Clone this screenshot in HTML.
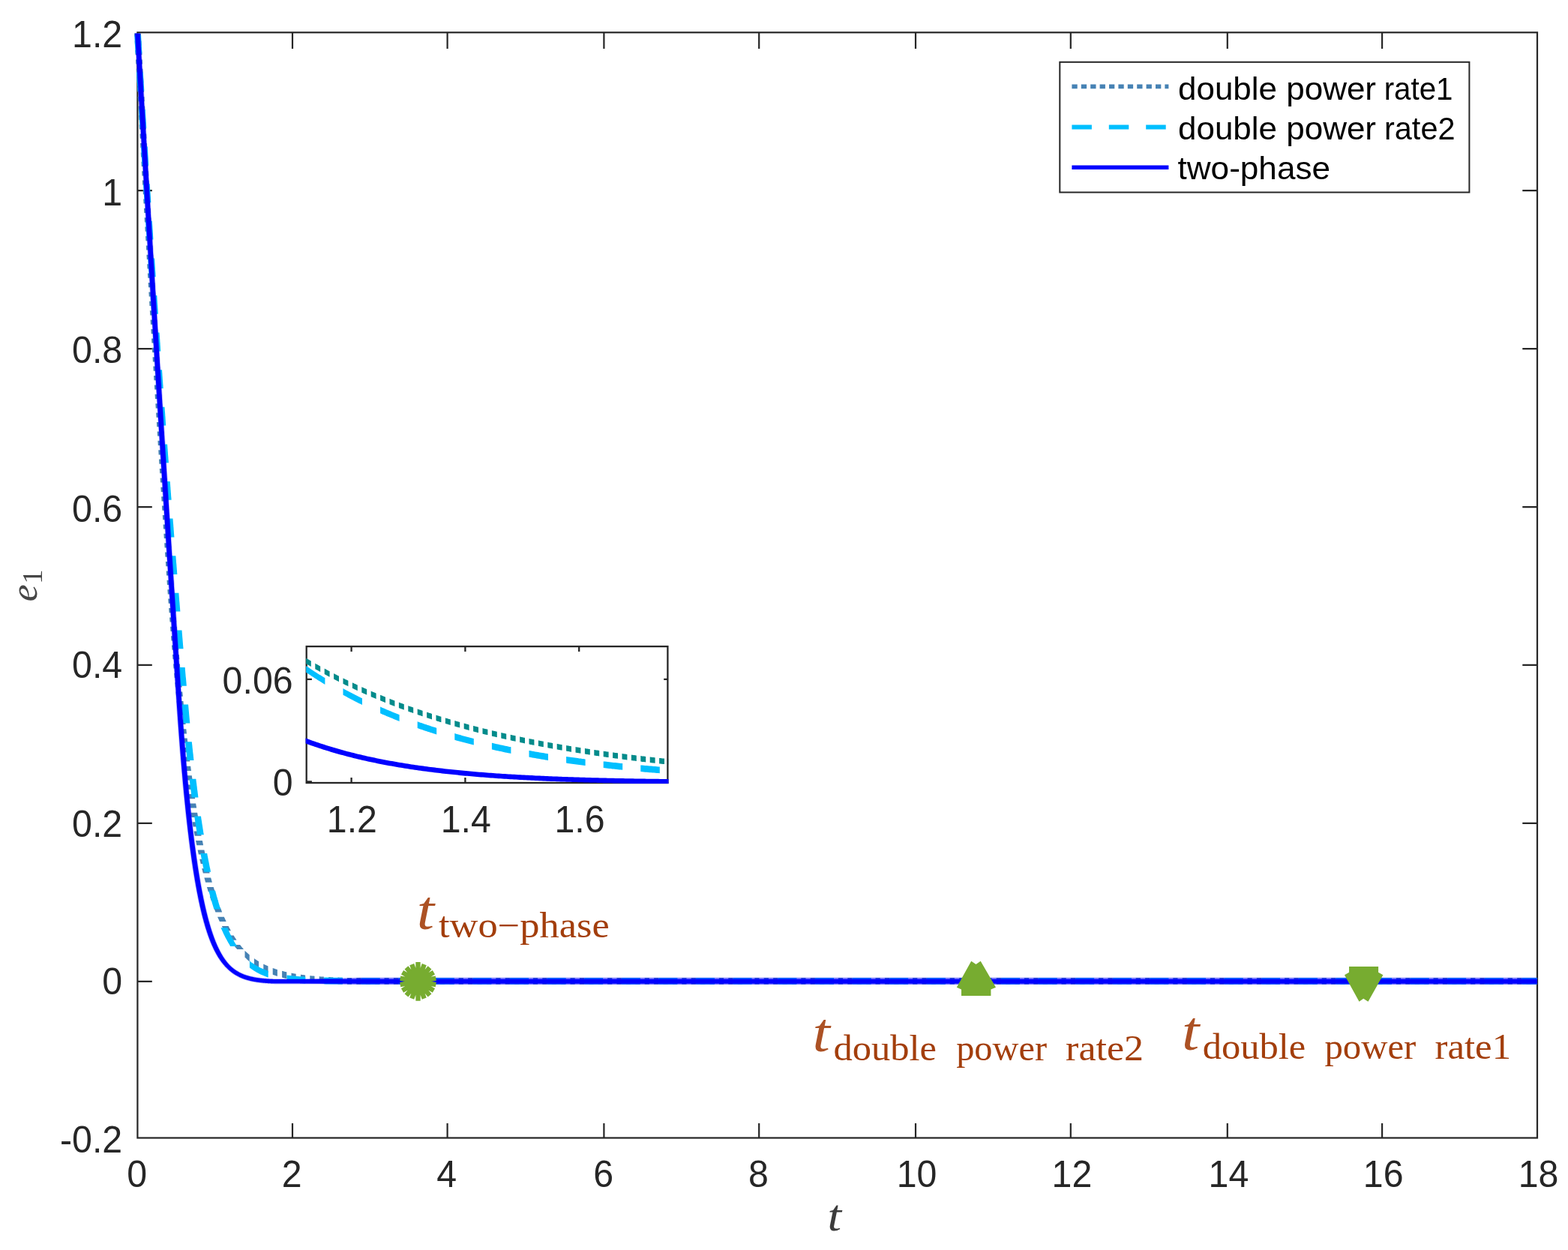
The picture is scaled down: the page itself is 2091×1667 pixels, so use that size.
<!DOCTYPE html>
<html lang="en"><head><meta charset="utf-8"><title>Convergence of e1: double power rate vs two-phase</title>
<style>html,body{margin:0;padding:0;background:#fff}body{width:2091px;height:1667px;overflow:hidden}svg{display:block}
.tk{font-family:"Liberation Sans",sans-serif;font-size:48.30px;fill:#262626}
.lg{font-family:"Liberation Sans",sans-serif;font-size:43.40px;fill:#000}
.mi{font-family:"Liberation Serif",serif;font-style:italic}
.mr{font-family:"Liberation Serif",serif}
.an{fill:#A33E0C}
</style></head><body>
<svg width="2091" height="1667" viewBox="0 0 2091 1667" role="img" aria-label="Convergence of e1 over t for double power rate1, double power rate2 and two-phase reaching laws">
<rect width="2091" height="1667" fill="#fff"/>
<defs><clipPath id="cm"><rect x="175.40" y="44.40" width="1874.60" height="1474.20"/></clipPath>
<clipPath id="ci"><rect x="407.60" y="862.10" width="483.90" height="183.00"/></clipPath></defs>
<g stroke="#262626" stroke-width="2.20" fill="none" stroke-linecap="butt">
<rect x="183.40" y="43.30" width="1866.60" height="1474.20"/>
<path d="M390.00,1517.50v-19.40M390.00,43.30v21.80M596.60,1517.50v-19.40M596.60,43.30v21.80M805.40,1517.50v-19.40M805.40,43.30v21.80M1012.20,1517.50v-19.40M1012.20,43.30v21.80M1221.00,1517.50v-19.40M1221.00,43.30v21.80M1427.80,1517.50v-19.40M1427.80,43.30v21.80M1636.80,1517.50v-19.40M1636.80,43.30v21.80M1843.10,1517.50v-19.40M1843.10,43.30v21.80M183.40,1308.80h19.40M2050.00,1308.80h-19.70M183.40,1097.88h19.40M2050.00,1097.88h-19.70M183.40,886.96h19.40M2050.00,886.96h-19.70M183.40,676.04h19.40M2050.00,676.04h-19.70M183.40,465.12h19.40M2050.00,465.12h-19.70M183.40,254.20h19.40M2050.00,254.20h-19.70"/>
</g>
<text class="tk" transform="translate(182.60,1582.90) scale(1,1.015)" text-anchor="middle">0</text>
<text class="tk" transform="translate(389.20,1582.90) scale(1,1.015)" text-anchor="middle">2</text>
<text class="tk" transform="translate(595.80,1582.90) scale(1,1.015)" text-anchor="middle">4</text>
<text class="tk" transform="translate(804.60,1582.90) scale(1,1.015)" text-anchor="middle">6</text>
<text class="tk" transform="translate(1011.40,1582.90) scale(1,1.015)" text-anchor="middle">8</text>
<text class="tk" transform="translate(1222.60,1582.90) scale(1,1.015)" text-anchor="middle">10</text>
<text class="tk" transform="translate(1429.40,1582.90) scale(1,1.015)" text-anchor="middle">12</text>
<text class="tk" transform="translate(1638.40,1582.90) scale(1,1.015)" text-anchor="middle">14</text>
<text class="tk" transform="translate(1844.70,1582.90) scale(1,1.015)" text-anchor="middle">16</text>
<text class="tk" transform="translate(2051.60,1582.90) scale(1,1.015)" text-anchor="middle">18</text>
<text class="tk" transform="translate(163.20,1536.60) scale(1,1.015)" text-anchor="end">-0.2</text>
<text class="tk" transform="translate(163.20,1325.70) scale(1,1.015)" text-anchor="end">0</text>
<text class="tk" transform="translate(163.20,1115.50) scale(1,1.015)" text-anchor="end">0.2</text>
<text class="tk" transform="translate(163.20,904.30) scale(1,1.015)" text-anchor="end">0.4</text>
<text class="tk" transform="translate(163.20,695.50) scale(1,1.015)" text-anchor="end">0.6</text>
<text class="tk" transform="translate(163.20,484.00) scale(1,1.015)" text-anchor="end">0.8</text>
<text class="tk" transform="translate(163.20,273.60) scale(1,1.015)" text-anchor="end">1</text>
<text class="tk" transform="translate(163.20,62.50) scale(1,1.015)" text-anchor="end">1.2</text>
<g clip-path="url(#cm)" fill="none" stroke-linejoin="round">
<path d="M187.8,42.8 187.9,43.8 187.9,44.7 188.0,45.7 188.0,46.7 188.1,47.7 188.1,48.4 179.3,48.4 179.3,47.7 179.2,46.7 179.2,45.7 179.1,44.7 179.1,43.8 179.0,42.8ZM188.4,54.6 188.5,55.5 188.5,56.4 188.6,57.4 188.6,58.4 188.7,59.3 188.7,60.3 188.8,60.8 180.0,60.8 179.9,60.3 179.9,59.3 179.8,58.4 179.8,57.4 179.7,56.4 179.7,55.5 179.6,54.6ZM189.1,67.0 189.1,67.1 189.1,68.1 189.2,69.1 189.3,70.0 189.3,71.0 189.4,72.0 189.4,72.9 189.4,73.2 180.6,73.2 180.6,72.9 180.6,72.0 180.5,71.0 180.5,70.0 180.4,69.1 180.3,68.1 180.3,67.1 180.3,67.0ZM189.8,79.4 189.8,79.7 189.8,80.7 189.9,81.6 189.9,82.6 190.0,83.6 190.0,84.5 190.1,85.5 190.1,85.6 181.3,85.6 181.3,85.5 181.2,84.5 181.2,83.6 181.1,82.6 181.1,81.6 181.0,80.7 181.0,79.7 181.0,79.4ZM190.4,91.8 190.4,92.2 190.5,93.2 190.5,94.2 190.6,95.1 190.7,96.1 190.7,97.0 190.8,98.0 182.0,98.0 181.9,97.0 181.9,96.1 181.8,95.1 181.7,94.2 181.7,93.2 181.6,92.2 181.6,91.8ZM191.1,104.2 191.1,104.7 191.2,105.7 191.2,106.7 191.3,107.6 191.3,108.6 191.4,109.5 191.4,110.4 182.6,110.4 182.6,109.5 182.5,108.6 182.5,107.6 182.4,106.7 182.4,105.7 182.3,104.7 182.3,104.2ZM191.8,116.6 191.8,117.2 191.8,118.1 191.9,119.1 191.9,120.1 192.0,121.0 192.1,122.0 192.1,122.8 183.3,122.8 183.3,122.0 183.2,121.0 183.1,120.1 183.1,119.1 183.0,118.1 183.0,117.2 183.0,116.6ZM192.4,129.0 192.5,129.6 192.5,130.5 192.6,131.5 192.6,132.4 192.7,133.4 192.7,134.4 192.8,135.2 184.0,135.2 183.9,134.4 183.9,133.4 183.8,132.4 183.8,131.5 183.7,130.5 183.7,129.6 183.6,129.0ZM193.1,141.4 193.1,142.0 193.2,142.9 193.2,143.8 193.3,144.8 193.3,145.7 193.4,146.7 193.4,147.6 184.6,147.6 184.6,146.7 184.5,145.7 184.5,144.8 184.4,143.8 184.4,142.9 184.3,142.0 184.3,141.4ZM193.8,153.8 193.8,154.3 193.9,155.2 193.9,156.2 194.0,157.1 194.0,158.0 194.1,159.0 194.1,159.9 194.1,160.0 185.3,160.0 185.3,159.9 185.3,159.0 185.2,158.0 185.2,157.1 185.1,156.2 185.1,155.2 185.0,154.3 185.0,153.8ZM194.5,166.2 194.5,166.5 194.5,167.5 194.6,168.4 194.6,169.4 194.7,170.3 194.7,171.3 194.8,172.2 194.8,172.4 186.0,172.4 186.0,172.2 185.9,171.3 185.9,170.3 185.8,169.4 185.8,168.4 185.7,167.5 185.7,166.5 185.7,166.2ZM195.2,178.6 195.2,178.8 195.2,179.7 195.3,180.6 195.3,181.6 195.4,182.5 195.4,183.5 195.5,184.4 195.5,184.8 186.7,184.8 186.7,184.4 186.6,183.5 186.6,182.5 186.5,181.6 186.5,180.6 186.4,179.7 186.4,178.8 186.4,178.6ZM195.8,191.0 195.9,191.9 195.9,192.8 196.0,193.8 196.0,194.7 196.1,195.6 196.1,196.6 196.2,197.2 187.4,197.2 187.3,196.6 187.3,195.6 187.2,194.7 187.2,193.8 187.1,192.8 187.1,191.9 187.0,191.0ZM196.5,203.4 196.6,204.0 196.6,205.0 196.7,205.9 196.7,206.8 196.8,207.8 196.8,208.7 196.9,209.6 188.1,209.6 188.0,208.7 188.0,207.8 187.9,206.8 187.9,205.9 187.8,205.0 187.8,204.0 187.7,203.4ZM197.2,215.8 197.2,216.1 197.3,217.1 197.3,218.0 197.4,218.9 197.4,219.8 197.5,220.8 197.5,221.7 197.6,222.0 188.8,222.0 188.7,221.7 188.7,220.8 188.6,219.8 188.6,218.9 188.5,218.0 188.5,217.1 188.4,216.1 188.4,215.8ZM197.9,228.2 198.0,229.1 198.0,230.0 198.1,230.9 198.1,231.9 198.2,232.8 198.2,233.7 198.3,234.4 189.5,234.4 189.4,233.7 189.4,232.8 189.3,231.9 189.3,230.9 189.2,230.0 189.2,229.1 189.1,228.2ZM198.6,240.6 198.6,241.1 198.7,242.0 198.7,242.9 198.8,243.9 198.8,244.8 198.9,245.7 198.9,246.6 199.0,246.8 190.2,246.8 190.1,246.6 190.1,245.7 190.0,244.8 190.0,243.9 189.9,242.9 189.9,242.0 189.8,241.1 189.8,240.6ZM199.3,253.0 199.3,253.1 199.4,254.0 199.4,254.9 199.5,255.8 199.5,256.7 199.6,257.7 199.6,258.6 199.7,259.2 190.9,259.2 190.8,258.6 190.8,257.7 190.7,256.7 190.7,255.8 190.6,254.9 190.6,254.0 190.5,253.1 190.5,253.0ZM200.0,265.4 200.0,265.9 200.1,266.8 200.1,267.7 200.2,268.6 200.2,269.6 200.3,270.5 200.3,271.4 200.4,271.6 191.6,271.6 191.5,271.4 191.5,270.5 191.4,269.6 191.4,268.6 191.3,267.7 191.3,266.8 191.2,265.9 191.2,265.4ZM200.7,277.8 200.8,278.7 200.8,279.6 200.9,280.5 200.9,281.4 201.0,282.3 201.0,283.2 201.1,284.0 192.3,284.0 192.2,283.2 192.2,282.3 192.1,281.4 192.1,280.5 192.0,279.6 192.0,278.7 191.9,277.8ZM201.4,290.2 201.4,290.5 201.5,291.4 201.5,292.3 201.6,293.2 201.6,294.1 201.7,295.0 201.7,295.9 201.8,296.4 193.0,296.4 192.9,295.9 192.9,295.0 192.8,294.1 192.8,293.2 192.7,292.3 192.7,291.4 192.6,290.5 192.6,290.2ZM202.1,302.6 202.2,303.2 202.2,304.1 202.3,305.0 202.3,305.9 202.4,306.8 202.4,307.7 202.5,308.6 202.5,308.8 193.7,308.8 193.7,308.6 193.6,307.7 193.6,306.8 193.5,305.9 193.5,305.0 193.4,304.1 193.4,303.2 193.3,302.6ZM202.8,315.0 202.9,315.8 202.9,316.7 203.0,317.6 203.0,318.5 203.1,319.4 203.2,320.3 203.2,321.2 194.4,321.2 194.4,320.3 194.3,319.4 194.2,318.5 194.2,317.6 194.1,316.7 194.1,315.8 194.0,315.0ZM203.6,327.4 203.6,327.5 203.6,328.4 203.7,329.3 203.7,330.2 203.8,331.1 203.8,332.0 203.9,332.9 203.9,333.6 195.1,333.6 195.1,332.9 195.0,332.0 195.0,331.1 194.9,330.2 194.9,329.3 194.8,328.4 194.8,327.5 194.8,327.4ZM204.3,339.8 204.3,340.1 204.3,341.0 204.4,341.9 204.4,342.8 204.5,343.6 204.6,344.5 204.6,345.4 204.6,346.0 195.8,346.0 195.8,345.4 195.8,344.5 195.7,343.6 195.6,342.8 195.6,341.9 195.5,341.0 195.5,340.1 195.5,339.8ZM205.0,352.2 205.0,352.6 205.1,353.5 205.1,354.3 205.2,355.2 205.2,356.1 205.3,357.0 205.3,357.9 205.4,358.4 196.6,358.4 196.5,357.9 196.5,357.0 196.4,356.1 196.4,355.2 196.3,354.3 196.3,353.5 196.2,352.6 196.2,352.2ZM205.7,364.6 205.7,365.0 205.8,365.9 205.8,366.8 205.9,367.7 206.0,368.6 206.0,369.4 206.1,370.3 206.1,370.8 197.3,370.8 197.3,370.3 197.2,369.4 197.2,368.6 197.1,367.7 197.0,366.8 197.0,365.9 196.9,365.0 196.9,364.6ZM206.4,377.0 206.5,377.4 206.5,378.3 206.6,379.2 206.6,380.1 206.7,380.9 206.7,381.8 206.8,382.7 206.8,383.2 198.0,383.2 198.0,382.7 197.9,381.8 197.9,380.9 197.8,380.1 197.8,379.2 197.7,378.3 197.7,377.4 197.6,377.0ZM207.2,389.4 207.2,389.8 207.2,390.6 207.3,391.5 207.4,392.4 207.4,393.3 207.5,394.2 207.5,395.0 207.5,395.6 198.7,395.6 198.7,395.0 198.7,394.2 198.6,393.3 198.6,392.4 198.5,391.5 198.4,390.6 198.4,389.8 198.4,389.4ZM207.9,401.8 207.9,402.1 208.0,402.9 208.0,403.8 208.1,404.7 208.1,405.6 208.2,406.5 208.2,407.3 208.3,408.0 199.5,408.0 199.4,407.3 199.4,406.5 199.3,405.6 199.3,404.7 199.2,403.8 199.2,402.9 199.1,402.1 199.1,401.8ZM208.6,414.2 208.6,414.3 208.7,415.2 208.8,416.1 208.8,416.9 208.9,417.8 208.9,418.7 209.0,419.6 209.0,420.4 200.2,420.4 200.2,419.6 200.1,418.7 200.1,417.8 200.0,416.9 200.0,416.1 199.9,415.2 199.8,414.3 199.8,414.2ZM209.4,426.6 209.4,427.4 209.5,428.3 209.5,429.1 209.6,430.0 209.6,430.9 209.7,431.8 209.7,432.6 209.7,432.8 200.9,432.8 200.9,432.6 200.9,431.8 200.8,430.9 200.8,430.0 200.7,429.1 200.7,428.3 200.6,427.4 200.6,426.6ZM210.1,439.0 210.2,439.6 210.2,440.4 210.3,441.3 210.3,442.2 210.4,443.0 210.4,443.9 210.5,444.8 210.5,445.2 201.7,445.2 201.7,444.8 201.6,443.9 201.6,443.0 201.5,442.2 201.5,441.3 201.4,440.4 201.4,439.6 201.3,439.0ZM210.9,451.4 210.9,451.7 210.9,452.5 211.0,453.4 211.0,454.3 211.1,455.1 211.1,456.0 211.2,456.9 211.2,457.6 202.4,457.6 202.4,456.9 202.3,456.0 202.3,455.1 202.2,454.3 202.2,453.4 202.1,452.5 202.1,451.7 202.1,451.4ZM211.6,463.8 211.7,464.6 211.7,465.5 211.8,466.3 211.8,467.2 211.9,468.0 211.9,468.9 212.0,469.8 212.0,470.0 203.2,470.0 203.2,469.8 203.1,468.9 203.1,468.0 203.0,467.2 203.0,466.3 202.9,465.5 202.9,464.6 202.8,463.8ZM212.4,476.2 212.4,476.6 212.4,477.5 212.5,478.3 212.5,479.2 212.6,480.0 212.6,480.9 212.7,481.7 212.7,482.4 203.9,482.4 203.9,481.7 203.8,480.9 203.8,480.0 203.7,479.2 203.7,478.3 203.6,477.5 203.6,476.6 203.6,476.2ZM213.1,488.6 213.1,488.6 213.2,489.4 213.2,490.3 213.3,491.1 213.3,492.0 213.4,492.8 213.4,493.7 213.5,494.5 213.5,494.8 204.7,494.8 204.7,494.5 204.6,493.7 204.6,492.8 204.5,492.0 204.5,491.1 204.4,490.3 204.4,489.4 204.3,488.6 204.3,488.6ZM213.9,501.0 213.9,501.4 213.9,502.2 214.0,503.1 214.0,503.9 214.1,504.8 214.1,505.6 214.2,506.4 214.2,507.2 205.4,507.2 205.4,506.4 205.3,505.6 205.3,504.8 205.2,503.9 205.2,503.1 205.1,502.2 205.1,501.4 205.1,501.0ZM214.6,513.4 214.7,514.1 214.7,514.9 214.8,515.8 214.8,516.6 214.9,517.5 214.9,518.3 215.0,519.1 215.0,519.6 206.2,519.6 206.2,519.1 206.1,518.3 206.1,517.5 206.0,516.6 206.0,515.8 205.9,514.9 205.9,514.1 205.8,513.4ZM215.4,525.8 215.4,525.9 215.4,526.7 215.5,527.6 215.5,528.4 215.6,529.3 215.6,530.1 215.7,530.9 215.8,531.8 215.8,532.0 207.0,532.0 207.0,531.8 206.9,530.9 206.8,530.1 206.8,529.3 206.7,528.4 206.7,527.6 206.6,526.7 206.6,525.9 206.6,525.8ZM216.1,538.2 216.2,538.5 216.2,539.4 216.3,540.2 216.3,541.0 216.4,541.9 216.4,542.7 216.5,543.5 216.5,544.4 207.7,544.4 207.7,543.5 207.6,542.7 207.6,541.9 207.5,541.0 207.5,540.2 207.4,539.4 207.4,538.5 207.3,538.2ZM216.9,550.6 216.9,551.1 217.0,551.9 217.0,552.7 217.1,553.6 217.2,554.4 217.2,555.3 217.3,556.1 217.3,556.8 208.5,556.8 208.5,556.1 208.4,555.3 208.4,554.4 208.3,553.6 208.2,552.7 208.2,551.9 208.1,551.1 208.1,550.6ZM217.7,563.0 217.7,563.6 217.8,564.4 217.8,565.3 217.9,566.1 217.9,566.9 218.0,567.7 218.0,568.6 218.1,569.2 209.3,569.2 209.2,568.6 209.2,567.7 209.1,566.9 209.1,566.1 209.0,565.3 209.0,564.4 208.9,563.6 208.9,563.0ZM218.5,575.4 218.5,576.1 218.6,576.9 218.6,577.7 218.7,578.5 218.7,579.4 218.8,580.2 218.8,581.0 218.8,581.6 210.0,581.6 210.0,581.0 210.0,580.2 209.9,579.4 209.9,578.5 209.8,577.7 209.8,576.9 209.7,576.1 209.7,575.4ZM219.2,587.8 219.3,588.5 219.3,589.3 219.4,590.1 219.4,590.9 219.5,591.8 219.5,592.6 219.6,593.4 219.6,594.0 210.8,594.0 210.8,593.4 210.7,592.6 210.7,591.8 210.6,590.9 210.6,590.1 210.5,589.3 210.5,588.5 210.4,587.8ZM220.0,600.2 220.1,600.8 220.1,601.6 220.2,602.5 220.2,603.3 220.3,604.1 220.3,604.9 220.4,605.7 220.4,606.4 211.6,606.4 211.6,605.7 211.5,604.9 211.5,604.1 211.4,603.3 211.4,602.5 211.3,601.6 211.3,600.8 211.2,600.2ZM220.8,612.6 220.8,613.1 220.9,613.9 220.9,614.8 221.0,615.6 221.0,616.4 221.1,617.2 221.1,618.0 221.2,618.8 212.4,618.8 212.3,618.0 212.3,617.2 212.2,616.4 212.2,615.6 212.1,614.8 212.1,613.9 212.0,613.1 212.0,612.6ZM221.6,625.0 221.6,625.4 221.7,626.2 221.7,627.0 221.8,627.8 221.8,628.6 221.9,629.5 221.9,630.3 222.0,631.1 222.0,631.2 213.2,631.2 213.2,631.1 213.1,630.3 213.1,629.5 213.0,628.6 213.0,627.8 212.9,627.0 212.9,626.2 212.8,625.4 212.8,625.0ZM222.4,637.4 222.4,637.6 222.4,638.4 222.5,639.2 222.5,640.0 222.6,640.8 222.6,641.6 222.7,642.5 222.8,643.3 222.8,643.6 214.0,643.6 214.0,643.3 213.9,642.5 213.8,641.6 213.8,640.8 213.7,640.0 213.7,639.2 213.6,638.4 213.6,637.6 213.6,637.4ZM223.2,649.8 223.2,650.5 223.3,651.4 223.3,652.2 223.4,653.0 223.4,653.8 223.5,654.6 223.5,655.4 223.6,656.0 214.8,656.0 214.7,655.4 214.7,654.6 214.6,653.8 214.6,653.0 214.5,652.2 214.5,651.4 214.4,650.5 214.4,649.8ZM224.0,662.2 224.0,662.6 224.0,663.5 224.1,664.3 224.2,665.1 224.2,665.9 224.3,666.7 224.3,667.5 224.4,668.3 224.4,668.4 215.6,668.4 215.6,668.3 215.5,667.5 215.5,666.7 215.4,665.9 215.4,665.1 215.3,664.3 215.2,663.5 215.2,662.6 215.2,662.2ZM224.8,674.6 224.8,674.7 224.8,675.5 224.9,676.3 224.9,677.1 225.0,677.9 225.0,678.7 225.1,679.5 225.1,680.3 225.2,680.8 216.4,680.8 216.3,680.3 216.3,679.5 216.2,678.7 216.2,677.9 216.1,677.1 216.1,676.3 216.0,675.5 216.0,674.7 216.0,674.6ZM225.6,687.0 225.6,687.5 225.7,688.3 225.7,689.1 225.8,689.9 225.8,690.7 225.9,691.5 225.9,692.3 226.0,693.1 226.0,693.2 217.2,693.2 217.2,693.1 217.1,692.3 217.1,691.5 217.0,690.7 217.0,689.9 216.9,689.1 216.9,688.3 216.8,687.5 216.8,687.0ZM226.4,699.4 226.4,699.4 226.4,700.2 226.5,701.0 226.5,701.8 226.6,702.6 226.6,703.4 226.7,704.2 226.7,705.0 226.8,705.6 218.0,705.6 217.9,705.0 217.9,704.2 217.8,703.4 217.8,702.6 217.7,701.8 217.7,701.0 217.6,700.2 217.6,699.4 217.6,699.4ZM227.2,711.8 227.2,712.1 227.3,712.9 227.3,713.7 227.4,714.5 227.4,715.3 227.5,716.1 227.5,716.9 227.6,717.7 227.6,718.0 218.8,718.0 218.8,717.7 218.7,716.9 218.7,716.1 218.6,715.3 218.6,714.5 218.5,713.7 218.5,712.9 218.4,712.1 218.4,711.8ZM228.0,724.2 228.0,724.8 228.1,725.6 228.1,726.3 228.2,727.1 228.2,727.9 228.3,728.7 228.4,729.5 228.4,730.3 228.4,730.4 219.6,730.4 219.6,730.3 219.6,729.5 219.5,728.7 219.4,727.9 219.4,727.1 219.3,726.3 219.3,725.6 219.2,724.8 219.2,724.2ZM228.8,736.6 228.9,737.3 228.9,738.1 229.0,738.9 229.0,739.7 229.1,740.5 229.1,741.3 229.2,742.0 229.2,742.8 220.4,742.8 220.4,742.0 220.3,741.3 220.3,740.5 220.2,739.7 220.2,738.9 220.1,738.1 220.1,737.3 220.0,736.6ZM229.6,749.0 229.6,749.1 229.7,749.9 229.8,750.6 229.8,751.4 229.9,752.2 229.9,753.0 230.0,753.8 230.0,754.5 230.1,755.2 221.3,755.2 221.2,754.5 221.2,753.8 221.1,753.0 221.1,752.2 221.0,751.4 221.0,750.6 220.9,749.9 220.8,749.1 220.8,749.0ZM230.5,761.4 230.5,761.6 230.5,762.3 230.6,763.1 230.6,763.9 230.7,764.7 230.7,765.4 230.8,766.2 230.8,767.0 230.9,767.6 222.1,767.6 222.0,767.0 222.0,766.2 221.9,765.4 221.9,764.7 221.8,763.9 221.8,763.1 221.7,762.3 221.7,761.6 221.7,761.4ZM231.3,773.8 231.3,773.8 231.4,774.6 231.4,775.4 231.5,776.1 231.5,776.9 231.6,777.6 231.6,778.4 231.7,779.1 231.7,779.9 231.7,780.0 222.9,780.0 222.9,779.9 222.9,779.1 222.8,778.4 222.8,777.6 222.7,776.9 222.7,776.1 222.6,775.4 222.6,774.6 222.5,773.8 222.5,773.8ZM232.2,786.2 232.2,786.6 232.2,787.3 232.3,788.1 232.3,788.8 232.4,789.6 232.5,790.3 232.5,791.0 232.6,791.8 232.6,792.4 223.8,792.4 223.8,791.8 223.7,791.0 223.7,790.3 223.6,789.6 223.5,788.8 223.5,788.1 223.4,787.3 223.4,786.6 223.4,786.2ZM233.0,798.6 233.1,799.0 233.1,799.8 233.2,800.5 233.2,801.2 233.3,801.9 233.3,802.7 233.4,803.4 233.4,804.1 233.5,804.8 224.7,804.8 224.6,804.1 224.6,803.4 224.5,802.7 224.5,801.9 224.4,801.2 224.4,800.5 224.3,799.8 224.3,799.0 224.2,798.6ZM233.9,811.0 234.0,811.2 234.0,811.9 234.1,812.6 234.1,813.3 234.2,814.0 234.2,814.7 234.3,815.4 234.3,816.1 234.4,816.8 234.4,817.2 225.6,817.2 225.6,816.8 225.5,816.1 225.5,815.4 225.4,814.7 225.4,814.0 225.3,813.3 225.3,812.6 225.2,811.9 225.2,811.2 225.1,811.0ZM234.9,823.4 234.9,823.7 234.9,824.4 235.0,825.1 235.0,825.8 235.1,826.5 235.1,827.2 235.2,827.8 235.3,828.5 235.3,829.2 235.3,829.6 226.5,829.6 226.5,829.2 226.5,828.5 226.4,827.8 226.3,827.2 226.3,826.5 226.2,825.8 226.2,825.1 226.1,824.4 226.1,823.7 226.1,823.4ZM235.8,835.8 235.8,836.0 235.9,836.6 235.9,837.3 236.0,838.0 236.0,838.6 236.1,839.3 236.1,840.0 236.2,840.6 236.2,841.3 236.3,841.9 236.3,842.0 227.5,842.0 227.5,841.9 227.4,841.3 227.4,840.6 227.3,840.0 227.3,839.3 227.2,838.6 227.2,838.0 227.1,837.3 227.1,836.6 227.0,836.0 227.0,835.8ZM236.8,848.2 236.8,848.5 236.9,849.2 236.9,849.8 237.0,850.5 237.0,851.1 237.1,851.8 237.1,852.4 237.2,853.1 237.2,853.7 237.3,854.3 237.3,854.4 228.5,854.4 228.5,854.3 228.4,853.7 228.4,853.1 228.3,852.4 228.3,851.8 228.2,851.1 228.2,850.5 228.1,849.8 228.1,849.2 228.0,848.5 228.0,848.2ZM237.8,860.6 237.8,860.7 237.8,861.4 237.9,862.0 237.9,862.6 238.0,863.3 238.1,863.9 238.1,864.5 238.2,865.2 238.2,865.8 238.3,866.4 238.3,866.8 229.5,866.8 229.5,866.4 229.4,865.8 229.4,865.2 229.3,864.5 229.3,863.9 229.2,863.3 229.1,862.6 229.1,862.0 229.0,861.4 229.0,860.7 229.0,860.6ZM238.8,873.0 238.8,873.2 238.9,873.9 238.9,874.5 239.0,875.1 239.0,875.7 239.1,876.3 239.1,876.9 239.2,877.5 239.2,878.2 239.3,878.8 239.3,879.2 230.5,879.2 230.5,878.8 230.4,878.2 230.4,877.5 230.3,876.9 230.3,876.3 230.2,875.7 230.2,875.1 230.1,874.5 230.1,873.9 230.0,873.2 230.0,873.0ZM239.9,885.4 239.9,885.4 239.9,886.0 240.0,886.6 240.0,887.2 240.1,887.8 240.1,888.4 240.2,889.0 240.2,889.6 240.3,890.2 240.3,890.8 240.4,891.4 240.4,891.6 231.6,891.6 231.6,891.4 231.5,890.8 231.5,890.2 231.4,889.6 231.4,889.0 231.3,888.4 231.3,887.8 231.2,887.2 231.2,886.6 231.1,886.0 231.1,885.4 231.1,885.4ZM241.0,897.8 241.0,897.8 241.0,898.4 241.1,899.0 241.1,899.5 241.2,900.1 241.2,900.7 241.3,901.3 241.3,901.8 241.4,902.4 241.4,903.0 241.5,903.6 241.5,904.0 232.7,904.0 232.7,903.6 232.6,903.0 232.6,902.4 232.5,901.8 232.5,901.3 232.4,900.7 232.4,900.1 232.3,899.5 232.3,899.0 232.2,898.4 232.2,897.8 232.2,897.8ZM242.1,910.2 242.1,910.4 242.1,910.9 242.2,911.5 242.3,912.1 242.3,912.6 242.4,913.2 242.4,913.7 242.5,914.3 242.5,914.9 242.6,915.4 242.6,916.0 242.7,916.4 233.9,916.4 233.8,916.0 233.8,915.4 233.7,914.9 233.7,914.3 233.6,913.7 233.6,913.2 233.5,912.6 233.5,912.1 233.4,911.5 233.3,910.9 233.3,910.4 233.3,910.2ZM243.2,922.6 243.2,922.6 243.3,923.1 243.3,923.7 243.4,924.2 243.4,924.8 243.5,925.3 243.5,925.8 243.6,926.4 243.7,926.9 243.7,927.5 243.8,928.0 243.8,928.5 243.8,928.8 235.0,928.8 235.0,928.5 235.0,928.0 234.9,927.5 234.9,926.9 234.8,926.4 234.7,925.8 234.7,925.3 234.6,924.8 234.6,924.2 234.5,923.7 234.5,923.1 234.4,922.6 234.4,922.6ZM244.4,935.0 244.5,935.5 244.5,936.0 244.6,936.5 244.6,937.0 244.7,937.6 244.7,938.1 244.8,938.6 244.8,939.1 244.9,939.7 244.9,940.2 245.0,940.7 245.0,941.2 236.2,941.2 236.2,940.7 236.1,940.2 236.1,939.7 236.0,939.1 236.0,938.6 235.9,938.1 235.9,937.6 235.8,937.0 235.8,936.5 235.7,936.0 235.7,935.5 235.6,935.0ZM245.7,947.4 245.7,947.4 245.7,947.9 245.8,948.4 245.8,948.9 245.9,949.4 245.9,949.9 246.0,950.4 246.0,950.9 246.1,951.4 246.1,951.9 246.2,952.5 246.2,953.0 246.3,953.5 246.3,953.6 237.5,953.6 237.5,953.5 237.4,953.0 237.4,952.5 237.3,951.9 237.3,951.4 237.2,950.9 237.2,950.4 237.1,949.9 237.1,949.4 237.0,948.9 237.0,948.4 236.9,947.9 236.9,947.4 236.9,947.4ZM247.0,959.8 247.0,959.9 247.0,960.4 247.1,960.9 247.1,961.4 247.2,961.9 247.2,962.4 247.3,962.9 247.3,963.3 247.4,963.8 247.4,964.3 247.5,964.8 247.5,965.3 247.6,965.8 247.6,966.0 238.8,966.0 238.8,965.8 238.7,965.3 238.7,964.8 238.6,964.3 238.6,963.8 238.5,963.3 238.5,962.9 238.4,962.4 238.4,961.9 238.3,961.4 238.3,960.9 238.2,960.4 238.2,959.9 238.2,959.8ZM248.3,972.2 248.3,972.5 248.4,973.0 248.4,973.4 248.5,973.9 248.5,974.4 248.6,974.8 248.6,975.3 248.7,975.8 248.7,976.3 248.8,976.7 248.8,977.2 248.9,977.7 248.9,978.1 249.0,978.4 240.2,978.4 240.1,978.1 240.1,977.7 240.0,977.2 240.0,976.7 239.9,976.3 239.9,975.8 239.8,975.3 239.8,974.8 239.7,974.4 239.7,973.9 239.6,973.4 239.6,973.0 239.5,972.5 239.5,972.2ZM249.7,984.6 249.7,984.6 249.7,985.0 249.8,985.5 249.8,986.0 249.9,986.4 249.9,986.9 250.0,987.3 250.0,987.8 250.1,988.2 250.1,988.7 250.2,989.1 250.2,989.6 250.3,990.0 250.3,990.5 250.4,990.8 241.6,990.8 241.5,990.5 241.5,990.0 241.4,989.6 241.4,989.1 241.3,988.7 241.3,988.2 241.2,987.8 241.2,987.3 241.1,986.9 241.1,986.4 241.0,986.0 241.0,985.5 240.9,985.0 240.9,984.6 240.9,984.6ZM251.1,997.0 251.1,997.1 251.2,997.6 251.2,998.0 251.3,998.4 251.3,998.9 251.4,999.3 251.4,999.8 251.5,1000.2 251.5,1000.6 251.6,1001.1 251.6,1001.5 251.7,1001.9 251.7,1002.4 251.8,1002.8 251.8,1003.2 243.0,1003.2 243.0,1002.8 242.9,1002.4 242.9,1001.9 242.8,1001.5 242.8,1001.1 242.7,1000.6 242.7,1000.2 242.6,999.8 242.6,999.3 242.5,998.9 242.5,998.4 242.4,998.0 242.4,997.6 242.3,997.1 242.3,997.0ZM252.6,1009.4 252.6,1009.6 252.7,1010.0 252.7,1010.4 252.8,1010.9 252.8,1011.3 252.9,1011.7 252.9,1012.1 253.0,1012.5 253.0,1013.0 253.1,1013.4 253.1,1013.8 253.2,1014.2 253.2,1014.6 253.3,1015.0 253.3,1015.4 253.4,1015.6 244.6,1015.6 244.5,1015.4 244.5,1015.0 244.4,1014.6 244.4,1014.2 244.3,1013.8 244.3,1013.4 244.2,1013.0 244.2,1012.5 244.1,1012.1 244.1,1011.7 244.0,1011.3 244.0,1010.9 243.9,1010.4 243.9,1010.0 243.8,1009.6 243.8,1009.4ZM254.2,1021.8 254.2,1022.0 254.2,1022.4 254.3,1022.8 254.3,1023.2 254.4,1023.6 254.4,1024.0 254.5,1024.4 254.5,1024.8 254.6,1025.2 254.6,1025.6 254.7,1026.0 254.7,1026.4 254.8,1026.8 254.9,1027.2 254.9,1027.6 255.0,1028.0 255.0,1028.0 246.2,1028.0 246.2,1028.0 246.1,1027.6 246.1,1027.2 246.0,1026.8 245.9,1026.4 245.9,1026.0 245.8,1025.6 245.8,1025.2 245.7,1024.8 245.7,1024.4 245.6,1024.0 245.6,1023.6 245.5,1023.2 245.5,1022.8 245.4,1022.4 245.4,1022.0 245.4,1021.8ZM255.8,1034.2 255.8,1034.2 255.8,1034.6 255.9,1035.0 255.9,1035.4 256.0,1035.8 256.0,1036.1 256.1,1036.5 256.1,1036.9 256.2,1037.3 256.3,1037.7 256.3,1038.0 256.4,1038.4 256.4,1038.8 256.5,1039.2 256.5,1039.6 256.6,1039.9 256.6,1040.3 256.6,1040.4 247.8,1040.4 247.8,1040.3 247.8,1039.9 247.7,1039.6 247.7,1039.2 247.6,1038.8 247.6,1038.4 247.5,1038.0 247.5,1037.7 247.4,1037.3 247.3,1036.9 247.3,1036.5 247.2,1036.1 247.2,1035.8 247.1,1035.4 247.1,1035.0 247.0,1034.6 247.0,1034.2 247.0,1034.2ZM257.5,1046.6 257.5,1046.7 257.5,1047.0 257.6,1047.4 257.7,1047.8 257.7,1048.1 257.8,1048.5 257.8,1048.9 257.9,1049.2 257.9,1049.6 258.0,1050.0 258.0,1050.3 258.1,1050.7 258.1,1051.0 258.2,1051.4 258.2,1051.8 258.3,1052.1 258.3,1052.5 258.4,1052.8 249.6,1052.8 249.5,1052.5 249.5,1052.1 249.4,1051.8 249.4,1051.4 249.3,1051.0 249.3,1050.7 249.2,1050.3 249.2,1050.0 249.1,1049.6 249.1,1049.2 249.0,1048.9 249.0,1048.5 248.9,1048.1 248.9,1047.8 248.8,1047.4 248.7,1047.0 248.7,1046.7 248.7,1046.6ZM259.3,1059.0 259.3,1059.2 259.4,1059.6 259.4,1059.9 259.5,1060.3 259.5,1060.6 259.6,1061.0 259.6,1061.3 259.7,1061.7 259.7,1062.0 259.8,1062.4 259.8,1062.7 259.9,1063.1 259.9,1063.4 260.0,1063.8 260.0,1064.1 260.1,1064.4 260.1,1064.8 260.2,1065.1 260.2,1065.2 251.4,1065.2 251.4,1065.1 251.3,1064.8 251.3,1064.4 251.2,1064.1 251.2,1063.8 251.1,1063.4 251.1,1063.1 251.0,1062.7 251.0,1062.4 250.9,1062.0 250.9,1061.7 250.8,1061.3 250.8,1061.0 250.7,1060.6 250.7,1060.3 250.6,1059.9 250.6,1059.6 250.5,1059.2 250.5,1059.0ZM261.2,1071.4 261.2,1071.5 261.2,1071.9 261.3,1072.2 261.3,1072.5 261.4,1072.9 261.4,1073.2 261.5,1073.5 261.5,1073.9 261.6,1074.2 261.6,1074.5 261.7,1074.8 261.8,1075.2 261.8,1075.5 261.9,1075.8 261.9,1076.2 262.0,1076.5 262.0,1076.8 262.1,1077.1 262.1,1077.5 262.1,1077.6 253.3,1077.6 253.3,1077.5 253.3,1077.1 253.2,1076.8 253.2,1076.5 253.1,1076.2 253.1,1075.8 253.0,1075.5 253.0,1075.2 252.9,1074.8 252.8,1074.5 252.8,1074.2 252.7,1073.9 252.7,1073.5 252.6,1073.2 252.6,1072.9 252.5,1072.5 252.5,1072.2 252.4,1071.9 252.4,1071.5 252.4,1071.4ZM263.1,1083.8 263.2,1083.9 263.2,1084.2 263.3,1084.5 263.3,1084.8 263.4,1085.1 263.4,1085.4 263.5,1085.7 263.5,1086.1 263.6,1086.4 263.6,1086.7 263.7,1087.0 263.7,1087.3 263.8,1087.6 263.8,1087.9 263.9,1088.2 263.9,1088.5 264.0,1088.9 264.0,1089.2 264.1,1089.5 264.1,1089.8 264.2,1090.0 255.4,1090.0 255.3,1089.8 255.3,1089.5 255.2,1089.2 255.2,1088.9 255.1,1088.5 255.1,1088.2 255.0,1087.9 255.0,1087.6 254.9,1087.3 254.9,1087.0 254.8,1086.7 254.8,1086.4 254.7,1086.1 254.7,1085.7 254.6,1085.4 254.6,1085.1 254.5,1084.8 254.5,1084.5 254.4,1084.2 254.4,1083.9 254.3,1083.8ZM265.2,1096.2 265.3,1096.4 265.4,1097.0 265.5,1097.6 265.6,1098.2 265.7,1098.8 265.8,1099.4 265.9,1100.0 266.0,1100.6 266.1,1101.1 266.2,1101.7 266.3,1102.3 266.3,1102.4 257.5,1102.4 257.5,1102.3 257.4,1101.7 257.3,1101.1 257.2,1100.6 257.1,1100.0 257.0,1099.4 256.9,1098.8 256.8,1098.2 256.7,1097.6 256.6,1097.0 256.5,1096.4 256.4,1096.2ZM267.5,1108.6 267.5,1108.8 267.6,1109.4 267.7,1110.0 267.8,1110.5 267.9,1111.1 268.0,1111.6 268.1,1112.2 268.2,1112.7 268.3,1113.3 268.4,1113.8 268.5,1114.4 268.6,1114.6 268.6,1114.8 259.8,1114.8 259.8,1114.6 259.7,1114.4 259.6,1113.8 259.5,1113.3 259.4,1112.7 259.3,1112.2 259.2,1111.6 259.1,1111.1 259.0,1110.5 258.9,1110.0 258.8,1109.4 258.7,1108.8 258.7,1108.6ZM269.8,1121.0 269.8,1121.1 269.9,1121.6 270.0,1122.1 270.2,1122.6 270.3,1123.1 270.4,1123.7 270.5,1124.2 270.6,1124.7 270.7,1125.2 270.8,1125.7 270.9,1126.2 271.0,1126.7 271.0,1127.0 271.1,1127.2 262.3,1127.2 262.2,1127.0 262.2,1126.7 262.1,1126.2 262.0,1125.7 261.9,1125.2 261.8,1124.7 261.7,1124.2 261.6,1123.7 261.5,1123.1 261.4,1122.6 261.2,1122.1 261.1,1121.6 261.0,1121.1 261.0,1121.0ZM272.4,1133.4 272.4,1133.5 272.5,1134.0 272.6,1134.5 272.7,1135.0 272.8,1135.4 272.9,1135.9 273.0,1136.4 273.1,1136.9 273.2,1137.4 273.3,1137.8 273.4,1138.3 273.5,1138.8 273.6,1139.3 273.7,1139.5 273.7,1139.6 264.9,1139.6 264.9,1139.5 264.8,1139.3 264.7,1138.8 264.6,1138.3 264.5,1137.8 264.4,1137.4 264.3,1136.9 264.2,1136.4 264.1,1135.9 264.0,1135.4 263.9,1135.0 263.8,1134.5 263.7,1134.0 263.6,1133.5 263.6,1133.4ZM275.1,1145.8 275.1,1146.0 275.2,1146.5 275.3,1146.9 275.4,1147.4 275.5,1147.8 275.6,1148.3 275.8,1148.7 275.9,1149.2 276.0,1149.6 276.1,1150.0 276.2,1150.5 276.3,1150.9 276.4,1151.4 276.5,1151.8 276.5,1152.0 267.7,1152.0 267.7,1151.8 267.6,1151.4 267.5,1150.9 267.4,1150.5 267.3,1150.0 267.2,1149.6 267.1,1149.2 267.0,1148.7 266.8,1148.3 266.7,1147.8 266.6,1147.4 266.5,1146.9 266.4,1146.5 266.3,1146.0 266.3,1145.8ZM278.0,1158.2 278.0,1158.3 278.1,1158.7 278.2,1159.1 278.3,1159.5 278.4,1159.9 278.6,1160.3 278.7,1160.8 278.8,1161.2 278.9,1161.6 279.0,1162.0 279.1,1162.4 279.2,1162.8 279.3,1163.2 279.4,1163.6 279.5,1164.0 279.5,1164.2 279.6,1164.4 270.8,1164.4 270.7,1164.2 270.7,1164.0 270.6,1163.6 270.5,1163.2 270.4,1162.8 270.3,1162.4 270.2,1162.0 270.1,1161.6 270.0,1161.2 269.9,1160.8 269.8,1160.3 269.6,1159.9 269.5,1159.5 269.4,1159.1 269.3,1158.7 269.2,1158.3 269.2,1158.2ZM281.2,1170.6 281.2,1170.7 281.4,1171.3 281.6,1171.9 281.7,1172.4 281.9,1173.0 282.0,1173.6 282.2,1174.1 282.3,1174.7 282.5,1175.3 282.6,1175.8 282.8,1176.4 282.9,1176.7 282.9,1176.8 274.1,1176.8 274.1,1176.7 274.0,1176.4 273.8,1175.8 273.7,1175.3 273.5,1174.7 273.4,1174.1 273.2,1173.6 273.1,1173.0 272.9,1172.4 272.8,1171.9 272.6,1171.3 272.4,1170.7 272.4,1170.6ZM284.7,1183.0 284.7,1183.0 284.9,1183.6 285.0,1184.1 285.2,1184.6 285.3,1185.1 285.5,1185.6 285.7,1186.1 285.8,1186.7 286.0,1187.2 286.1,1187.7 286.3,1188.2 286.4,1188.7 286.5,1189.0 286.6,1189.2 277.8,1189.2 277.7,1189.0 277.6,1188.7 277.5,1188.2 277.3,1187.7 277.2,1187.2 277.0,1186.7 276.9,1186.1 276.7,1185.6 276.5,1185.1 276.4,1184.6 276.2,1184.1 276.1,1183.6 275.9,1183.0 275.9,1183.0ZM288.6,1195.4 288.6,1195.5 288.8,1196.0 288.9,1196.4 289.1,1196.9 289.2,1197.4 289.4,1197.8 289.5,1198.3 289.7,1198.8 289.9,1199.2 290.0,1199.7 290.2,1200.1 290.3,1200.6 290.5,1201.0 290.6,1201.5 290.7,1201.6 281.9,1201.6 281.8,1201.5 281.7,1201.0 281.5,1200.6 281.4,1200.1 281.2,1199.7 281.1,1199.2 280.9,1198.8 280.7,1198.3 280.6,1197.8 280.4,1197.4 280.3,1196.9 280.1,1196.4 280.0,1196.0 279.8,1195.5 279.8,1195.4ZM293.8,1210.3 293.9,1210.4 294.1,1210.9 294.3,1211.4 294.5,1212.0 294.7,1212.5 294.9,1213.1 295.1,1213.6 295.3,1214.1 295.5,1214.6 295.7,1215.2 295.9,1215.7 296.1,1216.2 296.2,1216.4 296.2,1216.5 287.4,1216.5 287.4,1216.4 287.3,1216.2 287.1,1215.7 286.9,1215.2 286.7,1214.6 286.5,1214.1 286.3,1213.6 286.1,1213.1 285.9,1212.5 285.7,1212.0 285.5,1211.4 285.3,1210.9 285.1,1210.4 285.0,1210.3ZM298.8,1222.7 298.9,1222.8 299.1,1223.4 299.4,1223.9 299.7,1224.5 299.9,1225.1 300.2,1225.7 300.4,1226.3 300.7,1226.8 301.0,1227.4 301.2,1228.0 301.5,1228.5 301.6,1228.9 301.6,1228.9 292.8,1228.9 292.8,1228.9 292.7,1228.5 292.4,1228.0 292.2,1227.4 291.9,1226.8 291.6,1226.3 291.4,1225.7 291.1,1225.1 290.9,1224.5 290.6,1223.9 290.3,1223.4 290.1,1222.8 290.0,1222.7ZM304.7,1235.1 304.7,1235.1 305.0,1235.8 305.3,1236.4 305.6,1237.0 305.9,1237.6 306.2,1238.1 306.6,1238.7 306.9,1239.3 307.2,1239.9 307.5,1240.5 307.8,1241.0 307.9,1241.2 307.9,1241.3 299.1,1241.3 299.1,1241.2 299.0,1241.0 298.7,1240.5 298.4,1239.9 298.1,1239.3 297.8,1238.7 297.4,1238.1 297.1,1237.6 296.8,1237.0 296.5,1236.4 296.2,1235.8 295.9,1235.1 295.9,1235.1ZM311.5,1247.5 311.6,1247.5 311.9,1248.1 312.3,1248.7 312.7,1249.3 313.0,1249.9 313.4,1250.4 313.8,1251.0 314.1,1251.6 314.5,1252.1 314.9,1252.7 315.2,1253.2 315.5,1253.7 315.5,1253.7 306.7,1253.7 306.7,1253.7 306.4,1253.2 306.1,1252.7 305.7,1252.1 305.3,1251.6 305.0,1251.0 304.6,1250.4 304.2,1249.9 303.9,1249.3 303.5,1248.7 303.1,1248.1 302.8,1247.5 302.7,1247.5ZM320.0,1259.9 320.0,1259.9 320.5,1260.5 321.0,1261.1 321.4,1261.7 321.9,1262.3 322.4,1262.9 322.8,1263.4 323.3,1264.0 323.8,1264.6 324.2,1265.1 324.7,1265.7 325.1,1266.1 325.1,1266.1 316.3,1266.1 316.3,1266.1 315.9,1265.7 315.4,1265.1 315.0,1264.6 314.5,1264.0 314.0,1263.4 313.6,1262.9 313.1,1262.3 312.6,1261.7 312.2,1261.1 311.7,1260.5 311.2,1259.9 311.2,1259.9ZM326.5,1267.9 326.6,1267.9 327.2,1268.5 327.7,1269.0 328.3,1269.5 328.9,1270.1 329.4,1270.6 330.0,1271.1 330.6,1271.6 331.1,1272.1 331.7,1272.6 332.3,1273.1 332.7,1273.4 332.7,1273.4 332.7,1282.2 332.7,1282.2 332.3,1281.9 331.7,1281.4 331.1,1280.9 330.6,1280.4 330.0,1279.9 329.4,1279.4 328.9,1278.9 328.3,1278.3 327.7,1277.8 327.2,1277.3 326.6,1276.7 326.5,1276.7ZM338.9,1278.2 339.0,1278.2 339.5,1278.6 340.1,1279.0 340.7,1279.4 341.3,1279.8 341.8,1280.1 342.4,1280.5 343.0,1280.9 343.5,1281.2 344.1,1281.6 344.7,1281.9 345.1,1282.2 345.1,1282.2 345.1,1291.0 345.1,1291.0 344.7,1290.7 344.1,1290.4 343.5,1290.0 343.0,1289.7 342.4,1289.3 341.8,1288.9 341.3,1288.6 340.7,1288.2 340.1,1287.8 339.5,1287.4 339.0,1287.0 338.9,1287.0ZM351.3,1285.6 351.4,1285.6 351.9,1285.9 352.5,1286.2 353.1,1286.5 353.7,1286.7 354.2,1287.0 354.8,1287.3 355.4,1287.5 355.9,1287.8 356.5,1288.1 357.1,1288.3 357.5,1288.5 357.5,1288.5 357.5,1297.3 357.5,1297.3 357.1,1297.1 356.5,1296.9 355.9,1296.6 355.4,1296.3 354.8,1296.1 354.2,1295.8 353.7,1295.5 353.1,1295.3 352.5,1295.0 351.9,1294.7 351.4,1294.4 351.3,1294.4ZM363.7,1291.0 363.8,1291.0 364.3,1291.2 364.9,1291.4 365.5,1291.6 366.0,1291.8 366.6,1292.0 367.2,1292.2 367.8,1292.4 368.3,1292.6 368.9,1292.7 369.5,1292.9 369.9,1293.1 369.9,1293.1 369.9,1301.9 369.9,1301.9 369.5,1301.7 368.9,1301.5 368.3,1301.4 367.8,1301.2 367.2,1301.0 366.6,1300.8 366.0,1300.6 365.5,1300.4 364.9,1300.2 364.3,1300.0 363.8,1299.8 363.7,1299.8ZM376.1,1294.8 376.2,1294.8 376.7,1295.0 377.3,1295.1 377.9,1295.3 378.4,1295.4 379.0,1295.6 379.6,1295.7 380.2,1295.9 380.7,1296.0 381.3,1296.1 381.9,1296.2 382.3,1296.4 382.3,1296.4 382.3,1305.2 382.3,1305.2 381.9,1305.0 381.3,1304.9 380.7,1304.8 380.2,1304.7 379.6,1304.5 379.0,1304.4 378.4,1304.2 377.9,1304.1 377.3,1303.9 376.7,1303.8 376.2,1303.6 376.1,1303.6ZM388.5,1297.6 388.6,1297.6 389.1,1297.8 389.7,1297.9 390.3,1298.0 390.8,1298.1 391.4,1298.2 392.0,1298.3 392.5,1298.4 393.1,1298.5 393.7,1298.6 394.3,1298.7 394.7,1298.7 394.7,1298.7 394.7,1307.5 394.7,1307.5 394.3,1307.5 393.7,1307.4 393.1,1307.3 392.5,1307.2 392.0,1307.1 391.4,1307.0 390.8,1306.9 390.3,1306.8 389.7,1306.7 389.1,1306.6 388.6,1306.4 388.5,1306.4ZM400.9,1299.7 400.9,1299.7 401.5,1299.8 402.1,1299.8 402.7,1299.9 403.2,1300.0 403.8,1300.1 404.4,1300.1 404.9,1300.2 405.5,1300.3 406.1,1300.3 406.7,1300.4 407.1,1300.5 407.1,1300.5 407.1,1309.3 407.1,1309.3 406.7,1309.2 406.1,1309.1 405.5,1309.1 404.9,1309.0 404.4,1308.9 403.8,1308.9 403.2,1308.8 402.7,1308.7 402.1,1308.6 401.5,1308.6 400.9,1308.5 400.9,1308.5ZM413.3,1301.2 413.3,1301.2 413.9,1301.2 414.5,1301.3 415.1,1301.3 415.6,1301.4 416.2,1301.4 416.8,1301.5 417.3,1301.5 417.9,1301.6 418.5,1301.6 419.0,1301.7 419.5,1301.7 419.5,1301.7 419.5,1310.5 419.5,1310.5 419.0,1310.5 418.5,1310.4 417.9,1310.4 417.3,1310.3 416.8,1310.3 416.2,1310.2 415.6,1310.2 415.1,1310.1 414.5,1310.1 413.9,1310.0 413.3,1310.0 413.3,1310.0ZM425.7,1302.2 425.8,1302.2 426.4,1302.3 426.9,1302.3 427.5,1302.4 428.1,1302.4 428.6,1302.4 429.2,1302.5 429.8,1302.5 430.4,1302.6 430.9,1302.6 431.5,1302.6 431.9,1302.7 431.9,1302.7 431.9,1311.5 431.9,1311.5 431.5,1311.4 430.9,1311.4 430.4,1311.4 429.8,1311.3 429.2,1311.3 428.6,1311.2 428.1,1311.2 427.5,1311.2 426.9,1311.1 426.4,1311.1 425.8,1311.0 425.7,1311.0ZM438.1,1303.0 438.2,1303.0 438.8,1303.0 439.3,1303.1 439.9,1303.1 440.5,1303.1 441.0,1303.2 441.6,1303.2 442.2,1303.2 442.7,1303.2 443.3,1303.3 443.9,1303.3 444.3,1303.3 444.3,1303.3 444.3,1312.1 444.3,1312.1 443.9,1312.1 443.3,1312.1 442.7,1312.0 442.2,1312.0 441.6,1312.0 441.0,1312.0 440.5,1311.9 439.9,1311.9 439.3,1311.9 438.8,1311.8 438.2,1311.8 438.1,1311.8ZM450.5,1303.6 450.6,1303.6 451.1,1303.6 451.7,1303.6 452.3,1303.7 452.9,1303.7 453.4,1303.7 454.0,1303.7 454.6,1303.7 455.1,1303.8 455.7,1303.8 456.3,1303.8 456.7,1303.8 456.7,1303.8 456.7,1312.6 456.7,1312.6 456.3,1312.6 455.7,1312.6 455.1,1312.6 454.6,1312.5 454.0,1312.5 453.4,1312.5 452.9,1312.5 452.3,1312.5 451.7,1312.4 451.1,1312.4 450.6,1312.4 450.5,1312.4ZM462.9,1303.9 463.0,1303.9 463.5,1303.9 464.1,1303.9 464.7,1303.9 465.3,1303.9 465.8,1303.9 466.4,1303.9 467.0,1303.9 467.5,1303.9 468.1,1303.9 468.7,1303.9 469.1,1303.9 469.1,1303.9 469.1,1312.7 469.1,1312.7 468.7,1312.7 468.1,1312.7 467.5,1312.7 467.0,1312.7 466.4,1312.7 465.8,1312.7 465.3,1312.7 464.7,1312.7 464.1,1312.7 463.5,1312.7 463.0,1312.7 462.9,1312.7ZM475.3,1303.9 475.4,1303.9 475.9,1303.9 476.5,1303.9 477.1,1303.9 477.6,1303.9 478.2,1303.9 478.8,1303.9 479.4,1303.9 479.9,1303.9 480.5,1303.9 481.1,1303.9 481.5,1303.9 481.5,1303.9 481.5,1312.7 481.5,1312.7 481.1,1312.7 480.5,1312.7 479.9,1312.7 479.4,1312.7 478.8,1312.7 478.2,1312.7 477.6,1312.7 477.1,1312.7 476.5,1312.7 475.9,1312.7 475.4,1312.7 475.3,1312.7ZM487.7,1303.9 487.8,1303.9 488.3,1303.9 488.9,1303.9 489.5,1303.9 490.0,1303.9 490.6,1303.9 491.2,1303.9 491.8,1303.9 492.3,1303.9 492.9,1303.9 493.5,1303.9 493.9,1303.9 493.9,1303.9 493.9,1312.7 493.9,1312.7 493.5,1312.7 492.9,1312.7 492.3,1312.7 491.8,1312.7 491.2,1312.7 490.6,1312.7 490.0,1312.7 489.5,1312.7 488.9,1312.7 488.3,1312.7 487.8,1312.7 487.7,1312.7ZM500.1,1303.9 500.6,1303.9 501.4,1303.9 502.3,1303.9 503.1,1303.9 504.0,1303.9 504.9,1303.9 505.7,1303.9 506.3,1303.9 506.3,1312.7 505.7,1312.7 504.9,1312.7 504.0,1312.7 503.1,1312.7 502.3,1312.7 501.4,1312.7 500.6,1312.7 500.1,1312.7ZM512.5,1303.9 512.7,1303.9 513.5,1303.9 514.4,1303.9 515.3,1303.9 516.1,1303.9 517.0,1303.9 517.8,1303.9 518.7,1303.9 518.7,1303.9 518.7,1312.7 518.7,1312.7 517.8,1312.7 517.0,1312.7 516.1,1312.7 515.3,1312.7 514.4,1312.7 513.5,1312.7 512.7,1312.7 512.5,1312.7ZM524.9,1303.9 525.6,1303.9 526.5,1303.9 527.4,1303.9 528.2,1303.9 529.1,1303.9 530.0,1303.9 530.8,1303.9 531.1,1303.9 531.1,1312.7 530.8,1312.7 530.0,1312.7 529.1,1312.7 528.2,1312.7 527.4,1312.7 526.5,1312.7 525.6,1312.7 524.9,1312.7ZM537.3,1303.9 537.7,1303.9 538.6,1303.9 539.5,1303.9 540.3,1303.9 541.2,1303.9 542.1,1303.9 542.9,1303.9 543.5,1303.9 543.5,1312.7 542.9,1312.7 542.1,1312.7 541.2,1312.7 540.3,1312.7 539.5,1312.7 538.6,1312.7 537.7,1312.7 537.3,1312.7ZM549.7,1303.9 549.8,1303.9 550.7,1303.9 551.6,1303.9 552.4,1303.9 553.3,1303.9 554.2,1303.9 555.0,1303.9 555.9,1303.9 555.9,1303.9 555.9,1312.7 555.9,1312.7 555.0,1312.7 554.2,1312.7 553.3,1312.7 552.4,1312.7 551.6,1312.7 550.7,1312.7 549.8,1312.7 549.7,1312.7ZM562.1,1303.9 562.8,1303.9 563.7,1303.9 564.5,1303.9 565.4,1303.9 566.3,1303.9 567.1,1303.9 568.0,1303.9 568.3,1303.9 568.3,1312.7 568.0,1312.7 567.1,1312.7 566.3,1312.7 565.4,1312.7 564.5,1312.7 563.7,1312.7 562.8,1312.7 562.1,1312.7ZM574.5,1303.9 574.9,1303.9 575.8,1303.9 576.6,1303.9 577.5,1303.9 578.4,1303.9 579.2,1303.9 580.1,1303.9 580.7,1303.9 580.7,1312.7 580.1,1312.7 579.2,1312.7 578.4,1312.7 577.5,1312.7 576.6,1312.7 575.8,1312.7 574.9,1312.7 574.5,1312.7ZM586.9,1303.9 587.0,1303.9 587.9,1303.9 588.7,1303.9 589.6,1303.9 590.5,1303.9 591.3,1303.9 592.2,1303.9 593.1,1303.9 593.1,1303.9 593.1,1312.7 593.1,1312.7 592.2,1312.7 591.3,1312.7 590.5,1312.7 589.6,1312.7 588.7,1312.7 587.9,1312.7 587.0,1312.7 586.9,1312.7ZM599.3,1303.9 600.0,1303.9 600.9,1303.9 601.7,1303.9 602.6,1303.9 603.4,1303.9 604.3,1303.9 605.2,1303.9 605.5,1303.9 605.5,1312.7 605.2,1312.7 604.3,1312.7 603.4,1312.7 602.6,1312.7 601.7,1312.7 600.9,1312.7 600.0,1312.7 599.3,1312.7ZM611.7,1303.9 612.1,1303.9 613.0,1303.9 613.8,1303.9 614.7,1303.9 615.6,1303.9 616.4,1303.9 617.3,1303.9 617.9,1303.9 617.9,1312.7 617.3,1312.7 616.4,1312.7 615.6,1312.7 614.7,1312.7 613.8,1312.7 613.0,1312.7 612.1,1312.7 611.7,1312.7ZM624.1,1303.9 624.2,1303.9 625.1,1303.9 625.9,1303.9 626.8,1303.9 627.7,1303.9 628.5,1303.9 629.4,1303.9 630.2,1303.9 630.3,1303.9 630.3,1312.7 630.2,1312.7 629.4,1312.7 628.5,1312.7 627.7,1312.7 626.8,1312.7 625.9,1312.7 625.1,1312.7 624.2,1312.7 624.1,1312.7ZM636.5,1303.9 637.2,1303.9 638.0,1303.9 638.9,1303.9 639.8,1303.9 640.6,1303.9 641.5,1303.9 642.4,1303.9 642.7,1303.9 642.7,1312.7 642.4,1312.7 641.5,1312.7 640.6,1312.7 639.8,1312.7 638.9,1312.7 638.0,1312.7 637.2,1312.7 636.5,1312.7ZM648.9,1303.9 649.3,1303.9 650.1,1303.9 651.0,1303.9 651.9,1303.9 652.7,1303.9 653.6,1303.9 654.5,1303.9 655.1,1303.9 655.1,1312.7 654.5,1312.7 653.6,1312.7 652.7,1312.7 651.9,1312.7 651.0,1312.7 650.1,1312.7 649.3,1312.7 648.9,1312.7ZM661.3,1303.9 661.4,1303.9 662.2,1303.9 663.1,1303.9 664.0,1303.9 664.8,1303.9 665.7,1303.9 666.6,1303.9 667.4,1303.9 667.5,1303.9 667.5,1312.7 667.4,1312.7 666.6,1312.7 665.7,1312.7 664.8,1312.7 664.0,1312.7 663.1,1312.7 662.2,1312.7 661.4,1312.7 661.3,1312.7ZM673.7,1303.9 674.3,1303.9 675.2,1303.9 676.1,1303.9 676.9,1303.9 677.8,1303.9 678.7,1303.9 679.5,1303.9 679.9,1303.9 679.9,1312.7 679.5,1312.7 678.7,1312.7 677.8,1312.7 676.9,1312.7 676.1,1312.7 675.2,1312.7 674.3,1312.7 673.7,1312.7ZM686.1,1303.9 686.5,1303.9 687.3,1303.9 688.2,1303.9 689.0,1303.9 689.9,1303.9 690.8,1303.9 691.6,1303.9 692.3,1303.9 692.3,1312.7 691.6,1312.7 690.8,1312.7 689.9,1312.7 689.0,1312.7 688.2,1312.7 687.3,1312.7 686.5,1312.7 686.1,1312.7ZM698.5,1303.9 698.6,1303.9 699.4,1303.9 700.3,1303.9 701.2,1303.9 702.0,1303.9 702.9,1303.9 703.7,1303.9 704.6,1303.9 704.7,1303.9 704.7,1312.7 704.6,1312.7 703.7,1312.7 702.9,1312.7 702.0,1312.7 701.2,1312.7 700.3,1312.7 699.4,1312.7 698.6,1312.7 698.5,1312.7ZM710.9,1303.9 711.5,1303.9 712.4,1303.9 713.3,1303.9 714.1,1303.9 715.0,1303.9 715.8,1303.9 716.7,1303.9 717.1,1303.9 717.1,1312.7 716.7,1312.7 715.8,1312.7 715.0,1312.7 714.1,1312.7 713.3,1312.7 712.4,1312.7 711.5,1312.7 710.9,1312.7ZM723.3,1303.9 723.6,1303.9 724.5,1303.9 725.4,1303.9 726.2,1303.9 727.1,1303.9 728.0,1303.9 728.8,1303.9 729.5,1303.9 729.5,1312.7 728.8,1312.7 728.0,1312.7 727.1,1312.7 726.2,1312.7 725.4,1312.7 724.5,1312.7 723.6,1312.7 723.3,1312.7ZM735.7,1303.9 736.6,1303.9 737.5,1303.9 738.3,1303.9 739.2,1303.9 740.1,1303.9 740.9,1303.9 741.8,1303.9 741.9,1303.9 741.9,1312.7 741.8,1312.7 740.9,1312.7 740.1,1312.7 739.2,1312.7 738.3,1312.7 737.5,1312.7 736.6,1312.7 735.7,1312.7ZM748.1,1303.9 748.7,1303.9 749.6,1303.9 750.4,1303.9 751.3,1303.9 752.2,1303.9 753.0,1303.9 753.9,1303.9 754.3,1303.9 754.3,1312.7 753.9,1312.7 753.0,1312.7 752.2,1312.7 751.3,1312.7 750.4,1312.7 749.6,1312.7 748.7,1312.7 748.1,1312.7ZM760.5,1303.9 760.8,1303.9 761.7,1303.9 762.5,1303.9 763.4,1303.9 764.3,1303.9 765.1,1303.9 766.0,1303.9 766.7,1303.9 766.7,1312.7 766.0,1312.7 765.1,1312.7 764.3,1312.7 763.4,1312.7 762.5,1312.7 761.7,1312.7 760.8,1312.7 760.5,1312.7ZM772.9,1303.9 773.8,1303.9 774.6,1303.9 775.5,1303.9 776.4,1303.9 777.2,1303.9 778.1,1303.9 779.0,1303.9 779.1,1303.9 779.1,1312.7 779.0,1312.7 778.1,1312.7 777.2,1312.7 776.4,1312.7 775.5,1312.7 774.6,1312.7 773.8,1312.7 772.9,1312.7ZM785.3,1303.9 785.9,1303.9 786.8,1303.9 787.6,1303.9 788.5,1303.9 789.3,1303.9 790.2,1303.9 791.1,1303.9 791.5,1303.9 791.5,1312.7 791.1,1312.7 790.2,1312.7 789.3,1312.7 788.5,1312.7 787.6,1312.7 786.8,1312.7 785.9,1312.7 785.3,1312.7ZM797.7,1303.9 798.0,1303.9 798.9,1303.9 799.7,1303.9 800.6,1303.9 801.4,1303.9 802.3,1303.9 803.2,1303.9 803.9,1303.9 803.9,1312.7 803.2,1312.7 802.3,1312.7 801.4,1312.7 800.6,1312.7 799.7,1312.7 798.9,1312.7 798.0,1312.7 797.7,1312.7ZM810.1,1303.9 811.0,1303.9 811.8,1303.9 812.7,1303.9 813.6,1303.9 814.4,1303.9 815.3,1303.9 816.1,1303.9 816.3,1303.9 816.3,1312.7 816.1,1312.7 815.3,1312.7 814.4,1312.7 813.6,1312.7 812.7,1312.7 811.8,1312.7 811.0,1312.7 810.1,1312.7ZM822.5,1303.9 823.1,1303.9 823.9,1303.9 824.8,1303.9 825.7,1303.9 826.5,1303.9 827.4,1303.9 828.3,1303.9 828.7,1303.9 828.7,1312.7 828.3,1312.7 827.4,1312.7 826.5,1312.7 825.7,1312.7 824.8,1312.7 823.9,1312.7 823.1,1312.7 822.5,1312.7ZM834.9,1303.9 835.2,1303.9 836.0,1303.9 836.9,1303.9 837.8,1303.9 838.6,1303.9 839.5,1303.9 840.4,1303.9 841.1,1303.9 841.1,1312.7 840.4,1312.7 839.5,1312.7 838.6,1312.7 837.8,1312.7 836.9,1312.7 836.0,1312.7 835.2,1312.7 834.9,1312.7ZM847.3,1303.9 848.1,1303.9 849.0,1303.9 849.9,1303.9 850.7,1303.9 851.6,1303.9 852.5,1303.9 853.3,1303.9 853.5,1303.9 853.5,1312.7 853.3,1312.7 852.5,1312.7 851.6,1312.7 850.7,1312.7 849.9,1312.7 849.0,1312.7 848.1,1312.7 847.3,1312.7ZM859.7,1303.9 860.2,1303.9 861.1,1303.9 862.0,1303.9 862.8,1303.9 863.7,1303.9 864.6,1303.9 865.4,1303.9 865.9,1303.9 865.9,1312.7 865.4,1312.7 864.6,1312.7 863.7,1312.7 862.8,1312.7 862.0,1312.7 861.1,1312.7 860.2,1312.7 859.7,1312.7ZM872.1,1303.9 872.4,1303.9 873.2,1303.9 874.1,1303.9 874.9,1303.9 875.8,1303.9 876.7,1303.9 877.5,1303.9 878.3,1303.9 878.3,1312.7 877.5,1312.7 876.7,1312.7 875.8,1312.7 874.9,1312.7 874.1,1312.7 873.2,1312.7 872.4,1312.7 872.1,1312.7ZM884.5,1303.9 885.3,1303.9 886.2,1303.9 887.0,1303.9 887.9,1303.9 888.8,1303.9 889.6,1303.9 890.5,1303.9 890.7,1303.9 890.7,1312.7 890.5,1312.7 889.6,1312.7 888.8,1312.7 887.9,1312.7 887.0,1312.7 886.2,1312.7 885.3,1312.7 884.5,1312.7ZM896.9,1303.9 897.4,1303.9 898.3,1303.9 899.2,1303.9 900.0,1303.9 900.9,1303.9 901.7,1303.9 902.6,1303.9 903.1,1303.9 903.1,1312.7 902.6,1312.7 901.7,1312.7 900.9,1312.7 900.0,1312.7 899.2,1312.7 898.3,1312.7 897.4,1312.7 896.9,1312.7ZM909.3,1303.9 909.5,1303.9 910.4,1303.9 911.3,1303.9 912.1,1303.9 913.0,1303.9 913.9,1303.9 914.7,1303.9 915.5,1303.9 915.5,1312.7 914.7,1312.7 913.9,1312.7 913.0,1312.7 912.1,1312.7 911.3,1312.7 910.4,1312.7 909.5,1312.7 909.3,1312.7ZM921.7,1303.9 922.5,1303.9 923.4,1303.9 924.2,1303.9 925.1,1303.9 926.0,1303.9 926.8,1303.9 927.7,1303.9 927.9,1303.9 927.9,1312.7 927.7,1312.7 926.8,1312.7 926.0,1312.7 925.1,1312.7 924.2,1312.7 923.4,1312.7 922.5,1312.7 921.7,1312.7ZM934.1,1303.9 934.6,1303.9 935.5,1303.9 936.3,1303.9 937.2,1303.9 938.1,1303.9 938.9,1303.9 939.8,1303.9 940.3,1303.9 940.3,1312.7 939.8,1312.7 938.9,1312.7 938.1,1312.7 937.2,1312.7 936.3,1312.7 935.5,1312.7 934.6,1312.7 934.1,1312.7ZM946.5,1303.9 946.7,1303.9 947.6,1303.9 948.4,1303.9 949.3,1303.9 950.2,1303.9 951.0,1303.9 951.9,1303.9 952.7,1303.9 952.7,1312.7 951.9,1312.7 951.0,1312.7 950.2,1312.7 949.3,1312.7 948.4,1312.7 947.6,1312.7 946.7,1312.7 946.5,1312.7ZM958.9,1303.9 959.7,1303.9 960.5,1303.9 961.4,1303.9 962.3,1303.9 963.1,1303.9 964.0,1303.9 964.9,1303.9 965.1,1303.9 965.1,1312.7 964.9,1312.7 964.0,1312.7 963.1,1312.7 962.3,1312.7 961.4,1312.7 960.5,1312.7 959.7,1312.7 958.9,1312.7ZM971.3,1303.9 971.8,1303.9 972.6,1303.9 973.5,1303.9 974.4,1303.9 975.2,1303.9 976.1,1303.9 977.0,1303.9 977.5,1303.9 977.5,1312.7 977.0,1312.7 976.1,1312.7 975.2,1312.7 974.4,1312.7 973.5,1312.7 972.6,1312.7 971.8,1312.7 971.3,1312.7ZM983.7,1303.9 983.9,1303.9 984.8,1303.9 985.6,1303.9 986.5,1303.9 987.3,1303.9 988.2,1303.9 989.1,1303.9 989.9,1303.9 989.9,1312.7 989.1,1312.7 988.2,1312.7 987.3,1312.7 986.5,1312.7 985.6,1312.7 984.8,1312.7 983.9,1312.7 983.7,1312.7ZM1006.4,1303.9 1007.2,1303.9 1008.1,1303.9 1009.0,1303.9 1009.8,1303.9 1010.7,1303.9 1011.6,1303.9 1012.4,1303.9 1012.5,1303.9 1012.5,1312.7 1012.4,1312.7 1011.6,1312.7 1010.7,1312.7 1009.8,1312.7 1009.0,1312.7 1008.1,1312.7 1007.2,1312.7 1006.4,1312.7ZM1018.7,1303.9 1019.3,1303.9 1020.2,1303.9 1021.1,1303.9 1021.9,1303.9 1022.8,1303.9 1023.7,1303.9 1024.5,1303.9 1024.9,1303.9 1024.9,1312.7 1024.5,1312.7 1023.7,1312.7 1022.8,1312.7 1021.9,1312.7 1021.1,1312.7 1020.2,1312.7 1019.3,1312.7 1018.7,1312.7ZM1031.1,1303.9 1031.4,1303.9 1032.3,1303.9 1033.2,1303.9 1034.0,1303.9 1034.9,1303.9 1035.8,1303.9 1036.6,1303.9 1037.3,1303.9 1037.3,1312.7 1036.6,1312.7 1035.8,1312.7 1034.9,1312.7 1034.0,1312.7 1033.2,1312.7 1032.3,1312.7 1031.4,1312.7 1031.1,1312.7ZM1043.5,1303.9 1043.6,1303.9 1044.4,1303.9 1045.3,1303.9 1046.1,1303.9 1047.0,1303.9 1047.9,1303.9 1048.7,1303.9 1049.6,1303.9 1049.7,1303.9 1049.7,1312.7 1049.6,1312.7 1048.7,1312.7 1047.9,1312.7 1047.0,1312.7 1046.1,1312.7 1045.3,1312.7 1044.4,1312.7 1043.6,1312.7 1043.5,1312.7ZM1055.9,1303.9 1056.5,1303.9 1057.4,1303.9 1058.2,1303.9 1059.1,1303.9 1060.0,1303.9 1060.8,1303.9 1061.7,1303.9 1062.1,1303.9 1062.1,1312.7 1061.7,1312.7 1060.8,1312.7 1060.0,1312.7 1059.1,1312.7 1058.2,1312.7 1057.4,1312.7 1056.5,1312.7 1055.9,1312.7ZM1068.3,1303.9 1068.6,1303.9 1069.5,1303.9 1070.4,1303.9 1071.2,1303.9 1072.1,1303.9 1072.9,1303.9 1073.8,1303.9 1074.5,1303.9 1074.5,1312.7 1073.8,1312.7 1072.9,1312.7 1072.1,1312.7 1071.2,1312.7 1070.4,1312.7 1069.5,1312.7 1068.6,1312.7 1068.3,1312.7ZM1080.7,1303.9 1081.6,1303.9 1082.5,1303.9 1083.3,1303.9 1084.2,1303.9 1085.1,1303.9 1085.9,1303.9 1086.8,1303.9 1086.9,1303.9 1086.9,1312.7 1086.8,1312.7 1085.9,1312.7 1085.1,1312.7 1084.2,1312.7 1083.3,1312.7 1082.5,1312.7 1081.6,1312.7 1080.7,1312.7ZM1093.1,1303.9 1093.7,1303.9 1094.6,1303.9 1095.4,1303.9 1096.3,1303.9 1097.2,1303.9 1098.0,1303.9 1098.9,1303.9 1099.3,1303.9 1099.3,1312.7 1098.9,1312.7 1098.0,1312.7 1097.2,1312.7 1096.3,1312.7 1095.4,1312.7 1094.6,1312.7 1093.7,1312.7 1093.1,1312.7ZM1105.5,1303.9 1105.8,1303.9 1106.7,1303.9 1107.5,1303.9 1108.4,1303.9 1109.3,1303.9 1110.1,1303.9 1111.0,1303.9 1111.7,1303.9 1111.7,1312.7 1111.0,1312.7 1110.1,1312.7 1109.3,1312.7 1108.4,1312.7 1107.5,1312.7 1106.7,1312.7 1105.8,1312.7 1105.5,1312.7ZM1117.9,1303.9 1118.8,1303.9 1119.6,1303.9 1120.5,1303.9 1121.4,1303.9 1122.2,1303.9 1123.1,1303.9 1124.0,1303.9 1124.1,1303.9 1124.1,1312.7 1124.0,1312.7 1123.1,1312.7 1122.2,1312.7 1121.4,1312.7 1120.5,1312.7 1119.6,1312.7 1118.8,1312.7 1117.9,1312.7ZM1130.3,1303.9 1130.9,1303.9 1131.7,1303.9 1132.6,1303.9 1133.5,1303.9 1134.3,1303.9 1135.2,1303.9 1136.1,1303.9 1136.5,1303.9 1136.5,1312.7 1136.1,1312.7 1135.2,1312.7 1134.3,1312.7 1133.5,1312.7 1132.6,1312.7 1131.7,1312.7 1130.9,1312.7 1130.3,1312.7ZM1142.7,1303.9 1143.0,1303.9 1143.8,1303.9 1144.7,1303.9 1145.6,1303.9 1146.4,1303.9 1147.3,1303.9 1148.2,1303.9 1148.9,1303.9 1148.9,1312.7 1148.2,1312.7 1147.3,1312.7 1146.4,1312.7 1145.6,1312.7 1144.7,1312.7 1143.8,1312.7 1143.0,1312.7 1142.7,1312.7ZM1155.1,1303.9 1156.0,1303.9 1156.8,1303.9 1157.7,1303.9 1158.5,1303.9 1159.4,1303.9 1160.3,1303.9 1161.1,1303.9 1161.3,1303.9 1161.3,1312.7 1161.1,1312.7 1160.3,1312.7 1159.4,1312.7 1158.5,1312.7 1157.7,1312.7 1156.8,1312.7 1156.0,1312.7 1155.1,1312.7ZM1167.5,1303.9 1168.1,1303.9 1168.9,1303.9 1169.8,1303.9 1170.7,1303.9 1171.5,1303.9 1172.4,1303.9 1173.2,1303.9 1173.7,1303.9 1173.7,1312.7 1173.2,1312.7 1172.4,1312.7 1171.5,1312.7 1170.7,1312.7 1169.8,1312.7 1168.9,1312.7 1168.1,1312.7 1167.5,1312.7ZM1179.9,1303.9 1180.2,1303.9 1181.0,1303.9 1181.9,1303.9 1182.8,1303.9 1183.6,1303.9 1184.5,1303.9 1185.4,1303.9 1186.1,1303.9 1186.1,1312.7 1185.4,1312.7 1184.5,1312.7 1183.6,1312.7 1182.8,1312.7 1181.9,1312.7 1181.0,1312.7 1180.2,1312.7 1179.9,1312.7ZM1192.3,1303.9 1193.1,1303.9 1194.0,1303.9 1194.9,1303.9 1195.7,1303.9 1196.6,1303.9 1197.5,1303.9 1198.3,1303.9 1198.5,1303.9 1198.5,1312.7 1198.3,1312.7 1197.5,1312.7 1196.6,1312.7 1195.7,1312.7 1194.9,1312.7 1194.0,1312.7 1193.1,1312.7 1192.3,1312.7ZM1204.7,1303.9 1205.2,1303.9 1206.1,1303.9 1207.0,1303.9 1207.8,1303.9 1208.7,1303.9 1209.6,1303.9 1210.4,1303.9 1210.9,1303.9 1210.9,1312.7 1210.4,1312.7 1209.6,1312.7 1208.7,1312.7 1207.8,1312.7 1207.0,1312.7 1206.1,1312.7 1205.2,1312.7 1204.7,1312.7ZM1217.1,1303.9 1217.3,1303.9 1218.2,1303.9 1219.1,1303.9 1219.9,1303.9 1220.8,1303.9 1221.7,1303.9 1222.5,1303.9 1223.3,1303.9 1223.3,1312.7 1222.5,1312.7 1221.7,1312.7 1220.8,1312.7 1219.9,1312.7 1219.1,1312.7 1218.2,1312.7 1217.3,1312.7 1217.1,1312.7ZM1229.5,1303.9 1230.3,1303.9 1231.2,1303.9 1232.0,1303.9 1232.9,1303.9 1233.8,1303.9 1234.6,1303.9 1235.5,1303.9 1235.7,1303.9 1235.7,1312.7 1235.5,1312.7 1234.6,1312.7 1233.8,1312.7 1232.9,1312.7 1232.0,1312.7 1231.2,1312.7 1230.3,1312.7 1229.5,1312.7ZM1241.9,1303.9 1242.4,1303.9 1243.3,1303.9 1244.1,1303.9 1245.0,1303.9 1245.9,1303.9 1246.7,1303.9 1247.6,1303.9 1248.1,1303.9 1248.1,1312.7 1247.6,1312.7 1246.7,1312.7 1245.9,1312.7 1245.0,1312.7 1244.1,1312.7 1243.3,1312.7 1242.4,1312.7 1241.9,1312.7ZM1254.3,1303.9 1254.5,1303.9 1255.4,1303.9 1256.3,1303.9 1257.1,1303.9 1258.0,1303.9 1258.8,1303.9 1259.7,1303.9 1260.5,1303.9 1260.5,1312.7 1259.7,1312.7 1258.8,1312.7 1258.0,1312.7 1257.1,1312.7 1256.3,1312.7 1255.4,1312.7 1254.5,1312.7 1254.3,1312.7ZM1266.7,1303.9 1267.5,1303.9 1268.4,1303.9 1269.2,1303.9 1270.1,1303.9 1271.0,1303.9 1271.8,1303.9 1272.7,1303.9 1272.9,1303.9 1272.9,1312.7 1272.7,1312.7 1271.8,1312.7 1271.0,1312.7 1270.1,1312.7 1269.2,1312.7 1268.4,1312.7 1267.5,1312.7 1266.7,1312.7ZM1279.1,1303.9 1279.6,1303.9 1280.5,1303.9 1281.3,1303.9 1282.2,1303.9 1283.1,1303.9 1283.9,1303.9 1284.8,1303.9 1285.3,1303.9 1285.3,1312.7 1284.8,1312.7 1283.9,1312.7 1283.1,1312.7 1282.2,1312.7 1281.3,1312.7 1280.5,1312.7 1279.6,1312.7 1279.1,1312.7ZM1291.5,1303.9 1291.7,1303.9 1292.6,1303.9 1293.4,1303.9 1294.3,1303.9 1295.2,1303.9 1296.0,1303.9 1296.9,1303.9 1297.7,1303.9 1297.7,1312.7 1296.9,1312.7 1296.0,1312.7 1295.2,1312.7 1294.3,1312.7 1293.4,1312.7 1292.6,1312.7 1291.7,1312.7 1291.5,1312.7ZM1303.9,1303.9 1304.7,1303.9 1305.5,1303.9 1306.4,1303.9 1307.3,1303.9 1308.1,1303.9 1309.0,1303.9 1309.9,1303.9 1310.1,1303.9 1310.1,1312.7 1309.9,1312.7 1309.0,1312.7 1308.1,1312.7 1307.3,1312.7 1306.4,1312.7 1305.5,1312.7 1304.7,1312.7 1303.9,1312.7ZM1316.3,1303.9 1316.8,1303.9 1317.6,1303.9 1318.5,1303.9 1319.4,1303.9 1320.2,1303.9 1321.1,1303.9 1322.0,1303.9 1322.5,1303.9 1322.5,1312.7 1322.0,1312.7 1321.1,1312.7 1320.2,1312.7 1319.4,1312.7 1318.5,1312.7 1317.6,1312.7 1316.8,1312.7 1316.3,1312.7ZM1328.7,1303.9 1328.9,1303.9 1329.7,1303.9 1330.6,1303.9 1331.5,1303.9 1332.3,1303.9 1333.2,1303.9 1334.1,1303.9 1334.9,1303.9 1334.9,1303.9 1334.9,1312.7 1334.9,1312.7 1334.1,1312.7 1333.2,1312.7 1332.3,1312.7 1331.5,1312.7 1330.6,1312.7 1329.7,1312.7 1328.9,1312.7 1328.7,1312.7ZM1341.1,1303.9 1341.9,1303.9 1342.7,1303.9 1343.6,1303.9 1344.4,1303.9 1345.3,1303.9 1346.2,1303.9 1347.0,1303.9 1347.3,1303.9 1347.3,1312.7 1347.0,1312.7 1346.2,1312.7 1345.3,1312.7 1344.4,1312.7 1343.6,1312.7 1342.7,1312.7 1341.9,1312.7 1341.1,1312.7ZM1353.5,1303.9 1354.0,1303.9 1354.8,1303.9 1355.7,1303.9 1356.6,1303.9 1357.4,1303.9 1358.3,1303.9 1359.1,1303.9 1359.7,1303.9 1359.7,1312.7 1359.1,1312.7 1358.3,1312.7 1357.4,1312.7 1356.6,1312.7 1355.7,1312.7 1354.8,1312.7 1354.0,1312.7 1353.5,1312.7ZM1365.9,1303.9 1366.1,1303.9 1366.9,1303.9 1367.8,1303.9 1368.7,1303.9 1369.5,1303.9 1370.4,1303.9 1371.3,1303.9 1372.1,1303.9 1372.1,1303.9 1372.1,1312.7 1372.1,1312.7 1371.3,1312.7 1370.4,1312.7 1369.5,1312.7 1368.7,1312.7 1367.8,1312.7 1366.9,1312.7 1366.1,1312.7 1365.9,1312.7ZM1378.3,1303.9 1379.0,1303.9 1379.9,1303.9 1380.8,1303.9 1381.6,1303.9 1382.5,1303.9 1383.4,1303.9 1384.2,1303.9 1384.5,1303.9 1384.5,1312.7 1384.2,1312.7 1383.4,1312.7 1382.5,1312.7 1381.6,1312.7 1380.8,1312.7 1379.9,1312.7 1379.0,1312.7 1378.3,1312.7ZM1390.7,1303.9 1391.1,1303.9 1392.0,1303.9 1392.9,1303.9 1393.7,1303.9 1394.6,1303.9 1395.5,1303.9 1396.3,1303.9 1396.9,1303.9 1396.9,1312.7 1396.3,1312.7 1395.5,1312.7 1394.6,1312.7 1393.7,1312.7 1392.9,1312.7 1392.0,1312.7 1391.1,1312.7 1390.7,1312.7ZM1403.1,1303.9 1403.2,1303.9 1404.1,1303.9 1405.0,1303.9 1405.8,1303.9 1406.7,1303.9 1407.6,1303.9 1408.4,1303.9 1409.3,1303.9 1409.3,1303.9 1409.3,1312.7 1409.3,1312.7 1408.4,1312.7 1407.6,1312.7 1406.7,1312.7 1405.8,1312.7 1405.0,1312.7 1404.1,1312.7 1403.2,1312.7 1403.1,1312.7ZM1415.5,1303.9 1416.2,1303.9 1417.1,1303.9 1417.9,1303.9 1418.8,1303.9 1419.7,1303.9 1420.5,1303.9 1421.4,1303.9 1421.7,1303.9 1421.7,1312.7 1421.4,1312.7 1420.5,1312.7 1419.7,1312.7 1418.8,1312.7 1417.9,1312.7 1417.1,1312.7 1416.2,1312.7 1415.5,1312.7ZM1427.9,1303.9 1428.3,1303.9 1429.2,1303.9 1430.0,1303.9 1430.9,1303.9 1431.8,1303.9 1432.6,1303.9 1433.5,1303.9 1434.1,1303.9 1434.1,1312.7 1433.5,1312.7 1432.6,1312.7 1431.8,1312.7 1430.9,1312.7 1430.0,1312.7 1429.2,1312.7 1428.3,1312.7 1427.9,1312.7ZM1440.3,1303.9 1440.4,1303.9 1441.3,1303.9 1442.2,1303.9 1443.0,1303.9 1443.9,1303.9 1444.7,1303.9 1445.6,1303.9 1446.5,1303.9 1446.5,1303.9 1446.5,1312.7 1446.5,1312.7 1445.6,1312.7 1444.7,1312.7 1443.9,1312.7 1443.0,1312.7 1442.2,1312.7 1441.3,1312.7 1440.4,1312.7 1440.3,1312.7ZM1452.7,1303.9 1453.4,1303.9 1454.3,1303.9 1455.1,1303.9 1456.0,1303.9 1456.9,1303.9 1457.7,1303.9 1458.6,1303.9 1458.9,1303.9 1458.9,1312.7 1458.6,1312.7 1457.7,1312.7 1456.9,1312.7 1456.0,1312.7 1455.1,1312.7 1454.3,1312.7 1453.4,1312.7 1452.7,1312.7ZM1465.1,1303.9 1465.5,1303.9 1466.4,1303.9 1467.2,1303.9 1468.1,1303.9 1469.0,1303.9 1469.8,1303.9 1470.7,1303.9 1471.3,1303.9 1471.3,1312.7 1470.7,1312.7 1469.8,1312.7 1469.0,1312.7 1468.1,1312.7 1467.2,1312.7 1466.4,1312.7 1465.5,1312.7 1465.1,1312.7ZM1477.5,1303.9 1477.6,1303.9 1478.5,1303.9 1479.3,1303.9 1480.2,1303.9 1481.1,1303.9 1481.9,1303.9 1482.8,1303.9 1483.7,1303.9 1483.7,1303.9 1483.7,1312.7 1483.7,1312.7 1482.8,1312.7 1481.9,1312.7 1481.1,1312.7 1480.2,1312.7 1479.3,1312.7 1478.5,1312.7 1477.6,1312.7 1477.5,1312.7ZM1489.9,1303.9 1490.6,1303.9 1491.4,1303.9 1492.3,1303.9 1493.2,1303.9 1494.0,1303.9 1494.9,1303.9 1495.8,1303.9 1496.1,1303.9 1496.1,1312.7 1495.8,1312.7 1494.9,1312.7 1494.0,1312.7 1493.2,1312.7 1492.3,1312.7 1491.4,1312.7 1490.6,1312.7 1489.9,1312.7ZM1502.3,1303.9 1502.7,1303.9 1503.5,1303.9 1504.4,1303.9 1505.3,1303.9 1506.1,1303.9 1507.0,1303.9 1507.9,1303.9 1508.5,1303.9 1508.5,1312.7 1507.9,1312.7 1507.0,1312.7 1506.1,1312.7 1505.3,1312.7 1504.4,1312.7 1503.5,1312.7 1502.7,1312.7 1502.3,1312.7ZM1514.7,1303.9 1514.8,1303.9 1515.6,1303.9 1516.5,1303.9 1517.4,1303.9 1518.2,1303.9 1519.1,1303.9 1520.0,1303.9 1520.8,1303.9 1520.9,1303.9 1520.9,1312.7 1520.8,1312.7 1520.0,1312.7 1519.1,1312.7 1518.2,1312.7 1517.4,1312.7 1516.5,1312.7 1515.6,1312.7 1514.8,1312.7 1514.7,1312.7ZM1527.1,1303.9 1527.8,1303.9 1528.6,1303.9 1529.5,1303.9 1530.3,1303.9 1531.2,1303.9 1532.1,1303.9 1532.9,1303.9 1533.3,1303.9 1533.3,1312.7 1532.9,1312.7 1532.1,1312.7 1531.2,1312.7 1530.3,1312.7 1529.5,1312.7 1528.6,1312.7 1527.8,1312.7 1527.1,1312.7ZM1539.5,1303.9 1539.9,1303.9 1540.7,1303.9 1541.6,1303.9 1542.5,1303.9 1543.3,1303.9 1544.2,1303.9 1545.0,1303.9 1545.7,1303.9 1545.7,1312.7 1545.0,1312.7 1544.2,1312.7 1543.3,1312.7 1542.5,1312.7 1541.6,1312.7 1540.7,1312.7 1539.9,1312.7 1539.5,1312.7ZM1551.9,1303.9 1552.0,1303.9 1552.8,1303.9 1553.7,1303.9 1554.6,1303.9 1555.4,1303.9 1556.3,1303.9 1557.2,1303.9 1558.0,1303.9 1558.1,1303.9 1558.1,1312.7 1558.0,1312.7 1557.2,1312.7 1556.3,1312.7 1555.4,1312.7 1554.6,1312.7 1553.7,1312.7 1552.8,1312.7 1552.0,1312.7 1551.9,1312.7ZM1564.3,1303.9 1564.9,1303.9 1565.8,1303.9 1566.7,1303.9 1567.5,1303.9 1568.4,1303.9 1569.3,1303.9 1570.1,1303.9 1570.5,1303.9 1570.5,1312.7 1570.1,1312.7 1569.3,1312.7 1568.4,1312.7 1567.5,1312.7 1566.7,1312.7 1565.8,1312.7 1564.9,1312.7 1564.3,1312.7ZM1576.7,1303.9 1577.0,1303.9 1577.9,1303.9 1578.8,1303.9 1579.6,1303.9 1580.5,1303.9 1581.4,1303.9 1582.2,1303.9 1582.9,1303.9 1582.9,1312.7 1582.2,1312.7 1581.4,1312.7 1580.5,1312.7 1579.6,1312.7 1578.8,1312.7 1577.9,1312.7 1577.0,1312.7 1576.7,1312.7ZM1589.1,1303.9 1589.1,1303.9 1590.0,1303.9 1590.9,1303.9 1591.7,1303.9 1592.6,1303.9 1593.5,1303.9 1594.3,1303.9 1595.2,1303.9 1595.3,1303.9 1595.3,1312.7 1595.2,1312.7 1594.3,1312.7 1593.5,1312.7 1592.6,1312.7 1591.7,1312.7 1590.9,1312.7 1590.0,1312.7 1589.1,1312.7 1589.1,1312.7ZM1601.5,1303.9 1602.1,1303.9 1603.0,1303.9 1603.8,1303.9 1604.7,1303.9 1605.6,1303.9 1606.4,1303.9 1607.3,1303.9 1607.7,1303.9 1607.7,1312.7 1607.3,1312.7 1606.4,1312.7 1605.6,1312.7 1604.7,1312.7 1603.8,1312.7 1603.0,1312.7 1602.1,1312.7 1601.5,1312.7ZM1613.9,1303.9 1614.2,1303.9 1615.1,1303.9 1615.9,1303.9 1616.8,1303.9 1617.7,1303.9 1618.5,1303.9 1619.4,1303.9 1620.1,1303.9 1620.1,1312.7 1619.4,1312.7 1618.5,1312.7 1617.7,1312.7 1616.8,1312.7 1615.9,1312.7 1615.1,1312.7 1614.2,1312.7 1613.9,1312.7ZM1626.3,1303.9 1627.2,1303.9 1628.1,1303.9 1628.9,1303.9 1629.8,1303.9 1630.6,1303.9 1631.5,1303.9 1632.4,1303.9 1632.5,1303.9 1632.5,1312.7 1632.4,1312.7 1631.5,1312.7 1630.6,1312.7 1629.8,1312.7 1628.9,1312.7 1628.1,1312.7 1627.2,1312.7 1626.3,1312.7ZM1638.7,1303.9 1639.3,1303.9 1640.2,1303.9 1641.0,1303.9 1641.9,1303.9 1642.8,1303.9 1643.6,1303.9 1644.5,1303.9 1644.9,1303.9 1644.9,1312.7 1644.5,1312.7 1643.6,1312.7 1642.8,1312.7 1641.9,1312.7 1641.0,1312.7 1640.2,1312.7 1639.3,1312.7 1638.7,1312.7ZM1651.1,1303.9 1651.4,1303.9 1652.3,1303.9 1653.1,1303.9 1654.0,1303.9 1654.9,1303.9 1655.7,1303.9 1656.6,1303.9 1657.3,1303.9 1657.3,1312.7 1656.6,1312.7 1655.7,1312.7 1654.9,1312.7 1654.0,1312.7 1653.1,1312.7 1652.3,1312.7 1651.4,1312.7 1651.1,1312.7ZM1663.5,1303.9 1664.4,1303.9 1665.2,1303.9 1666.1,1303.9 1667.0,1303.9 1667.8,1303.9 1668.7,1303.9 1669.6,1303.9 1669.7,1303.9 1669.7,1312.7 1669.6,1312.7 1668.7,1312.7 1667.8,1312.7 1667.0,1312.7 1666.1,1312.7 1665.2,1312.7 1664.4,1312.7 1663.5,1312.7ZM1675.9,1303.9 1676.5,1303.9 1677.3,1303.9 1678.2,1303.9 1679.1,1303.9 1679.9,1303.9 1680.8,1303.9 1681.7,1303.9 1682.1,1303.9 1682.1,1312.7 1681.7,1312.7 1680.8,1312.7 1679.9,1312.7 1679.1,1312.7 1678.2,1312.7 1677.3,1312.7 1676.5,1312.7 1675.9,1312.7ZM1688.3,1303.9 1688.6,1303.9 1689.4,1303.9 1690.3,1303.9 1691.2,1303.9 1692.0,1303.9 1692.9,1303.9 1693.8,1303.9 1694.5,1303.9 1694.5,1312.7 1693.8,1312.7 1692.9,1312.7 1692.0,1312.7 1691.2,1312.7 1690.3,1312.7 1689.4,1312.7 1688.6,1312.7 1688.3,1312.7ZM1700.7,1303.9 1701.5,1303.9 1702.4,1303.9 1703.3,1303.9 1704.1,1303.9 1705.0,1303.9 1705.9,1303.9 1706.7,1303.9 1706.9,1303.9 1706.9,1312.7 1706.7,1312.7 1705.9,1312.7 1705.0,1312.7 1704.1,1312.7 1703.3,1312.7 1702.4,1312.7 1701.5,1312.7 1700.7,1312.7ZM1713.1,1303.9 1713.7,1303.9 1714.5,1303.9 1715.4,1303.9 1716.2,1303.9 1717.1,1303.9 1718.0,1303.9 1718.8,1303.9 1719.3,1303.9 1719.3,1312.7 1718.8,1312.7 1718.0,1312.7 1717.1,1312.7 1716.2,1312.7 1715.4,1312.7 1714.5,1312.7 1713.7,1312.7 1713.1,1312.7ZM1725.5,1303.9 1725.8,1303.9 1726.6,1303.9 1727.5,1303.9 1728.4,1303.9 1729.2,1303.9 1730.1,1303.9 1730.9,1303.9 1731.7,1303.9 1731.7,1312.7 1730.9,1312.7 1730.1,1312.7 1729.2,1312.7 1728.4,1312.7 1727.5,1312.7 1726.6,1312.7 1725.8,1312.7 1725.5,1312.7ZM1737.9,1303.9 1738.7,1303.9 1739.6,1303.9 1740.5,1303.9 1741.3,1303.9 1742.2,1303.9 1743.1,1303.9 1743.9,1303.9 1744.1,1303.9 1744.1,1312.7 1743.9,1312.7 1743.1,1312.7 1742.2,1312.7 1741.3,1312.7 1740.5,1312.7 1739.6,1312.7 1738.7,1312.7 1737.9,1312.7ZM1750.3,1303.9 1750.8,1303.9 1751.7,1303.9 1752.6,1303.9 1753.4,1303.9 1754.3,1303.9 1755.2,1303.9 1756.0,1303.9 1756.5,1303.9 1756.5,1312.7 1756.0,1312.7 1755.2,1312.7 1754.3,1312.7 1753.4,1312.7 1752.6,1312.7 1751.7,1312.7 1750.8,1312.7 1750.3,1312.7ZM1762.7,1303.9 1762.9,1303.9 1763.8,1303.9 1764.7,1303.9 1765.5,1303.9 1766.4,1303.9 1767.3,1303.9 1768.1,1303.9 1768.9,1303.9 1768.9,1312.7 1768.1,1312.7 1767.3,1312.7 1766.4,1312.7 1765.5,1312.7 1764.7,1312.7 1763.8,1312.7 1762.9,1312.7 1762.7,1312.7ZM1775.1,1303.9 1775.9,1303.9 1776.8,1303.9 1777.6,1303.9 1778.5,1303.9 1779.4,1303.9 1780.2,1303.9 1781.1,1303.9 1781.3,1303.9 1781.3,1312.7 1781.1,1312.7 1780.2,1312.7 1779.4,1312.7 1778.5,1312.7 1777.6,1312.7 1776.8,1312.7 1775.9,1312.7 1775.1,1312.7ZM1787.5,1303.9 1788.0,1303.9 1788.9,1303.9 1789.7,1303.9 1790.6,1303.9 1791.5,1303.9 1792.3,1303.9 1793.2,1303.9 1793.7,1303.9 1793.7,1312.7 1793.2,1312.7 1792.3,1312.7 1791.5,1312.7 1790.6,1312.7 1789.7,1312.7 1788.9,1312.7 1788.0,1312.7 1787.5,1312.7ZM1799.9,1303.9 1800.1,1303.9 1801.0,1303.9 1801.8,1303.9 1802.7,1303.9 1803.6,1303.9 1804.4,1303.9 1805.3,1303.9 1806.1,1303.9 1806.1,1312.7 1805.3,1312.7 1804.4,1312.7 1803.6,1312.7 1802.7,1312.7 1801.8,1312.7 1801.0,1312.7 1800.1,1312.7 1799.9,1312.7ZM1812.3,1303.9 1813.1,1303.9 1814.0,1303.9 1814.8,1303.9 1815.7,1303.9 1816.5,1303.9 1817.4,1303.9 1818.3,1303.9 1818.5,1303.9 1818.5,1312.7 1818.3,1312.7 1817.4,1312.7 1816.5,1312.7 1815.7,1312.7 1814.8,1312.7 1814.0,1312.7 1813.1,1312.7 1812.3,1312.7ZM1824.7,1303.9 1825.2,1303.9 1826.1,1303.9 1826.9,1303.9 1827.8,1303.9 1828.7,1303.9 1829.5,1303.9 1830.4,1303.9 1830.9,1303.9 1830.9,1312.7 1830.4,1312.7 1829.5,1312.7 1828.7,1312.7 1827.8,1312.7 1826.9,1312.7 1826.1,1312.7 1825.2,1312.7 1824.7,1312.7ZM1837.1,1303.9 1837.3,1303.9 1838.2,1303.9 1839.0,1303.9 1839.9,1303.9 1840.8,1303.9 1841.6,1303.9 1842.5,1303.9 1843.3,1303.9 1843.3,1312.7 1842.5,1312.7 1841.6,1312.7 1840.8,1312.7 1839.9,1312.7 1839.0,1312.7 1838.2,1312.7 1837.3,1312.7 1837.1,1312.7ZM1849.5,1303.9 1850.3,1303.9 1851.1,1303.9 1852.0,1303.9 1852.9,1303.9 1853.7,1303.9 1854.6,1303.9 1855.5,1303.9 1855.7,1303.9 1855.7,1312.7 1855.5,1312.7 1854.6,1312.7 1853.7,1312.7 1852.9,1312.7 1852.0,1312.7 1851.1,1312.7 1850.3,1312.7 1849.5,1312.7ZM1861.9,1303.9 1862.4,1303.9 1863.2,1303.9 1864.1,1303.9 1865.0,1303.9 1865.8,1303.9 1866.7,1303.9 1867.6,1303.9 1868.1,1303.9 1868.1,1312.7 1867.6,1312.7 1866.7,1312.7 1865.8,1312.7 1865.0,1312.7 1864.1,1312.7 1863.2,1312.7 1862.4,1312.7 1861.9,1312.7ZM1874.3,1303.9 1874.5,1303.9 1875.3,1303.9 1876.2,1303.9 1877.1,1303.9 1877.9,1303.9 1878.8,1303.9 1879.7,1303.9 1880.5,1303.9 1880.5,1303.9 1880.5,1312.7 1880.5,1312.7 1879.7,1312.7 1878.8,1312.7 1877.9,1312.7 1877.1,1312.7 1876.2,1312.7 1875.3,1312.7 1874.5,1312.7 1874.3,1312.7ZM1886.7,1303.9 1887.4,1303.9 1888.3,1303.9 1889.2,1303.9 1890.0,1303.9 1890.9,1303.9 1891.8,1303.9 1892.6,1303.9 1892.9,1303.9 1892.9,1312.7 1892.6,1312.7 1891.8,1312.7 1890.9,1312.7 1890.0,1312.7 1889.2,1312.7 1888.3,1312.7 1887.4,1312.7 1886.7,1312.7ZM1899.1,1303.9 1899.6,1303.9 1900.4,1303.9 1901.3,1303.9 1902.1,1303.9 1903.0,1303.9 1903.9,1303.9 1904.7,1303.9 1905.3,1303.9 1905.3,1312.7 1904.7,1312.7 1903.9,1312.7 1903.0,1312.7 1902.1,1312.7 1901.3,1312.7 1900.4,1312.7 1899.6,1312.7 1899.1,1312.7ZM1911.5,1303.9 1911.7,1303.9 1912.5,1303.9 1913.4,1303.9 1914.3,1303.9 1915.1,1303.9 1916.0,1303.9 1916.8,1303.9 1917.7,1303.9 1917.7,1303.9 1917.7,1312.7 1917.7,1312.7 1916.8,1312.7 1916.0,1312.7 1915.1,1312.7 1914.3,1312.7 1913.4,1312.7 1912.5,1312.7 1911.7,1312.7 1911.5,1312.7ZM1923.9,1303.9 1924.6,1303.9 1925.5,1303.9 1926.4,1303.9 1927.2,1303.9 1928.1,1303.9 1928.9,1303.9 1929.8,1303.9 1930.1,1303.9 1930.1,1312.7 1929.8,1312.7 1928.9,1312.7 1928.1,1312.7 1927.2,1312.7 1926.4,1312.7 1925.5,1312.7 1924.6,1312.7 1923.9,1312.7ZM1936.3,1303.9 1936.7,1303.9 1937.6,1303.9 1938.5,1303.9 1939.3,1303.9 1940.2,1303.9 1941.1,1303.9 1941.9,1303.9 1942.5,1303.9 1942.5,1312.7 1941.9,1312.7 1941.1,1312.7 1940.2,1312.7 1939.3,1312.7 1938.5,1312.7 1937.6,1312.7 1936.7,1312.7 1936.3,1312.7ZM1948.7,1303.9 1948.8,1303.9 1949.7,1303.9 1950.6,1303.9 1951.4,1303.9 1952.3,1303.9 1953.2,1303.9 1954.0,1303.9 1954.9,1303.9 1954.9,1303.9 1954.9,1312.7 1954.9,1312.7 1954.0,1312.7 1953.2,1312.7 1952.3,1312.7 1951.4,1312.7 1950.6,1312.7 1949.7,1312.7 1948.8,1312.7 1948.7,1312.7ZM1961.1,1303.9 1961.8,1303.9 1962.7,1303.9 1963.5,1303.9 1964.4,1303.9 1965.3,1303.9 1966.1,1303.9 1967.0,1303.9 1967.3,1303.9 1967.3,1312.7 1967.0,1312.7 1966.1,1312.7 1965.3,1312.7 1964.4,1312.7 1963.5,1312.7 1962.7,1312.7 1961.8,1312.7 1961.1,1312.7ZM1973.5,1303.9 1973.9,1303.9 1974.8,1303.9 1975.6,1303.9 1976.5,1303.9 1977.4,1303.9 1978.2,1303.9 1979.1,1303.9 1979.7,1303.9 1979.7,1312.7 1979.1,1312.7 1978.2,1312.7 1977.4,1312.7 1976.5,1312.7 1975.6,1312.7 1974.8,1312.7 1973.9,1312.7 1973.5,1312.7ZM1985.9,1303.9 1986.0,1303.9 1986.9,1303.9 1987.7,1303.9 1988.6,1303.9 1989.5,1303.9 1990.3,1303.9 1991.2,1303.9 1992.1,1303.9 1992.1,1303.9 1992.1,1312.7 1992.1,1312.7 1991.2,1312.7 1990.3,1312.7 1989.5,1312.7 1988.6,1312.7 1987.7,1312.7 1986.9,1312.7 1986.0,1312.7 1985.9,1312.7ZM1998.3,1303.9 1999.0,1303.9 1999.9,1303.9 2000.7,1303.9 2001.6,1303.9 2002.4,1303.9 2003.3,1303.9 2004.2,1303.9 2004.5,1303.9 2004.5,1312.7 2004.2,1312.7 2003.3,1312.7 2002.4,1312.7 2001.6,1312.7 2000.7,1312.7 1999.9,1312.7 1999.0,1312.7 1998.3,1312.7ZM2010.7,1303.9 2011.1,1303.9 2012.0,1303.9 2012.8,1303.9 2013.7,1303.9 2014.5,1303.9 2015.4,1303.9 2016.3,1303.9 2016.9,1303.9 2016.9,1312.7 2016.3,1312.7 2015.4,1312.7 2014.5,1312.7 2013.7,1312.7 2012.8,1312.7 2012.0,1312.7 2011.1,1312.7 2010.7,1312.7ZM2023.1,1303.9 2023.2,1303.9 2024.1,1303.9 2024.9,1303.9 2025.8,1303.9 2026.7,1303.9 2027.5,1303.9 2028.4,1303.9 2029.2,1303.9 2029.3,1303.9 2029.3,1312.7 2029.2,1312.7 2028.4,1312.7 2027.5,1312.7 2026.7,1312.7 2025.8,1312.7 2024.9,1312.7 2024.1,1312.7 2023.2,1312.7 2023.1,1312.7ZM2035.5,1303.9 2036.2,1303.9 2037.0,1303.9 2037.9,1303.9 2038.8,1303.9 2039.6,1303.9 2040.5,1303.9 2041.4,1303.9 2041.7,1303.9 2041.7,1312.7 2041.4,1312.7 2040.5,1312.7 2039.6,1312.7 2038.8,1312.7 2037.9,1312.7 2037.0,1312.7 2036.2,1312.7 2035.5,1312.7ZM2047.9,1303.9 2048.3,1303.9 2049.1,1303.9 2050.0,1303.9 2050.0,1312.7 2049.1,1312.7 2048.3,1312.7 2047.9,1312.7Z" fill="#4682B4" stroke="none"/>
<path d="M188.0,46.8 188.1,47.3 188.2,49.2 188.3,51.0 188.4,52.8 188.5,54.6 188.6,56.4 188.7,58.3 188.8,60.1 188.9,61.9 189.0,63.7 189.1,65.5 189.2,67.3 189.3,69.1 189.4,70.9 189.4,71.6 180.6,71.6 180.6,70.9 180.5,69.1 180.4,67.3 180.3,65.5 180.2,63.7 180.1,61.9 180.0,60.1 179.9,58.3 179.8,56.4 179.7,54.6 179.6,52.8 179.5,51.0 179.4,49.2 179.3,47.3 179.2,46.8ZM190.9,96.4 190.9,97.0 191.0,98.8 191.1,100.6 191.2,102.4 191.3,104.1 191.4,105.9 191.5,107.7 191.6,109.5 191.7,111.3 191.8,113.0 191.9,114.8 192.1,116.6 192.2,118.4 192.3,120.1 192.3,121.0 192.3,121.2 183.5,121.2 183.5,121.0 183.5,120.1 183.4,118.4 183.3,116.6 183.1,114.8 183.0,113.0 182.9,111.3 182.8,109.5 182.7,107.7 182.6,105.9 182.5,104.1 182.4,102.4 182.3,100.6 182.2,98.8 182.1,97.0 182.1,96.4ZM193.8,146.0 193.8,146.5 193.9,148.3 194.0,150.0 194.1,151.8 194.2,153.5 194.3,155.3 194.4,157.0 194.5,158.8 194.6,160.5 194.7,162.2 194.9,164.0 195.0,165.7 195.1,167.5 195.2,169.2 195.2,170.1 195.3,170.8 186.5,170.8 186.4,170.1 186.4,169.2 186.3,167.5 186.2,165.7 186.1,164.0 185.9,162.2 185.8,160.5 185.7,158.8 185.6,157.0 185.5,155.3 185.4,153.5 185.3,151.8 185.2,150.0 185.1,148.3 185.0,146.5 185.0,146.0ZM196.8,195.6 196.8,195.9 196.9,197.6 197.0,199.3 197.1,201.0 197.2,202.8 197.3,204.5 197.4,206.2 197.5,207.9 197.6,209.6 197.7,211.3 197.8,213.0 197.9,214.7 198.0,216.4 198.1,218.1 198.2,219.8 198.3,220.4 189.5,220.4 189.4,219.8 189.3,218.1 189.2,216.4 189.1,214.7 189.0,213.0 188.9,211.3 188.8,209.6 188.7,207.9 188.6,206.2 188.5,204.5 188.4,202.8 188.3,201.0 188.2,199.3 188.1,197.6 188.0,195.9 188.0,195.6ZM199.8,245.2 199.8,245.9 199.9,247.6 200.0,249.3 200.1,251.0 200.2,252.6 200.3,254.3 200.5,256.0 200.6,257.6 200.7,259.3 200.8,261.0 200.9,262.6 201.0,264.3 201.1,266.0 201.2,267.6 201.3,269.3 201.3,270.0 192.5,270.0 192.5,269.3 192.4,267.6 192.3,266.0 192.2,264.3 192.1,262.6 192.0,261.0 191.9,259.3 191.8,257.6 191.7,256.0 191.5,254.3 191.4,252.6 191.3,251.0 191.2,249.3 191.1,247.6 191.0,245.9 191.0,245.2ZM202.9,294.8 202.9,294.9 203.0,297.3 203.2,299.8 203.4,302.3 203.5,304.7 203.7,307.2 203.8,309.6 204.0,312.0 204.1,314.5 204.3,316.9 204.4,319.4 204.5,319.6 195.7,319.6 195.6,319.4 195.5,316.9 195.3,314.5 195.2,312.0 195.0,309.6 194.9,307.2 194.7,304.7 194.6,302.3 194.4,299.8 194.2,297.3 194.1,294.9 194.1,294.8ZM206.1,344.4 206.1,345.2 206.3,347.6 206.4,350.0 206.6,352.4 206.7,354.8 206.9,357.2 207.0,359.6 207.2,362.0 207.4,364.3 207.5,366.7 207.7,369.1 207.7,369.2 198.9,369.2 198.9,369.1 198.7,366.7 198.6,364.3 198.4,362.0 198.2,359.6 198.1,357.2 197.9,354.8 197.8,352.4 197.6,350.0 197.5,347.6 197.3,345.2 197.3,344.4ZM209.3,394.0 209.3,394.3 209.5,396.7 209.6,399.0 209.8,401.4 209.9,403.7 210.1,406.1 210.3,408.4 210.4,410.7 210.6,413.1 210.7,415.4 210.9,417.7 210.9,418.5 210.9,418.8 202.1,418.8 202.1,418.5 202.1,417.7 201.9,415.4 201.8,413.1 201.6,410.7 201.5,408.4 201.3,406.1 201.1,403.7 201.0,401.4 200.8,399.0 200.7,396.7 200.5,394.3 200.5,394.0ZM212.6,443.6 212.6,443.9 212.8,446.2 213.0,448.5 213.1,450.8 213.3,453.1 213.4,455.4 213.6,457.6 213.7,459.9 213.9,462.2 214.0,464.5 214.2,466.8 214.3,468.3 214.3,468.4 205.5,468.4 205.5,468.3 205.4,466.8 205.2,464.5 205.1,462.2 204.9,459.9 204.8,457.6 204.6,455.4 204.5,453.1 204.3,450.8 204.2,448.5 204.0,446.2 203.8,443.9 203.8,443.6ZM216.0,493.2 216.1,493.8 216.2,496.1 216.4,498.3 216.5,500.5 216.7,502.8 216.8,505.0 217.0,507.2 217.2,509.5 217.3,511.7 217.5,513.9 217.6,516.1 217.7,517.6 217.7,518.0 208.9,518.0 208.9,517.6 208.8,516.1 208.7,513.9 208.5,511.7 208.4,509.5 208.2,507.2 208.0,505.0 207.9,502.8 207.7,500.5 207.6,498.3 207.4,496.1 207.3,493.8 207.2,493.2ZM219.5,542.8 219.5,543.3 219.7,545.5 219.8,547.6 220.0,549.8 220.2,552.0 220.3,554.2 220.5,556.3 220.6,558.5 220.8,560.7 220.9,562.9 221.1,565.0 221.2,567.2 221.3,567.6 212.5,567.6 212.4,567.2 212.3,565.0 212.1,562.9 212.0,560.7 211.8,558.5 211.7,556.3 211.5,554.2 211.4,552.0 211.2,549.8 211.0,547.6 210.9,545.5 210.7,543.3 210.7,542.8ZM223.1,592.4 223.1,592.9 223.3,595.1 223.4,597.2 223.6,599.3 223.7,601.4 223.9,603.6 224.0,605.7 224.2,607.8 224.4,609.9 224.5,612.0 224.7,614.1 224.8,616.2 224.9,616.9 224.9,617.2 216.1,617.2 216.1,616.9 216.0,616.2 215.9,614.1 215.7,612.0 215.6,609.9 215.4,607.8 215.2,605.7 215.1,603.6 214.9,601.4 214.8,599.3 214.6,597.2 214.5,595.1 214.3,592.9 214.3,592.4ZM226.7,642.0 226.7,642.0 226.9,644.1 227.1,646.2 227.2,648.2 227.4,650.3 227.5,652.4 227.7,654.4 227.8,656.5 228.0,658.6 228.1,660.6 228.3,662.7 228.5,664.7 228.6,666.8 228.6,666.8 219.8,666.8 219.8,666.8 219.7,664.7 219.5,662.7 219.3,660.6 219.2,658.6 219.0,656.5 218.9,654.4 218.7,652.4 218.6,650.3 218.4,648.2 218.3,646.2 218.1,644.1 217.9,642.0 217.9,642.0ZM230.5,691.6 230.5,691.9 230.7,693.9 230.8,695.9 231.0,697.9 231.2,700.0 231.3,702.0 231.5,704.0 231.6,706.0 231.8,708.0 231.9,710.0 232.1,712.0 232.2,714.0 232.4,716.0 232.4,716.4 223.6,716.4 223.6,716.0 223.4,714.0 223.3,712.0 223.1,710.0 223.0,708.0 222.8,706.0 222.7,704.0 222.5,702.0 222.4,700.0 222.2,697.9 222.0,695.9 221.9,693.9 221.7,691.9 221.7,691.6ZM234.4,741.2 234.4,741.7 234.6,743.7 234.7,745.7 234.9,747.6 235.0,749.6 235.2,751.5 235.4,753.5 235.5,755.4 235.7,757.4 235.8,759.3 236.0,761.3 236.1,763.2 236.3,765.2 236.3,765.8 236.4,766.0 227.6,766.0 227.5,765.8 227.5,765.2 227.3,763.2 227.2,761.3 227.0,759.3 226.9,757.4 226.7,755.4 226.6,753.5 226.4,751.5 226.2,749.6 226.1,747.6 225.9,745.7 225.8,743.7 225.6,741.7 225.6,741.2ZM238.4,790.8 238.4,790.9 238.5,792.8 238.7,794.7 238.8,796.6 239.0,798.5 239.1,800.4 239.3,802.3 239.5,804.2 239.6,806.1 239.8,808.0 239.9,809.9 240.1,811.8 240.2,813.7 240.4,815.5 240.4,815.6 231.6,815.6 231.6,815.5 231.4,813.7 231.3,811.8 231.1,809.9 231.0,808.0 230.8,806.1 230.7,804.2 230.5,802.3 230.3,800.4 230.2,798.5 230.0,796.6 229.9,794.7 229.7,792.8 229.6,790.9 229.6,790.8ZM242.5,840.4 242.5,840.5 242.7,843.0 242.9,845.4 243.1,847.9 243.3,850.4 243.5,852.8 243.7,855.3 243.9,857.7 244.1,860.2 244.3,862.6 244.5,865.1 244.5,865.2 235.7,865.2 235.7,865.1 235.5,862.6 235.3,860.2 235.1,857.7 234.9,855.3 234.7,852.8 234.5,850.4 234.3,847.9 234.1,845.4 233.9,843.0 233.7,840.5 233.7,840.4ZM246.7,890.0 246.7,890.5 246.9,892.9 247.1,895.3 247.3,897.7 247.5,900.1 247.7,902.4 248.0,904.8 248.2,907.2 248.4,909.6 248.6,912.0 248.8,914.3 248.8,914.8 240.0,914.8 240.0,914.3 239.8,912.0 239.6,909.6 239.4,907.2 239.2,904.8 238.9,902.4 238.7,900.1 238.5,897.7 238.3,895.3 238.1,892.9 237.9,890.5 237.9,890.0ZM251.0,939.6 251.1,940.1 251.3,942.4 251.5,944.7 251.7,946.9 251.9,949.2 252.1,951.4 252.3,953.7 252.5,955.9 252.7,958.1 252.9,960.2 253.1,962.4 253.3,964.0 253.3,964.4 244.5,964.4 244.5,964.0 244.3,962.4 244.1,960.2 243.9,958.1 243.7,955.9 243.5,953.7 243.3,951.4 243.1,949.2 242.9,946.9 242.7,944.7 242.5,942.4 242.3,940.1 242.2,939.6ZM255.8,989.2 255.8,989.5 256.1,992.0 256.4,994.5 256.6,997.0 256.9,999.4 257.1,1001.8 257.4,1004.2 257.7,1006.6 257.9,1009.0 258.2,1011.4 258.4,1013.7 258.5,1014.0 249.7,1014.0 249.6,1013.7 249.4,1011.4 249.1,1009.0 248.9,1006.6 248.6,1004.2 248.3,1001.8 248.1,999.4 247.8,997.0 247.6,994.5 247.3,992.0 247.0,989.5 247.0,989.2ZM261.3,1038.8 261.4,1039.1 261.6,1041.3 261.9,1043.4 262.2,1045.5 262.4,1047.5 262.7,1049.6 262.9,1051.7 263.2,1053.7 263.5,1055.7 263.7,1057.7 264.0,1059.7 264.2,1061.7 264.4,1063.3 264.5,1063.6 255.7,1063.6 255.6,1063.3 255.4,1061.7 255.2,1059.7 254.9,1057.7 254.7,1055.7 254.4,1053.7 254.1,1051.7 253.9,1049.6 253.6,1047.5 253.4,1045.5 253.1,1043.4 252.8,1041.3 252.6,1039.1 252.5,1038.8ZM268.0,1088.4 268.0,1088.5 268.3,1091.0 268.7,1093.4 269.1,1095.8 269.4,1098.2 269.8,1100.6 270.2,1102.9 270.5,1105.2 270.9,1107.5 271.2,1109.7 271.6,1112.0 271.8,1112.9 271.8,1113.2 263.0,1113.2 263.0,1112.9 262.8,1112.0 262.4,1109.7 262.1,1107.5 261.7,1105.2 261.4,1102.9 261.0,1100.6 260.6,1098.2 260.3,1095.8 259.9,1093.4 259.5,1091.0 259.2,1088.5 259.2,1088.4ZM276.1,1138.0 276.2,1138.1 276.6,1140.6 277.1,1143.0 277.6,1145.4 278.0,1147.8 278.5,1150.1 279.0,1152.4 279.4,1154.7 279.9,1157.0 280.4,1159.2 280.8,1161.4 281.1,1162.6 281.1,1162.8 272.3,1162.8 272.3,1162.6 272.0,1161.4 271.6,1159.2 271.1,1157.0 270.6,1154.7 270.2,1152.4 269.7,1150.1 269.2,1147.8 268.8,1145.4 268.3,1143.0 267.8,1140.6 267.4,1138.1 267.3,1138.0ZM287.0,1187.6 287.0,1187.6 287.7,1190.2 288.4,1192.7 289.0,1195.2 289.7,1197.6 290.4,1200.0 291.1,1202.3 291.7,1204.6 292.4,1206.8 293.1,1209.0 293.7,1211.1 294.1,1212.3 294.1,1212.4 285.3,1212.4 285.3,1212.3 284.9,1211.1 284.3,1209.0 283.6,1206.8 282.9,1204.6 282.3,1202.3 281.6,1200.0 280.9,1197.6 280.2,1195.2 279.6,1192.7 278.9,1190.2 278.2,1187.6 278.2,1187.6ZM303.3,1237.2 303.3,1237.2 304.5,1240.0 305.8,1242.8 307.0,1245.4 308.3,1248.0 309.5,1250.4 310.8,1252.8 312.0,1255.1 313.2,1257.2 314.5,1259.3 315.7,1261.4 316.1,1261.9 316.1,1262.0 307.3,1262.0 307.3,1261.9 306.9,1261.4 305.7,1259.3 304.4,1257.2 303.2,1255.1 302.0,1252.8 300.7,1250.4 299.5,1248.0 298.2,1245.4 297.0,1242.8 295.7,1240.0 294.5,1237.2 294.5,1237.2ZM332.9,1281.6 332.9,1281.6 335.3,1283.4 337.8,1285.1 340.2,1286.7 342.7,1288.1 345.1,1289.5 347.5,1290.7 350.0,1291.8 352.4,1292.8 354.8,1293.8 357.3,1294.7 357.6,1294.8 357.7,1294.8 357.7,1303.6 357.6,1303.6 357.3,1303.5 354.8,1302.6 352.4,1301.6 350.0,1300.6 347.5,1299.5 345.1,1298.3 342.7,1296.9 340.2,1295.5 337.8,1293.9 335.3,1292.2 332.9,1290.4 332.9,1290.4ZM382.5,1300.4 382.5,1300.4 385.0,1300.7 387.4,1301.0 389.8,1301.3 392.3,1301.6 394.7,1301.8 397.2,1302.0 399.6,1302.2 402.0,1302.3 404.5,1302.5 406.9,1302.6 407.3,1302.7 407.3,1302.7 407.3,1311.5 407.3,1311.5 406.9,1311.4 404.5,1311.3 402.0,1311.1 399.6,1311.0 397.2,1310.8 394.7,1310.6 392.3,1310.4 389.8,1310.1 387.4,1309.8 385.0,1309.5 382.5,1309.2 382.5,1309.2ZM432.1,1303.5 432.1,1303.5 434.6,1303.6 437.0,1303.6 439.4,1303.7 441.9,1303.7 444.3,1303.7 446.7,1303.8 449.2,1303.8 451.6,1303.8 454.1,1303.8 456.5,1303.8 456.9,1303.8 456.9,1303.9 456.9,1312.7 456.9,1312.6 456.5,1312.6 454.1,1312.6 451.6,1312.6 449.2,1312.6 446.7,1312.6 444.3,1312.5 441.9,1312.5 439.4,1312.5 437.0,1312.4 434.6,1312.4 432.1,1312.3 432.1,1312.3ZM481.7,1303.9 481.7,1303.9 483.0,1303.9 484.4,1303.9 485.7,1303.9 487.1,1303.9 488.4,1303.9 489.8,1303.9 491.1,1303.9 492.5,1303.9 493.8,1303.9 505.7,1303.9 506.5,1303.9 506.5,1312.7 505.7,1312.7 493.8,1312.7 492.5,1312.7 491.1,1312.7 489.8,1312.7 488.4,1312.7 487.1,1312.7 485.7,1312.7 484.4,1312.7 483.0,1312.7 481.7,1312.7 481.7,1312.7ZM531.3,1303.9 531.7,1303.9 533.4,1303.9 535.1,1303.9 536.9,1303.9 538.6,1303.9 540.3,1303.9 542.1,1303.9 543.8,1303.9 545.5,1303.9 547.2,1303.9 549.0,1303.9 550.7,1303.9 552.4,1303.9 554.2,1303.9 555.9,1303.9 556.1,1303.9 556.1,1312.7 555.9,1312.7 554.2,1312.7 552.4,1312.7 550.7,1312.7 549.0,1312.7 547.2,1312.7 545.5,1312.7 543.8,1312.7 542.1,1312.7 540.3,1312.7 538.6,1312.7 536.9,1312.7 535.1,1312.7 533.4,1312.7 531.7,1312.7 531.3,1312.7ZM580.9,1303.9 581.0,1303.9 582.7,1303.9 584.4,1303.9 586.2,1303.9 587.9,1303.9 589.6,1303.9 591.3,1303.9 593.1,1303.9 594.8,1303.9 596.5,1303.9 598.3,1303.9 600.0,1303.9 601.7,1303.9 603.4,1303.9 605.2,1303.9 605.7,1303.9 605.7,1312.7 605.2,1312.7 603.4,1312.7 601.7,1312.7 600.0,1312.7 598.3,1312.7 596.5,1312.7 594.8,1312.7 593.1,1312.7 591.3,1312.7 589.6,1312.7 587.9,1312.7 586.2,1312.7 584.4,1312.7 582.7,1312.7 581.0,1312.7 580.9,1312.7ZM630.5,1303.9 631.1,1303.9 632.8,1303.9 634.6,1303.9 636.3,1303.9 638.0,1303.9 639.8,1303.9 641.5,1303.9 643.2,1303.9 644.9,1303.9 646.7,1303.9 648.4,1303.9 650.1,1303.9 651.9,1303.9 653.6,1303.9 654.5,1303.9 655.3,1303.9 655.3,1312.7 654.5,1312.7 653.6,1312.7 651.9,1312.7 650.1,1312.7 648.4,1312.7 646.7,1312.7 644.9,1312.7 643.2,1312.7 641.5,1312.7 639.8,1312.7 638.0,1312.7 636.3,1312.7 634.6,1312.7 632.8,1312.7 631.1,1312.7 630.5,1312.7ZM680.1,1303.9 680.4,1303.9 682.1,1303.9 683.9,1303.9 685.6,1303.9 687.3,1303.9 689.0,1303.9 690.8,1303.9 692.5,1303.9 694.2,1303.9 696.0,1303.9 697.7,1303.9 699.4,1303.9 701.2,1303.9 702.9,1303.9 704.6,1303.9 704.9,1303.9 704.9,1312.7 704.6,1312.7 702.9,1312.7 701.2,1312.7 699.4,1312.7 697.7,1312.7 696.0,1312.7 694.2,1312.7 692.5,1312.7 690.8,1312.7 689.0,1312.7 687.3,1312.7 685.6,1312.7 683.9,1312.7 682.1,1312.7 680.4,1312.7 680.1,1312.7ZM729.7,1303.9 730.5,1303.9 732.3,1303.9 734.0,1303.9 735.7,1303.9 737.5,1303.9 739.2,1303.9 740.9,1303.9 742.7,1303.9 744.4,1303.9 746.1,1303.9 747.8,1303.9 749.6,1303.9 751.3,1303.9 753.0,1303.9 753.9,1303.9 754.5,1303.9 754.5,1312.7 753.9,1312.7 753.0,1312.7 751.3,1312.7 749.6,1312.7 747.8,1312.7 746.1,1312.7 744.4,1312.7 742.7,1312.7 740.9,1312.7 739.2,1312.7 737.5,1312.7 735.7,1312.7 734.0,1312.7 732.3,1312.7 730.5,1312.7 729.7,1312.7ZM779.3,1303.9 779.8,1303.9 781.6,1303.9 783.3,1303.9 785.0,1303.9 786.8,1303.9 788.5,1303.9 790.2,1303.9 791.9,1303.9 793.7,1303.9 795.4,1303.9 797.1,1303.9 798.9,1303.9 800.6,1303.9 802.3,1303.9 804.0,1303.9 804.1,1303.9 804.1,1312.7 804.0,1312.7 802.3,1312.7 800.6,1312.7 798.9,1312.7 797.1,1312.7 795.4,1312.7 793.7,1312.7 791.9,1312.7 790.2,1312.7 788.5,1312.7 786.8,1312.7 785.0,1312.7 783.3,1312.7 781.6,1312.7 779.8,1312.7 779.3,1312.7ZM828.9,1303.9 829.1,1303.9 830.8,1303.9 832.6,1303.9 834.3,1303.9 836.0,1303.9 837.8,1303.9 839.5,1303.9 841.2,1303.9 843.0,1303.9 844.7,1303.9 846.4,1303.9 848.1,1303.9 849.9,1303.9 851.6,1303.9 853.3,1303.9 853.7,1303.9 853.7,1312.7 853.3,1312.7 851.6,1312.7 849.9,1312.7 848.1,1312.7 846.4,1312.7 844.7,1312.7 843.0,1312.7 841.2,1312.7 839.5,1312.7 837.8,1312.7 836.0,1312.7 834.3,1312.7 832.6,1312.7 830.8,1312.7 829.1,1312.7 828.9,1312.7ZM878.5,1303.9 879.3,1303.9 881.0,1303.9 882.7,1303.9 884.5,1303.9 886.2,1303.9 887.9,1303.9 889.6,1303.9 891.4,1303.9 893.1,1303.9 894.8,1303.9 896.6,1303.9 898.3,1303.9 900.0,1303.9 901.7,1303.9 902.6,1303.9 903.3,1303.9 903.3,1312.7 902.6,1312.7 901.7,1312.7 900.0,1312.7 898.3,1312.7 896.6,1312.7 894.8,1312.7 893.1,1312.7 891.4,1312.7 889.6,1312.7 887.9,1312.7 886.2,1312.7 884.5,1312.7 882.7,1312.7 881.0,1312.7 879.3,1312.7 878.5,1312.7ZM928.1,1303.9 928.6,1303.9 930.3,1303.9 932.0,1303.9 933.7,1303.9 935.5,1303.9 937.2,1303.9 938.9,1303.9 940.7,1303.9 942.4,1303.9 944.1,1303.9 945.8,1303.9 947.6,1303.9 949.3,1303.9 951.0,1303.9 952.8,1303.9 952.9,1303.9 952.9,1312.7 952.8,1312.7 951.0,1312.7 949.3,1312.7 947.6,1312.7 945.8,1312.7 944.1,1312.7 942.4,1312.7 940.7,1312.7 938.9,1312.7 937.2,1312.7 935.5,1312.7 933.7,1312.7 932.0,1312.7 930.3,1312.7 928.6,1312.7 928.1,1312.7ZM977.7,1303.9 977.8,1303.9 979.6,1303.9 981.3,1303.9 983.0,1303.9 984.8,1303.9 986.5,1303.9 988.2,1303.9 989.9,1303.9 991.7,1303.9 993.4,1303.9 995.1,1303.9 996.9,1303.9 998.6,1303.9 1000.3,1303.9 1002.0,1303.9 1002.5,1303.9 1002.5,1312.7 1002.0,1312.7 1000.3,1312.7 998.6,1312.7 996.9,1312.7 995.1,1312.7 993.4,1312.7 991.7,1312.7 989.9,1312.7 988.2,1312.7 986.5,1312.7 984.8,1312.7 983.0,1312.7 981.3,1312.7 979.6,1312.7 977.8,1312.7 977.7,1312.7ZM1037.5,1303.9 1037.5,1303.9 1039.2,1303.9 1041.0,1303.9 1042.7,1303.9 1044.4,1303.9 1046.1,1303.9 1047.9,1303.9 1049.6,1303.9 1051.3,1303.9 1053.1,1303.9 1054.8,1303.9 1056.5,1303.9 1058.2,1303.9 1060.0,1303.9 1061.7,1303.9 1062.3,1303.9 1062.3,1312.7 1061.7,1312.7 1060.0,1312.7 1058.2,1312.7 1056.5,1312.7 1054.8,1312.7 1053.1,1312.7 1051.3,1312.7 1049.6,1312.7 1047.9,1312.7 1046.1,1312.7 1044.4,1312.7 1042.7,1312.7 1041.0,1312.7 1039.2,1312.7 1037.5,1312.7 1037.5,1312.7ZM1087.1,1303.9 1087.6,1303.9 1089.4,1303.9 1091.1,1303.9 1092.8,1303.9 1094.6,1303.9 1096.3,1303.9 1098.0,1303.9 1099.8,1303.9 1101.5,1303.9 1103.2,1303.9 1104.9,1303.9 1106.7,1303.9 1108.4,1303.9 1110.1,1303.9 1111.9,1303.9 1111.9,1303.9 1111.9,1312.7 1111.9,1312.7 1110.1,1312.7 1108.4,1312.7 1106.7,1312.7 1104.9,1312.7 1103.2,1312.7 1101.5,1312.7 1099.8,1312.7 1098.0,1312.7 1096.3,1312.7 1094.6,1312.7 1092.8,1312.7 1091.1,1312.7 1089.4,1312.7 1087.6,1312.7 1087.1,1312.7ZM1136.7,1303.9 1136.9,1303.9 1138.7,1303.9 1140.4,1303.9 1142.1,1303.9 1143.8,1303.9 1145.6,1303.9 1147.3,1303.9 1149.0,1303.9 1150.8,1303.9 1152.5,1303.9 1154.2,1303.9 1156.0,1303.9 1157.7,1303.9 1159.4,1303.9 1161.1,1303.9 1161.5,1303.9 1161.5,1312.7 1161.1,1312.7 1159.4,1312.7 1157.7,1312.7 1156.0,1312.7 1154.2,1312.7 1152.5,1312.7 1150.8,1312.7 1149.0,1312.7 1147.3,1312.7 1145.6,1312.7 1143.8,1312.7 1142.1,1312.7 1140.4,1312.7 1138.7,1312.7 1136.9,1312.7 1136.7,1312.7ZM1186.3,1303.9 1187.1,1303.9 1188.8,1303.9 1190.5,1303.9 1192.3,1303.9 1194.0,1303.9 1195.7,1303.9 1197.5,1303.9 1199.2,1303.9 1200.9,1303.9 1202.6,1303.9 1204.4,1303.9 1206.1,1303.9 1207.8,1303.9 1209.6,1303.9 1210.4,1303.9 1211.1,1303.9 1211.1,1312.7 1210.4,1312.7 1209.6,1312.7 1207.8,1312.7 1206.1,1312.7 1204.4,1312.7 1202.6,1312.7 1200.9,1312.7 1199.2,1312.7 1197.5,1312.7 1195.7,1312.7 1194.0,1312.7 1192.3,1312.7 1190.5,1312.7 1188.8,1312.7 1187.1,1312.7 1186.3,1312.7ZM1235.9,1303.9 1236.4,1303.9 1238.1,1303.9 1239.8,1303.9 1241.6,1303.9 1243.3,1303.9 1245.0,1303.9 1246.7,1303.9 1248.5,1303.9 1250.2,1303.9 1251.9,1303.9 1253.7,1303.9 1255.4,1303.9 1257.1,1303.9 1258.8,1303.9 1260.6,1303.9 1260.7,1303.9 1260.7,1312.7 1260.6,1312.7 1258.8,1312.7 1257.1,1312.7 1255.4,1312.7 1253.7,1312.7 1251.9,1312.7 1250.2,1312.7 1248.5,1312.7 1246.7,1312.7 1245.0,1312.7 1243.3,1312.7 1241.6,1312.7 1239.8,1312.7 1238.1,1312.7 1236.4,1312.7 1235.9,1312.7ZM1285.5,1303.9 1285.7,1303.9 1287.4,1303.9 1289.1,1303.9 1290.8,1303.9 1292.6,1303.9 1294.3,1303.9 1296.0,1303.9 1297.8,1303.9 1299.5,1303.9 1301.2,1303.9 1302.9,1303.9 1304.7,1303.9 1306.4,1303.9 1308.1,1303.9 1309.9,1303.9 1310.3,1303.9 1310.3,1312.7 1309.9,1312.7 1308.1,1312.7 1306.4,1312.7 1304.7,1312.7 1302.9,1312.7 1301.2,1312.7 1299.5,1312.7 1297.8,1312.7 1296.0,1312.7 1294.3,1312.7 1292.6,1312.7 1290.8,1312.7 1289.1,1312.7 1287.4,1312.7 1285.7,1312.7 1285.5,1312.7ZM1335.1,1303.9 1335.8,1303.9 1337.5,1303.9 1339.3,1303.9 1341.0,1303.9 1342.7,1303.9 1344.4,1303.9 1346.2,1303.9 1347.9,1303.9 1349.6,1303.9 1351.4,1303.9 1353.1,1303.9 1354.8,1303.9 1356.6,1303.9 1358.3,1303.9 1359.1,1303.9 1359.9,1303.9 1359.9,1312.7 1359.1,1312.7 1358.3,1312.7 1356.6,1312.7 1354.8,1312.7 1353.1,1312.7 1351.4,1312.7 1349.6,1312.7 1347.9,1312.7 1346.2,1312.7 1344.4,1312.7 1342.7,1312.7 1341.0,1312.7 1339.3,1312.7 1337.5,1312.7 1335.8,1312.7 1335.1,1312.7ZM1384.7,1303.9 1385.1,1303.9 1386.8,1303.9 1388.5,1303.9 1390.3,1303.9 1392.0,1303.9 1393.7,1303.9 1395.5,1303.9 1397.2,1303.9 1398.9,1303.9 1400.7,1303.9 1402.4,1303.9 1404.1,1303.9 1405.8,1303.9 1407.6,1303.9 1409.3,1303.9 1409.5,1303.9 1409.5,1312.7 1409.3,1312.7 1407.6,1312.7 1405.8,1312.7 1404.1,1312.7 1402.4,1312.7 1400.7,1312.7 1398.9,1312.7 1397.2,1312.7 1395.5,1312.7 1393.7,1312.7 1392.0,1312.7 1390.3,1312.7 1388.5,1312.7 1386.8,1312.7 1385.1,1312.7 1384.7,1312.7ZM1434.3,1303.9 1434.4,1303.9 1436.1,1303.9 1437.8,1303.9 1439.6,1303.9 1441.3,1303.9 1443.0,1303.9 1444.7,1303.9 1446.5,1303.9 1448.2,1303.9 1449.9,1303.9 1451.7,1303.9 1453.4,1303.9 1455.1,1303.9 1456.9,1303.9 1458.6,1303.9 1459.1,1303.9 1459.1,1312.7 1458.6,1312.7 1456.9,1312.7 1455.1,1312.7 1453.4,1312.7 1451.7,1312.7 1449.9,1312.7 1448.2,1312.7 1446.5,1312.7 1444.7,1312.7 1443.0,1312.7 1441.3,1312.7 1439.6,1312.7 1437.8,1312.7 1436.1,1312.7 1434.4,1312.7 1434.3,1312.7ZM1483.9,1303.9 1484.5,1303.9 1486.3,1303.9 1488.0,1303.9 1489.7,1303.9 1491.4,1303.9 1493.2,1303.9 1494.9,1303.9 1496.6,1303.9 1498.4,1303.9 1500.1,1303.9 1501.8,1303.9 1503.5,1303.9 1505.3,1303.9 1507.0,1303.9 1507.9,1303.9 1508.7,1303.9 1508.7,1312.7 1507.9,1312.7 1507.0,1312.7 1505.3,1312.7 1503.5,1312.7 1501.8,1312.7 1500.1,1312.7 1498.4,1312.7 1496.6,1312.7 1494.9,1312.7 1493.2,1312.7 1491.4,1312.7 1489.7,1312.7 1488.0,1312.7 1486.3,1312.7 1484.5,1312.7 1483.9,1312.7ZM1533.5,1303.9 1533.8,1303.9 1535.5,1303.9 1537.3,1303.9 1539.0,1303.9 1540.7,1303.9 1542.5,1303.9 1544.2,1303.9 1545.9,1303.9 1547.6,1303.9 1549.4,1303.9 1551.1,1303.9 1552.8,1303.9 1554.6,1303.9 1556.3,1303.9 1558.0,1303.9 1558.3,1303.9 1558.3,1312.7 1558.0,1312.7 1556.3,1312.7 1554.6,1312.7 1552.8,1312.7 1551.1,1312.7 1549.4,1312.7 1547.6,1312.7 1545.9,1312.7 1544.2,1312.7 1542.5,1312.7 1540.7,1312.7 1539.0,1312.7 1537.3,1312.7 1535.5,1312.7 1533.8,1312.7 1533.5,1312.7ZM1583.1,1303.9 1583.1,1303.9 1584.8,1303.9 1586.5,1303.9 1588.3,1303.9 1590.0,1303.9 1591.7,1303.9 1593.5,1303.9 1595.2,1303.9 1596.9,1303.9 1598.7,1303.9 1600.4,1303.9 1602.1,1303.9 1603.8,1303.9 1605.6,1303.9 1607.3,1303.9 1607.9,1303.9 1607.9,1312.7 1607.3,1312.7 1605.6,1312.7 1603.8,1312.7 1602.1,1312.7 1600.4,1312.7 1598.7,1312.7 1596.9,1312.7 1595.2,1312.7 1593.5,1312.7 1591.7,1312.7 1590.0,1312.7 1588.3,1312.7 1586.5,1312.7 1584.8,1312.7 1583.1,1312.7 1583.1,1312.7ZM1632.7,1303.9 1633.2,1303.9 1635.0,1303.9 1636.7,1303.9 1638.4,1303.9 1640.2,1303.9 1641.9,1303.9 1643.6,1303.9 1645.3,1303.9 1647.1,1303.9 1648.8,1303.9 1650.5,1303.9 1652.3,1303.9 1654.0,1303.9 1655.7,1303.9 1657.5,1303.9 1657.5,1303.9 1657.5,1312.7 1657.5,1312.7 1655.7,1312.7 1654.0,1312.7 1652.3,1312.7 1650.5,1312.7 1648.8,1312.7 1647.1,1312.7 1645.3,1312.7 1643.6,1312.7 1641.9,1312.7 1640.2,1312.7 1638.4,1312.7 1636.7,1312.7 1635.0,1312.7 1633.2,1312.7 1632.7,1312.7ZM1682.3,1303.9 1682.5,1303.9 1684.3,1303.9 1686.0,1303.9 1687.7,1303.9 1689.4,1303.9 1691.2,1303.9 1692.9,1303.9 1694.6,1303.9 1696.4,1303.9 1698.1,1303.9 1699.8,1303.9 1701.5,1303.9 1703.3,1303.9 1705.0,1303.9 1706.7,1303.9 1707.1,1303.9 1707.1,1312.7 1706.7,1312.7 1705.0,1312.7 1703.3,1312.7 1701.5,1312.7 1699.8,1312.7 1698.1,1312.7 1696.4,1312.7 1694.6,1312.7 1692.9,1312.7 1691.2,1312.7 1689.4,1312.7 1687.7,1312.7 1686.0,1312.7 1684.3,1312.7 1682.5,1312.7 1682.3,1312.7ZM1731.9,1303.9 1732.7,1303.9 1734.4,1303.9 1736.1,1303.9 1737.9,1303.9 1739.6,1303.9 1741.3,1303.9 1743.1,1303.9 1744.8,1303.9 1746.5,1303.9 1748.2,1303.9 1750.0,1303.9 1751.7,1303.9 1753.4,1303.9 1755.2,1303.9 1756.0,1303.9 1756.7,1303.9 1756.7,1312.7 1756.0,1312.7 1755.2,1312.7 1753.4,1312.7 1751.7,1312.7 1750.0,1312.7 1748.2,1312.7 1746.5,1312.7 1744.8,1312.7 1743.1,1312.7 1741.3,1312.7 1739.6,1312.7 1737.9,1312.7 1736.1,1312.7 1734.4,1312.7 1732.7,1312.7 1731.9,1312.7ZM1781.5,1303.9 1782.0,1303.9 1783.7,1303.9 1785.4,1303.9 1787.1,1303.9 1788.9,1303.9 1790.6,1303.9 1792.3,1303.9 1794.1,1303.9 1795.8,1303.9 1797.5,1303.9 1799.3,1303.9 1801.0,1303.9 1802.7,1303.9 1804.4,1303.9 1806.2,1303.9 1806.3,1303.9 1806.3,1312.7 1806.2,1312.7 1804.4,1312.7 1802.7,1312.7 1801.0,1312.7 1799.3,1312.7 1797.5,1312.7 1795.8,1312.7 1794.1,1312.7 1792.3,1312.7 1790.6,1312.7 1788.9,1312.7 1787.1,1312.7 1785.4,1312.7 1783.7,1312.7 1782.0,1312.7 1781.5,1312.7ZM1831.1,1303.9 1831.2,1303.9 1833.0,1303.9 1834.7,1303.9 1836.4,1303.9 1838.2,1303.9 1839.9,1303.9 1841.6,1303.9 1843.3,1303.9 1845.1,1303.9 1846.8,1303.9 1848.5,1303.9 1850.3,1303.9 1852.0,1303.9 1853.7,1303.9 1855.5,1303.9 1855.9,1303.9 1855.9,1312.7 1855.5,1312.7 1853.7,1312.7 1852.0,1312.7 1850.3,1312.7 1848.5,1312.7 1846.8,1312.7 1845.1,1312.7 1843.3,1312.7 1841.6,1312.7 1839.9,1312.7 1838.2,1312.7 1836.4,1312.7 1834.7,1312.7 1833.0,1312.7 1831.2,1312.7 1831.1,1312.7ZM1880.7,1303.9 1881.4,1303.9 1883.1,1303.9 1884.9,1303.9 1886.6,1303.9 1888.3,1303.9 1890.0,1303.9 1891.8,1303.9 1893.5,1303.9 1895.2,1303.9 1897.0,1303.9 1898.7,1303.9 1900.4,1303.9 1902.1,1303.9 1903.9,1303.9 1904.7,1303.9 1905.5,1303.9 1905.5,1312.7 1904.7,1312.7 1903.9,1312.7 1902.1,1312.7 1900.4,1312.7 1898.7,1312.7 1897.0,1312.7 1895.2,1312.7 1893.5,1312.7 1891.8,1312.7 1890.0,1312.7 1888.3,1312.7 1886.6,1312.7 1884.9,1312.7 1883.1,1312.7 1881.4,1312.7 1880.7,1312.7ZM1930.3,1303.9 1930.7,1303.9 1932.4,1303.9 1934.1,1303.9 1935.9,1303.9 1937.6,1303.9 1939.3,1303.9 1941.1,1303.9 1942.8,1303.9 1944.5,1303.9 1946.2,1303.9 1948.0,1303.9 1949.7,1303.9 1951.4,1303.9 1953.2,1303.9 1954.9,1303.9 1955.1,1303.9 1955.1,1312.7 1954.9,1312.7 1953.2,1312.7 1951.4,1312.7 1949.7,1312.7 1948.0,1312.7 1946.2,1312.7 1944.5,1312.7 1942.8,1312.7 1941.1,1312.7 1939.3,1312.7 1937.6,1312.7 1935.9,1312.7 1934.1,1312.7 1932.4,1312.7 1930.7,1312.7 1930.3,1312.7ZM1979.9,1303.9 1980.0,1303.9 1981.7,1303.9 1983.4,1303.9 1985.2,1303.9 1986.9,1303.9 1988.6,1303.9 1990.3,1303.9 1992.1,1303.9 1993.8,1303.9 1995.5,1303.9 1997.3,1303.9 1999.0,1303.9 2000.7,1303.9 2002.4,1303.9 2004.2,1303.9 2004.7,1303.9 2004.7,1312.7 2004.2,1312.7 2002.4,1312.7 2000.7,1312.7 1999.0,1312.7 1997.3,1312.7 1995.5,1312.7 1993.8,1312.7 1992.1,1312.7 1990.3,1312.7 1988.6,1312.7 1986.9,1312.7 1985.2,1312.7 1983.4,1312.7 1981.7,1312.7 1980.0,1312.7 1979.9,1312.7ZM2029.5,1303.9 2030.1,1303.9 2031.8,1303.9 2033.6,1303.9 2035.3,1303.9 2037.0,1303.9 2038.8,1303.9 2040.5,1303.9 2042.2,1303.9 2043.9,1303.9 2045.7,1303.9 2047.4,1303.9 2049.1,1303.9 2050.0,1303.9 2050.0,1312.7 2049.1,1312.7 2047.4,1312.7 2045.7,1312.7 2043.9,1312.7 2042.2,1312.7 2040.5,1312.7 2038.8,1312.7 2037.0,1312.7 2035.3,1312.7 2033.6,1312.7 2031.8,1312.7 2030.1,1312.7 2029.5,1312.7Z" fill="#00BFFF" stroke="none"/>
<polygon points="400.0,1306.00 480.0,1303.70 2050.0,1303.70 2050.0,1313.00 480.0,1313.00 400.0,1311.60" fill="#0000FF" fill-opacity="0.50"/>
<path d="M180.11,43.47 180.55,51.18 181.00,58.89 181.44,66.58 181.89,74.27 182.33,81.94 182.78,89.61 183.22,97.26 183.67,104.91 184.11,112.55 184.56,120.18 185.00,127.80 185.45,135.41 185.89,143.01 186.34,150.60 186.78,158.18 187.23,165.76 187.67,173.32 188.12,180.88 188.56,188.42 189.01,195.96 189.45,203.49 189.90,211.01 190.34,218.52 190.79,226.02 191.23,233.51 191.68,240.99 192.12,248.46 192.57,255.93 193.01,263.38 193.46,270.83 193.90,278.27 194.35,285.69 194.79,293.11 195.24,300.52 195.68,307.92 196.13,315.32 196.57,322.70 197.02,330.07 197.46,337.44 197.91,344.79 198.35,352.14 198.80,359.48 199.24,366.81 199.69,374.13 200.13,381.44 200.58,388.74 201.02,396.04 201.47,403.32 201.91,410.60 202.36,417.87 202.80,425.12 203.25,432.37 203.69,439.62 204.14,446.85 204.58,454.07 205.03,461.29 205.47,468.49 205.92,475.69 206.37,482.88 206.81,490.06 207.26,497.23 207.70,504.39 208.15,511.54 208.59,518.69 209.04,525.82 209.48,532.95 209.93,540.07 210.37,547.18 210.82,554.28 211.26,561.38 211.71,568.46 212.15,575.54 212.60,582.60 213.04,589.66 213.49,596.71 213.93,603.75 214.38,610.79 214.82,617.81 215.27,624.83 215.71,631.84 216.16,638.83 216.60,645.82 217.05,652.81 217.49,659.78 217.94,666.75 218.38,673.70 218.83,680.65 219.27,687.59 219.72,694.52 220.16,701.44 220.61,708.36 221.05,715.26 221.50,722.16 221.94,729.05 222.39,735.93 222.83,742.81 223.28,749.67 223.72,756.53 224.17,763.37 224.61,770.21 225.06,777.04 225.50,783.87 225.95,790.68 226.39,797.49 226.84,804.29 227.28,811.08 227.73,817.86 228.17,824.63 228.62,831.40 229.06,838.15 229.51,844.90 229.95,851.64 230.40,858.37 230.84,865.10 231.29,871.81 231.73,878.52 232.18,885.22 232.62,891.91 233.07,898.60 233.52,905.27 233.96,911.94 234.41,918.60 234.85,925.25 235.30,931.89 235.74,938.52 236.19,945.07 236.63,951.51 237.08,957.85 237.52,964.08 237.97,970.21 238.41,976.24 238.86,982.17 239.30,988.00 239.75,993.74 240.19,999.38 240.64,1004.93 241.08,1010.39 241.53,1015.75 241.98,1021.03 242.42,1026.22 242.87,1031.33 243.31,1036.35 243.76,1041.28 244.20,1046.14 244.65,1050.91 245.09,1055.60 245.54,1060.22 245.99,1064.75 246.43,1069.22 246.88,1073.60 247.32,1077.91 247.77,1082.15 248.21,1086.32 248.66,1090.42 249.11,1094.45 249.55,1098.41 250.00,1102.30 250.44,1106.13 250.89,1109.89 251.33,1113.59 251.78,1117.22 252.23,1120.79 252.67,1124.31 253.12,1127.76 253.56,1131.15 254.01,1134.49 254.46,1137.76 254.90,1140.98 255.35,1144.15 255.79,1147.26 256.24,1150.32 256.69,1153.32 257.13,1156.27 257.58,1159.18 258.03,1162.03 258.47,1164.83 258.92,1167.58 259.37,1170.29 259.81,1172.94 260.26,1175.56 260.71,1178.12 261.15,1180.64 261.60,1183.12 262.05,1185.55 262.49,1187.94 262.94,1190.29 263.39,1192.60 263.84,1194.87 264.28,1197.09 264.73,1199.28 265.18,1201.43 265.63,1203.54 266.08,1205.61 266.53,1207.65 266.98,1209.65 267.43,1211.61 267.89,1213.54 268.34,1215.44 268.79,1217.30 269.24,1219.13 269.70,1220.92 270.15,1222.69 270.60,1224.42 271.06,1226.12 271.51,1227.79 271.96,1229.43 272.42,1231.04 272.87,1232.62 273.33,1234.17 273.78,1235.70 274.23,1237.19 274.69,1238.66 275.15,1240.11 275.60,1241.52 276.06,1242.91 276.51,1244.28 276.97,1245.62 277.43,1246.94 277.88,1248.23 278.34,1249.50 278.80,1250.74 279.26,1251.97 279.71,1253.17 280.17,1254.35 280.63,1255.50 281.09,1256.64 281.55,1257.75 282.01,1258.85 282.47,1259.92 282.93,1260.97 283.39,1262.01 283.85,1263.02 284.31,1264.02 284.77,1265.00 285.23,1265.95 285.70,1266.90 286.16,1267.82 286.62,1268.73 287.08,1269.62 287.55,1270.49 288.01,1271.34 288.48,1272.18 288.94,1273.01 289.40,1273.82 289.87,1274.61 290.34,1275.39 290.80,1276.15 291.27,1276.90 291.73,1277.63 292.20,1278.35 292.67,1279.06 293.14,1279.75 293.60,1280.43 294.07,1281.10 294.54,1281.75 295.01,1282.39 295.48,1283.02 295.95,1283.64 296.42,1284.24 296.89,1284.83 297.36,1285.41 297.83,1285.98 298.30,1286.54 298.77,1287.09 299.24,1287.62 299.71,1288.15 300.18,1288.66 300.65,1289.17 301.12,1289.66 301.60,1290.14 302.07,1290.62 302.54,1291.08 303.01,1291.54 303.47,1292.00 303.93,1292.45 304.40,1292.88 304.86,1293.31 305.33,1293.73 305.79,1294.14 306.26,1294.54 306.72,1294.94 307.19,1295.33 307.65,1295.71 308.12,1296.08 308.58,1296.44 309.05,1296.80 309.52,1297.15 309.98,1297.49 310.45,1297.82 310.91,1298.15 311.38,1298.47 311.85,1298.79 312.31,1299.10 312.78,1299.40 313.25,1299.69 313.71,1299.98 314.18,1300.27 314.65,1300.54 315.11,1300.81 315.58,1301.08 316.04,1301.34 316.51,1301.59 316.98,1301.84 317.44,1302.09 317.91,1302.32 318.37,1302.56 318.84,1302.79 319.30,1303.01 319.77,1303.23 320.23,1303.44 320.70,1303.65 321.16,1303.85 321.63,1304.05 322.09,1304.25 322.56,1304.44 323.02,1304.63 323.49,1304.81 323.95,1304.99 324.41,1305.16 324.88,1305.33 325.34,1305.50 325.80,1305.66 326.27,1305.82 326.73,1305.98 327.19,1306.13 327.65,1306.28 328.11,1306.43 328.58,1306.57 329.04,1306.71 329.50,1306.84 329.96,1306.98 330.42,1307.11 330.88,1307.23 331.34,1307.36 331.80,1307.48 332.26,1307.59 332.72,1307.71 333.18,1307.82 333.64,1307.93 334.09,1308.04 334.55,1308.15 335.01,1308.25 335.47,1308.35 335.93,1308.45 336.39,1308.54 336.84,1308.63 337.30,1308.72 337.76,1308.81 338.21,1308.90 338.67,1308.98 339.13,1309.07 339.58,1309.15 340.04,1309.22 340.49,1309.30 340.95,1309.37 341.41,1309.45 341.86,1309.52 342.32,1309.59 342.77,1309.66 343.22,1309.72 343.68,1309.79 344.13,1309.85 344.59,1309.91 345.04,1309.97 345.49,1310.03 345.95,1310.09 346.40,1310.14 346.85,1310.20 347.31,1310.25 347.76,1310.30 348.21,1310.35 348.66,1310.40 349.12,1310.45 349.57,1310.50 350.02,1310.54 350.47,1310.59 350.92,1310.63 351.38,1310.67 351.83,1310.71 352.28,1310.75 352.73,1310.79 353.18,1310.83 353.63,1310.87 354.08,1310.90 354.53,1310.94 354.98,1310.98 355.43,1311.01 355.88,1311.04 356.33,1311.07 356.78,1311.11 357.23,1311.14 357.68,1311.17 358.13,1311.19 358.58,1311.22 359.03,1311.25 359.48,1311.28 359.93,1311.30 360.38,1311.33 360.83,1311.35 361.28,1311.38 361.73,1311.40 362.18,1311.42 362.62,1311.45 363.07,1311.47 363.52,1311.49 363.97,1311.51 364.42,1311.53 364.87,1311.55 365.31,1311.57 365.78,1311.59 366.29,1311.60 366.77,1311.60 367.21,1311.60 367.66,1311.60 368.10,1311.60 368.55,1311.60 368.99,1311.60 369.44,1311.60 369.88,1311.60 370.33,1311.60 370.77,1311.60 371.22,1311.60 371.66,1311.60 372.11,1311.60 372.55,1311.60 373.00,1311.60 373.44,1311.60 373.89,1311.60 374.33,1311.60 374.78,1311.60 375.22,1311.60 375.67,1311.60 376.11,1311.60 376.56,1311.60 377.00,1311.60 377.45,1311.60 377.89,1311.60 378.34,1311.60 378.78,1311.60 379.23,1311.60 379.67,1311.60 380.12,1311.60 380.56,1311.60 381.01,1311.60 381.45,1311.60 381.90,1311.60 382.34,1311.60 382.79,1311.60 383.23,1311.60 383.68,1311.60 384.12,1311.60 384.57,1311.60 385.01,1311.60 385.46,1311.60 385.90,1311.60 386.35,1311.60 386.79,1311.60 387.24,1311.60 387.68,1311.60 388.13,1311.60 388.57,1311.60 389.02,1311.60 389.46,1311.60 389.91,1311.60 390.35,1311.60 390.80,1311.60 391.25,1311.60 391.69,1311.60 392.14,1311.60 392.58,1311.60 393.03,1311.60 393.47,1311.60 393.92,1311.60 394.36,1311.60 394.81,1311.60 395.25,1311.60 395.70,1311.60 396.14,1311.60 396.59,1311.60 397.03,1311.60 397.48,1311.60 397.92,1311.60 398.37,1311.60 398.81,1311.60 399.26,1311.60 399.70,1311.60 400.15,1311.60 400.59,1311.60 401.04,1311.60 401.48,1311.60 401.93,1311.60 402.37,1311.60 402.82,1311.60 403.26,1311.60 403.71,1311.60 404.15,1311.60 404.60,1311.60 405.04,1311.60 405.49,1311.60 405.93,1311.60 406.38,1311.60 406.82,1311.60 407.27,1311.60 407.71,1311.60 408.16,1311.60 408.60,1311.60 409.05,1311.60 409.49,1311.60 409.94,1311.60 410.38,1311.60 410.83,1311.60 411.27,1311.60 411.72,1311.60 412.16,1311.60 412.61,1311.60 413.05,1311.60 413.50,1311.60 413.94,1311.60 414.39,1311.60 414.83,1311.60 415.28,1311.60 415.72,1311.60 416.17,1311.60 416.61,1311.60 417.06,1311.60 417.50,1311.60 417.95,1311.60 418.39,1311.60 418.84,1311.60 419.28,1311.60 419.73,1311.60 420.17,1311.60 420.62,1311.60 421.06,1311.60 421.51,1311.60 421.95,1311.60 422.40,1311.60 422.84,1311.60 423.29,1311.60 423.73,1311.60 424.18,1311.60 424.62,1311.60 425.07,1311.60 425.52,1311.60 425.96,1311.60 426.41,1311.60 426.85,1311.60 427.30,1311.60 427.74,1311.60 428.19,1311.60 428.63,1311.60 429.08,1311.60 429.52,1311.60 429.97,1311.60 430.41,1311.60 430.86,1311.60 431.30,1311.60 431.75,1311.60 432.19,1311.60 432.64,1311.60 433.08,1311.60 433.53,1311.60 433.97,1311.60 434.42,1311.60 434.86,1311.60 435.31,1311.60 435.75,1311.60 436.20,1311.60 436.64,1311.60 437.09,1311.60 437.53,1311.60 437.98,1311.60 438.42,1311.60 438.87,1311.60 439.31,1311.60 439.76,1311.60 440.20,1311.60 440.65,1311.60 441.09,1311.60 441.54,1311.60 441.98,1311.60 442.43,1311.60 442.87,1311.60 443.32,1311.60 443.76,1311.60 444.21,1311.60 444.65,1311.60 445.10,1311.60 445.54,1311.60 445.99,1311.60 446.43,1311.60 446.88,1311.60 447.32,1311.60 447.77,1311.60 448.21,1311.60 448.66,1311.60 449.10,1311.60 449.55,1311.60 449.99,1311.60 450.44,1311.60 450.88,1311.60 451.33,1311.60 451.77,1311.60 452.22,1311.60 452.66,1311.60 453.11,1311.60 453.55,1311.60 454.00,1311.60 454.44,1311.60 454.89,1311.60 455.33,1311.60 455.78,1311.60 456.22,1311.60 456.67,1311.60 457.11,1311.60 457.56,1311.60 458.00,1311.60 458.45,1311.60 458.89,1311.60 459.34,1311.60 459.78,1311.60 460.23,1311.60 460.68,1311.60 461.12,1311.60 461.57,1311.60 462.01,1311.60 462.46,1311.60 462.90,1311.60 463.35,1311.60 463.79,1311.60 464.24,1311.60 464.68,1311.60 465.13,1311.60 465.57,1311.60 466.02,1311.60 466.46,1311.60 466.91,1311.60 467.35,1311.60 467.80,1311.60 468.24,1311.60 468.69,1311.60 469.13,1311.60 469.58,1311.60 470.02,1311.60 470.47,1311.60 470.91,1311.60 471.36,1311.60 471.80,1311.60 472.25,1311.60 472.69,1311.60 473.14,1311.60 473.58,1311.60 474.03,1311.60 474.47,1311.60 474.92,1311.60 475.36,1311.60 475.81,1311.60 476.25,1311.60 476.70,1311.60 477.14,1311.60 477.59,1311.60 478.03,1311.60 478.48,1311.60 478.92,1311.60 479.37,1311.60 479.81,1311.60 480.26,1311.60 480.70,1311.60 481.15,1311.60 481.59,1311.60 482.04,1311.60 482.48,1311.60 482.93,1311.60 483.37,1311.60 483.82,1311.60 484.26,1311.60 484.71,1311.60 485.15,1311.60 485.60,1311.60 486.04,1311.60 486.49,1311.60 486.93,1311.60 487.38,1311.60 487.82,1311.60 488.27,1311.60 488.71,1311.60 489.16,1311.60 489.60,1311.60 490.05,1311.60 490.49,1311.60 490.94,1311.60 491.38,1311.60 491.83,1311.60 492.27,1311.60 492.72,1311.60 493.16,1311.60 493.61,1311.60 494.05,1311.60 494.50,1311.60 2050.00,1311.60 2050.00,1306.00 494.50,1306.00 494.05,1306.00 493.61,1306.00 493.16,1306.00 492.72,1306.00 492.27,1306.00 491.83,1306.00 491.38,1306.00 490.94,1306.00 490.49,1306.00 490.05,1306.00 489.60,1306.00 489.16,1306.00 488.71,1306.00 488.27,1306.00 487.82,1306.00 487.38,1306.00 486.93,1306.00 486.49,1306.00 486.04,1306.00 485.60,1306.00 485.15,1306.00 484.71,1306.00 484.26,1306.00 483.82,1306.00 483.37,1306.00 482.93,1306.00 482.48,1306.00 482.04,1306.00 481.59,1306.00 481.15,1306.00 480.70,1306.00 480.26,1306.00 479.81,1306.00 479.37,1306.00 478.92,1306.00 478.48,1306.00 478.03,1306.00 477.59,1306.00 477.14,1306.00 476.70,1306.00 476.25,1306.00 475.81,1306.00 475.36,1306.00 474.92,1306.00 474.47,1306.00 474.03,1306.00 473.58,1306.00 473.14,1306.00 472.69,1306.00 472.25,1306.00 471.80,1306.00 471.36,1306.00 470.91,1306.00 470.47,1306.00 470.02,1306.00 469.58,1306.00 469.13,1306.00 468.69,1306.00 468.24,1306.00 467.80,1306.00 467.35,1306.00 466.91,1306.00 466.46,1306.00 466.02,1306.00 465.57,1306.00 465.13,1306.00 464.68,1306.00 464.24,1306.00 463.79,1306.00 463.35,1306.00 462.90,1306.00 462.46,1306.00 462.01,1306.00 461.57,1306.00 461.12,1306.00 460.68,1306.00 460.23,1306.00 459.78,1306.00 459.34,1306.00 458.89,1306.00 458.45,1306.00 458.00,1306.00 457.56,1306.00 457.11,1306.00 456.67,1306.00 456.22,1306.00 455.78,1306.00 455.33,1306.00 454.89,1306.00 454.44,1306.00 454.00,1306.00 453.55,1306.00 453.11,1306.00 452.66,1306.00 452.22,1306.00 451.77,1306.00 451.33,1306.00 450.88,1306.00 450.44,1306.00 449.99,1306.00 449.55,1306.00 449.10,1306.00 448.66,1306.00 448.21,1306.00 447.77,1306.00 447.32,1306.00 446.88,1306.00 446.43,1306.00 445.99,1306.00 445.54,1306.00 445.10,1306.00 444.65,1306.00 444.21,1306.00 443.76,1306.00 443.32,1306.00 442.87,1306.00 442.43,1306.00 441.98,1306.00 441.54,1306.00 441.09,1306.00 440.65,1306.00 440.20,1306.00 439.76,1306.00 439.31,1306.00 438.87,1306.00 438.42,1306.00 437.98,1306.00 437.53,1306.00 437.09,1306.00 436.64,1306.00 436.20,1306.00 435.75,1306.00 435.31,1306.00 434.86,1306.00 434.42,1306.00 433.97,1306.00 433.53,1306.00 433.08,1306.00 432.64,1306.00 432.19,1306.00 431.75,1306.00 431.30,1306.00 430.86,1306.00 430.41,1306.00 429.97,1306.00 429.52,1306.00 429.08,1306.00 428.63,1306.00 428.19,1306.00 427.74,1306.00 427.30,1306.00 426.85,1306.00 426.41,1306.00 425.96,1306.00 425.52,1306.00 425.07,1306.00 424.62,1306.00 424.18,1306.00 423.73,1306.00 423.29,1306.00 422.84,1306.00 422.40,1306.00 421.95,1306.00 421.51,1306.00 421.06,1306.00 420.62,1306.00 420.17,1306.00 419.73,1306.00 419.28,1306.00 418.84,1306.00 418.39,1306.00 417.95,1306.00 417.50,1306.00 417.06,1306.00 416.61,1306.00 416.17,1306.00 415.72,1306.00 415.28,1306.00 414.83,1306.00 414.39,1306.00 413.94,1306.00 413.50,1306.00 413.05,1306.00 412.61,1306.00 412.16,1306.00 411.72,1306.00 411.27,1306.00 410.83,1306.00 410.38,1306.00 409.94,1306.00 409.49,1306.00 409.05,1306.00 408.60,1306.00 408.16,1306.00 407.71,1306.00 407.27,1306.00 406.82,1306.00 406.38,1306.00 405.93,1306.00 405.49,1306.00 405.04,1306.00 404.60,1306.00 404.15,1306.00 403.71,1306.00 403.26,1306.00 402.82,1306.00 402.37,1306.00 401.93,1306.00 401.48,1306.00 401.04,1306.00 400.59,1306.00 400.15,1306.00 399.70,1306.00 399.26,1306.00 398.81,1306.00 398.37,1306.00 397.92,1306.00 397.48,1306.00 397.03,1306.00 396.59,1306.00 396.14,1306.00 395.70,1306.00 395.25,1306.00 394.81,1306.00 394.36,1306.00 393.92,1306.00 393.47,1306.00 393.03,1306.00 392.58,1306.00 392.14,1306.00 391.69,1306.00 391.25,1306.00 390.80,1306.00 390.35,1306.00 389.91,1306.00 389.46,1306.00 389.02,1306.00 388.57,1306.00 388.13,1306.00 387.68,1306.00 387.24,1306.00 386.79,1306.00 386.35,1306.00 385.90,1306.00 385.46,1306.00 385.01,1306.00 384.57,1306.00 384.12,1306.00 383.68,1306.00 383.23,1306.00 382.79,1306.00 382.34,1306.00 381.90,1306.00 381.45,1306.00 381.01,1306.00 380.56,1306.00 380.12,1306.00 379.67,1306.00 379.23,1306.00 378.78,1306.00 378.34,1306.00 377.89,1306.00 377.45,1306.00 377.00,1306.00 376.56,1306.00 376.11,1306.00 375.67,1306.00 375.22,1306.00 374.78,1306.00 374.33,1306.00 373.89,1306.00 373.44,1306.00 373.00,1306.00 372.55,1306.00 372.11,1306.00 371.66,1306.00 371.22,1306.00 370.77,1306.00 370.33,1306.00 369.88,1306.00 369.44,1306.00 368.99,1306.00 368.55,1306.00 368.10,1306.00 367.66,1306.00 367.21,1306.00 366.77,1306.00 366.36,1306.00 365.97,1305.99 365.55,1305.97 365.11,1305.95 364.66,1305.93 364.22,1305.91 363.78,1305.89 363.34,1305.87 362.90,1305.85 362.46,1305.83 362.02,1305.81 361.57,1305.78 361.13,1305.76 360.69,1305.74 360.25,1305.71 359.81,1305.69 359.37,1305.66 358.93,1305.63 358.49,1305.61 358.05,1305.58 357.61,1305.55 357.17,1305.52 356.73,1305.49 356.29,1305.46 355.85,1305.42 355.41,1305.39 354.97,1305.36 354.53,1305.32 354.09,1305.29 353.65,1305.25 353.21,1305.21 352.77,1305.18 352.33,1305.14 351.89,1305.10 351.45,1305.05 351.02,1305.01 350.58,1304.97 350.14,1304.92 349.70,1304.88 349.26,1304.83 348.83,1304.79 348.39,1304.74 347.95,1304.69 347.51,1304.64 347.08,1304.58 346.64,1304.53 346.20,1304.47 345.77,1304.42 345.33,1304.36 344.89,1304.30 344.46,1304.24 344.02,1304.18 343.59,1304.12 343.15,1304.05 342.72,1303.98 342.28,1303.92 341.85,1303.85 341.41,1303.78 340.98,1303.70 340.54,1303.63 340.11,1303.55 339.67,1303.47 339.24,1303.39 338.81,1303.31 338.37,1303.23 337.94,1303.14 337.51,1303.05 337.08,1302.97 336.64,1302.87 336.21,1302.78 335.78,1302.69 335.35,1302.59 334.92,1302.49 334.49,1302.39 334.06,1302.28 333.62,1302.18 333.19,1302.07 332.76,1301.96 332.33,1301.84 331.90,1301.73 331.47,1301.61 331.05,1301.49 330.62,1301.36 330.19,1301.24 329.76,1301.11 329.33,1300.97 328.90,1300.84 328.47,1300.70 328.05,1300.56 327.62,1300.41 327.19,1300.26 326.76,1300.11 326.34,1299.96 325.91,1299.80 325.48,1299.64 325.06,1299.47 324.63,1299.30 324.21,1299.13 323.78,1298.95 323.36,1298.77 322.93,1298.59 322.51,1298.40 322.08,1298.21 321.66,1298.01 321.23,1297.81 320.81,1297.61 320.38,1297.40 319.96,1297.19 319.53,1296.97 319.11,1296.74 318.69,1296.52 318.26,1296.28 317.84,1296.05 317.41,1295.80 316.99,1295.55 316.57,1295.30 316.14,1295.04 315.72,1294.78 315.29,1294.51 314.87,1294.23 314.45,1293.95 314.02,1293.66 313.60,1293.37 313.18,1293.07 312.75,1292.76 312.33,1292.44 311.90,1292.12 311.48,1291.80 311.05,1291.46 310.63,1291.12 310.20,1290.77 309.78,1290.42 309.35,1290.05 308.93,1289.68 308.50,1289.30 308.08,1288.91 307.65,1288.51 307.23,1288.11 306.80,1287.70 306.37,1287.27 305.96,1286.83 305.54,1286.38 305.12,1285.92 304.70,1285.46 304.28,1284.98 303.86,1284.49 303.44,1284.00 303.03,1283.49 302.61,1282.97 302.19,1282.44 301.77,1281.91 301.35,1281.36 300.93,1280.80 300.51,1280.22 300.09,1279.64 299.66,1279.04 299.24,1278.43 298.82,1277.81 298.40,1277.18 297.98,1276.54 297.55,1275.88 297.13,1275.20 296.71,1274.52 296.28,1273.82 295.86,1273.10 295.44,1272.37 295.01,1271.63 294.59,1270.87 294.16,1270.10 293.74,1269.31 293.31,1268.50 292.88,1267.68 292.46,1266.85 292.03,1265.99 291.60,1265.12 291.17,1264.23 290.75,1263.32 290.32,1262.40 289.89,1261.46 289.46,1260.49 289.03,1259.51 288.60,1258.51 288.17,1257.49 287.74,1256.45 287.31,1255.39 286.88,1254.31 286.45,1253.21 286.02,1252.09 285.59,1250.94 285.15,1249.77 284.72,1248.58 284.29,1247.37 283.86,1246.13 283.42,1244.87 282.99,1243.58 282.55,1242.27 282.12,1240.94 281.69,1239.57 281.25,1238.19 280.82,1236.77 280.38,1235.33 279.95,1233.86 279.51,1232.37 279.08,1230.84 278.64,1229.29 278.20,1227.70 277.77,1226.09 277.33,1224.45 276.89,1222.77 276.46,1221.07 276.02,1219.33 275.58,1217.56 275.15,1215.76 274.71,1213.92 274.27,1212.05 273.83,1210.14 273.39,1208.20 272.96,1206.23 272.52,1204.21 272.08,1202.16 271.64,1200.07 271.19,1197.95 270.75,1195.78 270.31,1193.58 269.87,1191.33 269.42,1189.05 268.98,1186.72 268.54,1184.35 268.09,1181.94 267.65,1179.48 267.21,1176.98 266.76,1174.43 266.32,1171.84 265.88,1169.20 265.43,1166.51 264.99,1163.78 264.55,1161.00 264.10,1158.16 263.66,1155.28 263.21,1152.34 262.77,1149.36 262.33,1146.31 261.88,1143.22 261.44,1140.07 261.00,1136.86 260.55,1133.60 260.11,1130.28 259.66,1126.90 259.22,1123.47 258.77,1119.97 258.33,1116.41 257.89,1112.79 257.44,1109.11 257.00,1105.36 256.55,1101.54 256.11,1097.66 255.66,1093.71 255.22,1089.70 254.78,1085.61 254.33,1081.46 253.89,1077.23 253.44,1072.93 253.00,1068.55 252.55,1064.10 252.11,1059.58 251.66,1054.97 251.22,1050.29 250.78,1045.53 250.33,1040.69 249.89,1035.76 249.44,1030.75 249.00,1025.65 248.55,1020.47 248.11,1015.20 247.66,1009.85 247.22,1004.40 246.77,998.86 246.33,993.22 245.88,987.49 245.44,981.67 244.99,975.75 244.55,969.73 244.10,963.60 243.66,957.38 243.22,951.05 242.77,944.62 242.33,938.08 241.88,931.45 241.44,924.81 240.99,918.16 240.55,911.50 240.10,904.83 239.66,898.16 239.21,891.47 238.77,884.78 238.32,878.08 237.88,871.38 237.43,864.66 236.99,857.94 236.54,851.21 236.09,844.47 235.65,837.72 235.20,830.96 234.76,824.20 234.31,817.42 233.87,810.64 233.42,803.85 232.98,797.06 232.53,790.25 232.09,783.44 231.64,776.61 231.20,769.78 230.75,762.95 230.31,756.10 229.86,749.24 229.42,742.38 228.97,735.51 228.53,728.63 228.08,721.74 227.64,714.84 227.19,707.93 226.75,701.02 226.30,694.10 225.86,687.17 225.41,680.23 224.97,673.28 224.52,666.32 224.08,659.36 223.63,652.39 223.19,645.41 222.74,638.42 222.30,631.42 221.85,624.41 221.41,617.39 220.96,610.37 220.52,603.34 220.07,596.30 219.63,589.25 219.18,582.19 218.74,575.12 218.29,568.05 217.85,560.96 217.40,553.87 216.96,546.77 216.51,539.66 216.07,532.54 215.62,525.41 215.18,518.28 214.73,511.13 214.29,503.98 213.84,496.82 213.40,489.65 212.95,482.47 212.51,475.28 212.06,468.08 211.62,460.88 211.17,453.67 210.73,446.44 210.28,439.21 209.84,431.97 209.39,424.72 208.95,417.46 208.50,410.20 208.06,402.92 207.61,395.64 207.17,388.34 206.72,381.04 206.28,373.73 205.83,366.41 205.39,359.08 204.94,351.74 204.50,344.40 204.05,337.04 203.61,329.67 203.16,322.30 202.72,314.92 202.27,307.53 201.83,300.13 201.38,292.72 200.94,285.30 200.49,277.87 200.05,270.44 199.60,262.99 199.16,255.54 198.71,248.07 198.27,240.60 197.82,233.12 197.38,225.63 196.93,218.13 196.49,210.62 196.04,203.10 195.60,195.57 195.15,188.04 194.71,180.49 194.26,172.93 193.82,165.37 193.37,157.80 192.93,150.22 192.48,142.62 192.04,135.02 191.59,127.41 191.15,119.79 190.70,112.17 190.25,104.53 189.81,96.88 189.36,89.22 188.92,81.56 188.47,73.88 188.03,66.20 187.58,58.51 187.14,50.80 186.69,43.09Z" fill="#0000FF" stroke="#0000FF" stroke-opacity="0.30" stroke-width="1.60"/>
</g>
<g fill="#77AC30" stroke="none">
<path d="M533.67,1313.10L581.33,1304.70M536.54,1321.00L578.46,1296.80M541.94,1327.44L573.06,1290.36M549.22,1331.64L565.78,1286.16M557.50,1334.70L557.50,1283.10M565.78,1331.64L549.22,1286.16M573.06,1327.44L541.94,1290.36M578.46,1321.00L536.54,1296.80M581.33,1313.10L533.67,1304.70" fill="none" stroke="#77AC30" stroke-width="6.30" stroke-linecap="butt"/>
<polygon points="1295.2,1281.7 1301.5,1286 1307.7,1281.7 1328,1316.8 1321.4,1319.5 1321.4,1328.1 1282,1328.1 1282,1319.5 1275.8,1316.8"/>
<polygon points="1799.05,1289.1 1838.1,1289.1 1838.1,1296.8 1844.4,1300.3 1824.5,1335.8 1818.2,1331.8 1812.5,1335.8 1793,1300.3 1799.05,1296.8"/>
</g>
<text class="an"><tspan class="mi" fill-opacity="0.90" x="555.80" y="1238.60" font-size="75.00" textLength="23.35" lengthAdjust="spacingAndGlyphs">t</tspan><tspan class="mr" x="585.00" y="1250.00" font-size="47.60" textLength="227.70" lengthAdjust="spacingAndGlyphs">two−phase</tspan></text>
<text class="an"><tspan class="mi" fill-opacity="0.90" x="1083.50" y="1402.30" font-size="75.00" textLength="23.35" lengthAdjust="spacingAndGlyphs">t</tspan><tspan class="mr" x="1111.40" y="1413.50" font-size="47.60" textLength="137.50" lengthAdjust="spacingAndGlyphs">double</tspan><tspan font-size="1" fill="none"> </tspan><tspan class="mr" x="1275.20" y="1413.50" font-size="47.60" textLength="120.80" lengthAdjust="spacingAndGlyphs">power</tspan><tspan font-size="1" fill="none"> </tspan><tspan class="mr" x="1421.10" y="1413.50" font-size="47.60" textLength="104.00" lengthAdjust="spacingAndGlyphs">rate2</tspan></text>
<text class="an"><tspan class="mi" fill-opacity="0.90" x="1575.90" y="1399.90" font-size="75.00" textLength="23.35" lengthAdjust="spacingAndGlyphs">t</tspan><tspan class="mr" x="1603.80" y="1411.60" font-size="47.60" textLength="137.50" lengthAdjust="spacingAndGlyphs">double</tspan><tspan font-size="1" fill="none"> </tspan><tspan class="mr" x="1766.40" y="1411.60" font-size="47.60" textLength="122.00" lengthAdjust="spacingAndGlyphs">power</tspan><tspan font-size="1" fill="none"> </tspan><tspan class="mr" x="1913.50" y="1411.60" font-size="47.60" textLength="101.60" lengthAdjust="spacingAndGlyphs">rate1</tspan></text>
<rect x="1413.30" y="82.80" width="546.10" height="173.70" fill="#fff" stroke="#262626" stroke-width="2.00"/>
<g fill="none">
<path d="M1429.40,115.40H1558.40" stroke="#4682B4" stroke-width="5.70" stroke-dasharray="7.3 5.1"/>
<path d="M1429.40,169.50H1558.40" stroke="#00BFFF" stroke-width="5.90" stroke-dasharray="26.5 22.9"/>
<path d="M1429.40,223.20H1558.40" stroke="#0000FF" stroke-width="5.50"/>
</g>
<text class="lg" y="132.80" style="white-space:pre"><tspan x="1571.00" textLength="132.00" lengthAdjust="spacingAndGlyphs">double</tspan><tspan x="1703.00" textLength="132.00" lengthAdjust="spacingAndGlyphs"> power</tspan><tspan x="1834.50" textLength="103.00" lengthAdjust="spacingAndGlyphs"> rate1</tspan></text>
<text class="lg" y="186.00" style="white-space:pre"><tspan x="1571.00" textLength="132.00" lengthAdjust="spacingAndGlyphs">double</tspan><tspan x="1703.00" textLength="132.00" lengthAdjust="spacingAndGlyphs"> power</tspan><tspan x="1834.50" textLength="106.00" lengthAdjust="spacingAndGlyphs"> rate2</tspan></text>
<text class="lg" y="239.20" style="white-space:pre"><tspan x="1570.50" textLength="203.50" lengthAdjust="spacingAndGlyphs">two-phase</tspan></text>
<rect x="408.70" y="862.10" width="481.70" height="181.90" fill="#fff"/>
<g stroke="#262626" stroke-width="2.30" fill="none">
<rect x="408.70" y="862.10" width="481.70" height="181.90"/>
<path d="M468.60,1044.00v-7.00M468.60,862.10v7.00M620.40,1044.00v-7.00M620.40,862.10v7.00M772.20,1044.00v-7.00M772.20,862.10v7.00M408.70,1042.40h7.20M890.40,1042.40h-5.20M408.70,905.78h7.20M890.40,905.78h-5.20"/>
</g>
<g clip-path="url(#ci)" fill="none" stroke-linejoin="round">
<path d="M408.2,877.7 408.8,878.1 409.5,878.5 410.1,878.8 410.8,879.2 411.4,879.6 412.1,880.0 412.7,880.3 413.4,880.7 414.0,881.1 414.7,881.5 414.8,881.5 414.8,889.0 414.7,889.0 414.0,888.6 413.4,888.2 412.7,887.8 412.1,887.5 411.4,887.1 410.8,886.7 410.1,886.3 409.5,886.0 408.8,885.6 408.2,885.2ZM420.3,884.7 420.5,884.8 421.1,885.2 421.8,885.5 422.4,885.9 423.1,886.3 423.7,886.6 424.4,887.0 425.0,887.3 425.6,887.7 426.3,888.1 426.9,888.4 427.2,888.5 427.2,896.0 426.9,895.9 426.3,895.6 425.6,895.2 425.0,894.8 424.4,894.5 423.7,894.1 423.1,893.8 422.4,893.4 421.8,893.0 421.1,892.7 420.5,892.3 420.3,892.2ZM432.7,891.5 432.7,891.6 433.4,891.9 434.0,892.3 434.7,892.6 435.3,893.0 436.0,893.3 436.6,893.7 437.3,894.0 437.9,894.4 438.6,894.7 439.2,895.0 439.6,895.2 439.6,902.7 439.2,902.5 438.6,902.2 437.9,901.9 437.3,901.5 436.6,901.2 436.0,900.8 435.3,900.5 434.7,900.1 434.0,899.8 433.4,899.4 432.7,899.1 432.7,899.0ZM445.1,898.1 445.7,898.4 446.3,898.8 447.0,899.1 447.6,899.4 448.3,899.7 448.9,900.1 449.5,900.4 450.2,900.7 450.8,901.1 451.5,901.4 452.0,901.6 452.0,909.1 451.5,908.9 450.8,908.6 450.2,908.2 449.5,907.9 448.9,907.6 448.3,907.2 447.6,906.9 447.0,906.6 446.3,906.3 445.7,905.9 445.1,905.6ZM457.5,904.4 457.9,904.6 458.6,904.9 459.2,905.2 459.9,905.6 460.5,905.9 461.2,906.2 461.8,906.5 462.5,906.8 463.1,907.1 463.8,907.4 464.4,907.7 464.4,915.2 463.8,914.9 463.1,914.6 462.5,914.3 461.8,914.0 461.2,913.7 460.5,913.4 459.9,913.1 459.2,912.7 458.6,912.4 457.9,912.1 457.5,911.9ZM469.9,910.4 470.2,910.5 470.9,910.8 471.5,911.1 472.2,911.4 472.8,911.7 473.4,912.0 474.1,912.3 474.7,912.6 475.4,912.9 476.0,913.2 476.7,913.5 476.8,913.6 476.8,921.1 476.7,921.0 476.0,920.7 475.4,920.4 474.7,920.1 474.1,919.8 473.4,919.5 472.8,919.2 472.2,918.9 471.5,918.6 470.9,918.3 470.2,918.0 469.9,917.9ZM482.3,916.1 482.5,916.2 483.1,916.5 483.8,916.8 484.4,917.1 485.1,917.4 485.7,917.6 486.4,917.9 487.0,918.2 487.7,918.5 488.3,918.8 488.9,919.1 489.2,919.2 489.2,926.7 488.9,926.6 488.3,926.3 487.7,926.0 487.0,925.7 486.4,925.4 485.7,925.1 485.1,924.9 484.4,924.6 483.8,924.3 483.1,924.0 482.5,923.7 482.3,923.6ZM494.7,921.6 494.8,921.6 495.4,921.9 496.1,922.2 496.7,922.4 497.3,922.7 498.0,923.0 498.6,923.3 499.3,923.5 499.9,923.8 500.6,924.1 501.2,924.4 501.6,924.5 501.6,932.0 501.2,931.9 500.6,931.6 499.9,931.3 499.3,931.0 498.6,930.8 498.0,930.5 497.3,930.2 496.7,929.9 496.1,929.7 495.4,929.4 494.8,929.1 494.7,929.1ZM507.1,926.8 507.7,927.0 508.3,927.3 509.0,927.6 509.6,927.8 510.3,928.1 510.9,928.4 511.6,928.6 512.2,928.9 512.8,929.1 513.5,929.4 514.0,929.6 514.0,937.1 513.5,936.9 512.8,936.6 512.2,936.4 511.6,936.1 510.9,935.9 510.3,935.6 509.6,935.3 509.0,935.1 508.3,934.8 507.7,934.5 507.1,934.3ZM519.5,931.8 520.0,932.0 520.6,932.2 521.2,932.5 521.9,932.7 522.5,933.0 523.2,933.2 523.8,933.5 524.5,933.7 525.1,934.0 525.8,934.2 526.4,934.5 526.4,942.0 525.8,941.7 525.1,941.5 524.5,941.2 523.8,941.0 523.2,940.7 522.5,940.5 521.9,940.2 521.2,940.0 520.6,939.7 520.0,939.5 519.5,939.3ZM531.9,936.6 532.2,936.7 532.9,936.9 533.5,937.2 534.2,937.4 534.8,937.7 535.5,937.9 536.1,938.1 536.7,938.4 537.4,938.6 538.0,938.9 538.7,939.1 538.8,939.1 538.8,946.6 538.7,946.6 538.0,946.4 537.4,946.1 536.7,945.9 536.1,945.6 535.5,945.4 534.8,945.2 534.2,944.9 533.5,944.7 532.9,944.4 532.2,944.2 531.9,944.1ZM544.3,941.1 544.5,941.2 545.1,941.4 545.8,941.7 546.4,941.9 547.1,942.1 547.7,942.4 548.4,942.6 549.0,942.8 549.7,943.0 550.3,943.3 551.0,943.5 551.2,943.6 551.2,951.1 551.0,951.0 550.3,950.8 549.7,950.5 549.0,950.3 548.4,950.1 547.7,949.9 547.1,949.6 546.4,949.4 545.8,949.2 545.1,948.9 544.5,948.7 544.3,948.6ZM556.7,945.5 556.8,945.5 557.4,945.7 558.1,946.0 558.7,946.2 559.4,946.4 560.0,946.6 560.6,946.8 561.3,947.1 561.9,947.3 562.6,947.5 563.2,947.7 563.6,947.8 563.6,955.3 563.2,955.2 562.6,955.0 561.9,954.8 561.3,954.6 560.6,954.3 560.0,954.1 559.4,953.9 558.7,953.7 558.1,953.5 557.4,953.2 556.8,953.0 556.7,953.0ZM569.1,949.7 569.7,949.9 570.3,950.1 571.0,950.3 571.6,950.5 572.3,950.7 572.9,950.9 573.6,951.1 574.2,951.3 574.9,951.5 575.5,951.7 576.0,951.9 576.0,959.4 575.5,959.2 574.9,959.0 574.2,958.8 573.6,958.6 572.9,958.4 572.3,958.2 571.6,958.0 571.0,957.8 570.3,957.6 569.7,957.4 569.1,957.2ZM581.5,953.6 582.0,953.8 582.6,954.0 583.3,954.2 583.9,954.4 584.5,954.6 585.2,954.8 585.8,955.0 586.5,955.2 587.1,955.4 587.8,955.6 588.4,955.8 588.4,963.3 587.8,963.1 587.1,962.9 586.5,962.7 585.8,962.5 585.2,962.3 584.5,962.1 583.9,961.9 583.3,961.7 582.6,961.5 582.0,961.3 581.5,961.1ZM593.9,957.4 594.2,957.6 594.9,957.8 595.5,957.9 596.2,958.1 596.8,958.3 597.5,958.5 598.1,958.7 598.8,958.9 599.4,959.1 600.1,959.3 600.7,959.5 600.8,959.5 600.8,967.0 600.7,967.0 600.1,966.8 599.4,966.6 598.8,966.4 598.1,966.2 597.5,966.0 596.8,965.8 596.2,965.6 595.5,965.4 594.9,965.3 594.2,965.1 593.9,964.9ZM606.3,961.1 606.5,961.2 607.2,961.3 607.8,961.5 608.4,961.7 609.1,961.9 609.7,962.1 610.4,962.3 611.0,962.4 611.7,962.6 612.3,962.8 613.0,963.0 613.2,963.0 613.2,970.5 613.0,970.5 612.3,970.3 611.7,970.1 611.0,969.9 610.4,969.8 609.7,969.6 609.1,969.4 608.4,969.2 607.8,969.0 607.2,968.8 606.5,968.7 606.3,968.6ZM618.7,964.6 618.8,964.6 619.4,964.8 620.1,965.0 620.7,965.1 621.4,965.3 622.0,965.5 622.7,965.7 623.3,965.8 624.0,966.0 624.6,966.2 625.2,966.4 625.6,966.4 625.6,973.9 625.2,973.9 624.6,973.7 624.0,973.5 623.3,973.3 622.7,973.2 622.0,973.0 621.4,972.8 620.7,972.6 620.1,972.5 619.4,972.3 618.8,972.1 618.7,972.1ZM631.1,967.9 631.1,967.9 631.7,968.1 632.4,968.2 633.0,968.4 633.6,968.6 634.3,968.7 634.9,968.9 635.6,969.1 636.2,969.2 636.9,969.4 637.5,969.6 638.0,969.7 638.0,977.2 637.5,977.1 636.9,976.9 636.2,976.7 635.6,976.6 634.9,976.4 634.3,976.2 633.6,976.1 633.0,975.9 632.4,975.7 631.7,975.6 631.1,975.4 631.1,975.4ZM643.5,971.1 644.0,971.2 644.6,971.4 645.3,971.5 645.9,971.7 646.6,971.9 647.2,972.0 647.9,972.2 648.5,972.3 649.1,972.5 649.8,972.6 650.4,972.8 650.4,980.3 649.8,980.1 649.1,980.0 648.5,979.8 647.9,979.7 647.2,979.5 646.6,979.4 645.9,979.2 645.3,979.0 644.6,978.9 644.0,978.7 643.5,978.6ZM655.9,974.1 656.3,974.2 656.9,974.4 657.5,974.5 658.2,974.7 658.8,974.8 659.5,975.0 660.1,975.1 660.8,975.3 661.4,975.4 662.1,975.6 662.7,975.7 662.8,975.8 662.8,983.3 662.7,983.2 662.1,983.1 661.4,982.9 660.8,982.8 660.1,982.6 659.5,982.5 658.8,982.3 658.2,982.2 657.5,982.0 656.9,981.9 656.3,981.7 655.9,981.6ZM668.3,977.0 668.5,977.1 669.2,977.2 669.8,977.4 670.5,977.5 671.1,977.7 671.8,977.8 672.4,978.0 673.0,978.1 673.7,978.3 674.3,978.4 675.0,978.6 675.2,978.6 675.2,986.1 675.0,986.1 674.3,985.9 673.7,985.8 673.0,985.6 672.4,985.5 671.8,985.3 671.1,985.2 670.5,985.0 669.8,984.9 669.2,984.7 668.5,984.6 668.3,984.5ZM680.7,979.8 680.8,979.8 681.4,980.0 682.1,980.1 682.7,980.3 683.4,980.4 684.0,980.5 684.7,980.7 685.3,980.8 686.0,981.0 686.6,981.1 687.3,981.2 687.6,981.3 687.6,988.8 687.3,988.7 686.6,988.6 686.0,988.5 685.3,988.3 684.7,988.2 684.0,988.0 683.4,987.9 682.7,987.8 682.1,987.6 681.4,987.5 680.8,987.3 680.7,987.3ZM693.1,982.5 693.1,982.5 693.7,982.6 694.4,982.7 695.0,982.9 695.7,983.0 696.3,983.1 696.9,983.3 697.6,983.4 698.2,983.5 698.9,983.7 699.5,983.8 700.0,983.9 700.0,991.4 699.5,991.3 698.9,991.2 698.2,991.0 697.6,990.9 696.9,990.8 696.3,990.6 695.7,990.5 695.0,990.4 694.4,990.2 693.7,990.1 693.1,990.0 693.1,990.0ZM705.5,985.0 706.0,985.1 706.6,985.2 707.3,985.4 707.9,985.5 708.6,985.6 709.2,985.8 709.9,985.9 710.5,986.0 711.2,986.1 711.8,986.3 712.4,986.4 712.4,993.9 711.8,993.8 711.2,993.6 710.5,993.5 709.9,993.4 709.2,993.3 708.6,993.1 707.9,993.0 707.3,992.9 706.6,992.7 706.0,992.6 705.5,992.5ZM717.9,987.4 718.3,987.5 718.9,987.6 719.6,987.8 720.2,987.9 720.8,988.0 721.5,988.1 722.1,988.3 722.8,988.4 723.4,988.5 724.1,988.6 724.7,988.7 724.8,988.7 724.8,996.2 724.7,996.2 724.1,996.1 723.4,996.0 722.8,995.9 722.1,995.8 721.5,995.6 720.8,995.5 720.2,995.4 719.6,995.3 718.9,995.1 718.3,995.0 717.9,994.9ZM730.3,989.8 730.5,989.8 731.2,989.9 731.8,990.0 732.5,990.2 733.1,990.3 733.8,990.4 734.4,990.5 735.1,990.6 735.7,990.7 736.3,990.9 737.0,991.0 737.2,991.0 737.2,998.5 737.0,998.5 736.3,998.4 735.7,998.2 735.1,998.1 734.4,998.0 733.8,997.9 733.1,997.8 732.5,997.7 731.8,997.5 731.2,997.4 730.5,997.3 730.3,997.3ZM742.7,992.0 742.8,992.0 743.5,992.1 744.1,992.2 744.7,992.3 745.4,992.5 746.0,992.6 746.7,992.7 747.3,992.8 748.0,992.9 748.6,993.0 749.3,993.1 749.6,993.2 749.6,1000.7 749.3,1000.6 748.6,1000.5 748.0,1000.4 747.3,1000.3 746.7,1000.2 746.0,1000.1 745.4,1000.0 744.7,999.8 744.1,999.7 743.5,999.6 742.8,999.5 742.7,999.5ZM755.1,994.1 755.1,994.1 755.7,994.2 756.4,994.3 757.0,994.4 757.7,994.5 758.3,994.6 759.0,994.8 759.6,994.9 760.2,995.0 760.9,995.1 761.5,995.2 762.0,995.2 762.0,1002.7 761.5,1002.7 760.9,1002.6 760.2,1002.5 759.6,1002.4 759.0,1002.3 758.3,1002.1 757.7,1002.0 757.0,1001.9 756.4,1001.8 755.7,1001.7 755.1,1001.6 755.1,1001.6ZM767.5,996.1 768.0,996.2 768.6,996.3 769.3,996.4 769.9,996.5 770.6,996.6 771.2,996.7 771.9,996.8 772.5,996.9 773.2,997.0 773.8,997.1 774.4,997.2 774.4,1004.7 773.8,1004.6 773.2,1004.5 772.5,1004.4 771.9,1004.3 771.2,1004.2 770.6,1004.1 769.9,1004.0 769.3,1003.9 768.6,1003.8 768.0,1003.7 767.5,1003.6ZM779.9,998.1 780.3,998.1 780.9,998.2 781.6,998.3 782.2,998.4 782.9,998.5 783.5,998.6 784.2,998.7 784.8,998.8 785.4,998.9 786.1,999.0 786.7,999.1 786.8,999.1 786.8,1006.6 786.7,1006.6 786.1,1006.5 785.4,1006.4 784.8,1006.3 784.2,1006.2 783.5,1006.1 782.9,1006.0 782.2,1005.9 781.6,1005.8 780.9,1005.7 780.3,1005.6 779.9,1005.6ZM792.3,999.9 792.5,1000.0 793.2,1000.1 793.8,1000.2 794.5,1000.3 795.1,1000.4 795.8,1000.5 796.4,1000.5 797.1,1000.6 797.7,1000.7 798.4,1000.8 799.0,1000.9 799.2,1000.9 799.2,1008.4 799.0,1008.4 798.4,1008.3 797.7,1008.2 797.1,1008.1 796.4,1008.0 795.8,1008.0 795.1,1007.9 794.5,1007.8 793.8,1007.7 793.2,1007.6 792.5,1007.5 792.3,1007.4ZM804.7,1001.7 804.8,1001.7 805.5,1001.8 806.1,1001.9 806.8,1002.0 807.4,1002.1 808.1,1002.2 808.7,1002.3 809.3,1002.4 810.0,1002.5 810.6,1002.5 811.3,1002.6 811.6,1002.7 811.6,1010.2 811.3,1010.1 810.6,1010.0 810.0,1010.0 809.3,1009.9 808.7,1009.8 808.1,1009.7 807.4,1009.6 806.8,1009.5 806.1,1009.4 805.5,1009.3 804.8,1009.2 804.7,1009.2ZM817.1,1003.4 817.1,1003.4 817.7,1003.5 818.4,1003.6 819.0,1003.7 819.7,1003.8 820.3,1003.9 821.0,1003.9 821.6,1004.0 822.3,1004.1 822.9,1004.2 823.6,1004.3 824.0,1004.3 824.0,1011.8 823.6,1011.8 822.9,1011.7 822.3,1011.6 821.6,1011.5 821.0,1011.4 820.3,1011.4 819.7,1011.3 819.0,1011.2 818.4,1011.1 817.7,1011.0 817.1,1010.9 817.1,1010.9ZM829.5,1005.0 830.0,1005.1 830.7,1005.2 831.3,1005.3 832.0,1005.4 832.6,1005.4 833.2,1005.5 833.9,1005.6 834.5,1005.7 835.2,1005.8 835.8,1005.9 836.4,1005.9 836.4,1013.4 835.8,1013.4 835.2,1013.3 834.5,1013.2 833.9,1013.1 833.2,1013.0 832.6,1012.9 832.0,1012.9 831.3,1012.8 830.7,1012.7 830.0,1012.6 829.5,1012.5ZM841.9,1006.6 842.3,1006.7 842.9,1006.7 843.6,1006.8 844.2,1006.9 844.9,1007.0 845.5,1007.0 846.2,1007.1 846.8,1007.2 847.5,1007.3 848.1,1007.4 848.7,1007.4 848.8,1007.4 848.8,1014.9 848.7,1014.9 848.1,1014.9 847.5,1014.8 846.8,1014.7 846.2,1014.6 845.5,1014.5 844.9,1014.5 844.2,1014.4 843.6,1014.3 842.9,1014.2 842.3,1014.2 841.9,1014.1ZM854.3,1008.1 854.6,1008.1 855.2,1008.2 855.9,1008.3 856.5,1008.4 857.1,1008.4 857.8,1008.5 858.4,1008.6 859.1,1008.6 859.7,1008.7 860.4,1008.8 861.0,1008.9 861.2,1008.9 861.2,1016.4 861.0,1016.4 860.4,1016.3 859.7,1016.2 859.1,1016.1 858.4,1016.1 857.8,1016.0 857.1,1015.9 856.5,1015.9 855.9,1015.8 855.2,1015.7 854.6,1015.6 854.3,1015.6ZM866.7,1009.5 866.8,1009.5 867.5,1009.6 868.1,1009.7 868.8,1009.7 869.4,1009.8 870.1,1009.9 870.7,1010.0 871.4,1010.0 872.0,1010.1 872.6,1010.2 873.3,1010.2 873.6,1010.3 873.6,1017.8 873.3,1017.7 872.6,1017.7 872.0,1017.6 871.4,1017.5 870.7,1017.5 870.1,1017.4 869.4,1017.3 868.8,1017.2 868.1,1017.2 867.5,1017.1 866.8,1017.0 866.7,1017.0ZM879.1,1010.9 879.1,1010.9 879.8,1010.9 880.4,1011.0 881.0,1011.1 881.7,1011.2 882.3,1011.2 883.0,1011.3 883.6,1011.4 884.3,1011.4 884.9,1011.5 885.6,1011.6 886.0,1011.6 886.0,1019.1 885.6,1019.1 884.9,1019.0 884.3,1018.9 883.6,1018.9 883.0,1018.8 882.3,1018.7 881.7,1018.7 881.0,1018.6 880.4,1018.5 879.8,1018.4 879.1,1018.4 879.1,1018.4ZM891.5,1012.2 892.0,1012.2 892.0,1019.7 891.5,1019.7Z" fill="#008B8B" stroke="none"/>
<path d="M408.2,888.0 410.1,889.3 412.1,890.6 414.0,891.9 416.0,893.2 417.9,894.4 419.8,895.7 421.8,896.9 423.7,898.2 425.6,899.4 427.6,900.6 429.5,901.8 431.5,903.0 432.7,903.8 433.4,904.1 433.4,912.8 432.7,912.5 431.5,911.7 429.5,910.5 427.6,909.3 425.6,908.1 423.7,906.9 421.8,905.6 419.8,904.4 417.9,903.1 416.0,901.9 414.0,900.6 412.1,899.3 410.1,898.0 408.2,896.7ZM457.5,918.1 457.9,918.3 459.9,919.4 461.8,920.4 463.8,921.5 465.7,922.5 467.6,923.5 469.6,924.5 471.5,925.5 473.4,926.5 475.4,927.5 477.3,928.5 479.3,929.5 481.2,930.4 482.5,931.1 483.0,931.3 483.0,940.0 482.5,939.8 481.2,939.1 479.3,938.2 477.3,937.2 475.4,936.2 473.4,935.2 471.5,934.2 469.6,933.2 467.6,932.2 465.7,931.2 463.8,930.2 461.8,929.1 459.9,928.1 457.9,927.0 457.5,926.8ZM507.1,942.5 507.7,942.8 509.6,943.7 511.6,944.5 513.5,945.3 515.4,946.2 517.4,947.0 519.3,947.8 521.2,948.6 523.2,949.4 525.1,950.2 527.1,951.0 529.0,951.8 530.9,952.6 532.2,953.1 532.6,953.2 532.6,961.9 532.2,961.8 530.9,961.3 529.0,960.5 527.1,959.7 525.1,958.9 523.2,958.1 521.2,957.3 519.3,956.5 517.4,955.7 515.4,954.9 513.5,954.0 511.6,953.2 509.6,952.4 507.7,951.5 507.1,951.2ZM556.7,962.2 556.8,962.3 558.7,963.0 560.6,963.7 562.6,964.3 564.5,965.0 566.5,965.7 568.4,966.3 570.3,967.0 572.3,967.6 574.2,968.3 576.2,968.9 578.1,969.5 580.0,970.1 582.0,970.8 582.2,970.8 582.2,979.5 582.0,979.5 580.0,978.8 578.1,978.2 576.2,977.6 574.2,977.0 572.3,976.3 570.3,975.7 568.4,975.0 566.5,974.4 564.5,973.7 562.6,973.0 560.6,972.4 558.7,971.7 556.8,971.0 556.7,970.9ZM606.3,978.1 606.5,978.1 608.4,978.7 610.4,979.2 612.3,979.8 614.3,980.3 616.2,980.9 618.1,981.4 620.1,981.9 622.0,982.4 624.0,982.9 625.9,983.4 627.8,983.9 629.8,984.4 631.7,984.9 631.8,984.9 631.8,993.6 631.7,993.6 629.8,993.1 627.8,992.6 625.9,992.1 624.0,991.6 622.0,991.1 620.1,990.6 618.1,990.1 616.2,989.6 614.3,989.0 612.3,988.5 610.4,987.9 608.4,987.4 606.5,986.8 606.3,986.8ZM655.9,990.8 656.3,990.8 658.2,991.3 660.1,991.7 662.1,992.2 664.0,992.6 665.9,993.0 667.9,993.4 669.8,993.8 671.8,994.3 673.7,994.7 675.6,995.1 677.6,995.5 679.5,995.9 680.8,996.1 681.4,996.2 681.4,1004.9 680.8,1004.8 679.5,1004.6 677.6,1004.2 675.6,1003.8 673.7,1003.4 671.8,1003.0 669.8,1002.5 667.9,1002.1 665.9,1001.7 664.0,1001.3 662.1,1000.9 660.1,1000.4 658.2,1000.0 656.3,999.5 655.9,999.5ZM705.5,1000.9 706.0,1001.0 707.9,1001.3 709.9,1001.7 711.8,1002.0 713.7,1002.4 715.7,1002.7 717.6,1003.0 719.6,1003.4 721.5,1003.7 723.4,1004.0 725.4,1004.3 727.3,1004.7 729.2,1005.0 730.5,1005.2 731.0,1005.3 731.0,1014.0 730.5,1013.9 729.2,1013.7 727.3,1013.4 725.4,1013.0 723.4,1012.7 721.5,1012.4 719.6,1012.1 717.6,1011.7 715.7,1011.4 713.7,1011.1 711.8,1010.7 709.9,1010.4 707.9,1010.0 706.0,1009.7 705.5,1009.6ZM755.1,1008.9 755.1,1008.9 757.0,1009.2 759.0,1009.5 760.9,1009.8 762.8,1010.0 764.8,1010.3 766.7,1010.6 768.6,1010.8 770.6,1011.1 772.5,1011.4 774.5,1011.6 776.4,1011.9 778.3,1012.1 780.3,1012.4 780.6,1012.4 780.6,1021.1 780.3,1021.1 778.3,1020.8 776.4,1020.6 774.5,1020.3 772.5,1020.1 770.6,1019.8 768.6,1019.5 766.7,1019.3 764.8,1019.0 762.8,1018.7 760.9,1018.5 759.0,1018.2 757.0,1017.9 755.1,1017.6 755.1,1017.6ZM804.7,1015.3 804.8,1015.4 806.8,1015.6 808.7,1015.8 810.6,1016.0 812.6,1016.2 814.5,1016.4 816.4,1016.7 818.4,1016.9 820.3,1017.1 822.3,1017.3 824.2,1017.5 826.1,1017.7 828.1,1017.9 830.0,1018.1 830.2,1018.1 830.2,1026.8 830.0,1026.8 828.1,1026.6 826.1,1026.4 824.2,1026.2 822.3,1026.0 820.3,1025.8 818.4,1025.6 816.4,1025.4 814.5,1025.1 812.6,1024.9 810.6,1024.7 808.7,1024.5 806.8,1024.3 804.8,1024.1 804.7,1024.0ZM854.3,1020.4 854.6,1020.4 856.5,1020.6 858.4,1020.8 860.4,1021.0 862.3,1021.1 864.2,1021.3 866.2,1021.5 868.1,1021.6 870.1,1021.8 872.0,1021.9 873.9,1022.1 875.9,1022.3 877.8,1022.4 879.8,1022.6 879.8,1022.6 879.8,1031.3 879.8,1031.3 877.8,1031.1 875.9,1031.0 873.9,1030.8 872.0,1030.6 870.1,1030.5 868.1,1030.3 866.2,1030.2 864.2,1030.0 862.3,1029.8 860.4,1029.7 858.4,1029.5 856.5,1029.3 854.6,1029.1 854.3,1029.1Z" fill="#00BFFF" stroke="none"/>
<path d="M392.70,982.17 L395.29,983.22 L397.89,984.25 L400.48,985.26 L403.07,986.26 L405.67,987.25 L408.26,988.21 L410.85,989.17 L413.45,990.10 L416.04,991.03 L418.64,991.93 L421.23,992.83 L423.82,993.71 L426.42,994.57 L429.01,995.42 L431.60,996.26 L434.20,997.08 L436.79,997.89 L439.38,998.69 L441.98,999.48 L444.57,1000.25 L447.16,1001.01 L449.76,1001.76 L452.35,1002.49 L454.95,1003.21 L457.54,1003.93 L460.13,1004.63 L462.73,1005.32 L465.32,1005.99 L467.91,1006.66 L470.51,1007.31 L473.10,1007.96 L475.69,1008.59 L478.29,1009.22 L480.88,1009.83 L483.47,1010.43 L486.07,1011.03 L488.66,1011.61 L491.26,1012.18 L493.85,1012.75 L496.44,1013.30 L499.04,1013.85 L501.63,1014.39 L504.22,1014.92 L506.82,1015.43 L509.41,1015.95 L512.00,1016.45 L514.60,1016.94 L517.19,1017.43 L519.78,1017.90 L522.38,1018.37 L524.97,1018.83 L527.57,1019.29 L530.16,1019.73 L532.75,1020.17 L535.35,1020.60 L537.94,1021.03 L540.53,1021.44 L543.13,1021.85 L545.72,1022.25 L548.31,1022.65 L550.91,1023.04 L553.50,1023.42 L556.09,1023.80 L558.69,1024.17 L561.28,1024.53 L563.88,1024.88 L566.47,1025.24 L569.06,1025.58 L571.66,1025.92 L574.25,1026.25 L576.84,1026.58 L579.44,1026.90 L582.03,1027.21 L584.62,1027.53 L587.22,1027.83 L589.81,1028.13 L592.40,1028.42 L595.00,1028.71 L597.59,1029.00 L600.19,1029.28 L602.78,1029.55 L605.37,1029.82 L607.97,1030.08 L610.56,1030.34 L613.15,1030.60 L615.75,1030.85 L618.34,1031.10 L620.93,1031.34 L623.53,1031.58 L626.12,1031.81 L628.71,1032.04 L631.31,1032.27 L633.90,1032.49 L636.50,1032.70 L639.09,1032.92 L641.68,1033.13 L644.28,1033.33 L646.87,1033.54 L649.46,1033.73 L652.06,1033.93 L654.65,1034.12 L657.24,1034.31 L659.84,1034.49 L662.43,1034.67 L665.02,1034.85 L667.62,1035.03 L670.21,1035.20 L672.81,1035.37 L675.40,1035.53 L677.99,1035.70 L680.59,1035.85 L683.18,1036.01 L685.77,1036.16 L688.37,1036.32 L690.96,1036.46 L693.55,1036.61 L696.15,1036.75 L698.74,1036.89 L701.33,1037.03 L703.93,1037.16 L706.52,1037.30 L709.12,1037.42 L711.71,1037.55 L714.30,1037.68 L716.90,1037.80 L719.49,1037.92 L722.08,1038.04 L724.68,1038.15 L727.27,1038.27 L729.86,1038.38 L732.46,1038.49 L735.05,1038.60 L737.64,1038.70 L740.24,1038.81 L742.83,1038.91 L745.43,1039.01 L748.02,1039.10 L750.61,1039.20 L753.21,1039.29 L755.80,1039.39 L758.39,1039.48 L760.99,1039.56 L763.58,1039.65 L766.17,1039.74 L768.77,1039.82 L771.36,1039.90 L773.95,1039.98 L776.55,1040.06 L779.14,1040.14 L781.74,1040.21 L784.33,1040.29 L786.92,1040.36 L789.52,1040.43 L792.11,1040.50 L794.70,1040.57 L797.30,1040.64 L799.89,1040.70 L802.48,1040.77 L805.08,1040.83 L807.67,1040.89 L810.26,1040.96 L812.86,1041.02 L815.45,1041.07 L818.05,1041.13 L820.64,1041.19 L823.23,1041.24 L825.83,1041.30 L828.42,1041.35 L831.01,1041.40 L833.61,1041.45 L836.20,1041.50 L838.79,1041.55 L841.39,1041.60 L843.98,1041.65 L846.57,1041.69 L849.17,1041.74 L851.76,1041.78 L854.36,1041.82 L856.95,1041.87 L859.54,1041.91 L862.14,1041.95 L864.73,1041.99 L867.32,1042.03 L869.92,1042.06 L872.51,1042.10 L875.10,1042.14 L877.70,1042.17 L880.29,1042.21 L882.88,1042.24 L885.48,1042.28 L888.07,1042.31 L890.67,1042.34 L893.26,1042.37 L895.85,1042.40 L898.45,1042.40 L901.04,1042.40 L903.63,1042.40 L906.23,1042.40 L908.82,1042.40" stroke="#0000FF" stroke-width="6.60"/>
</g>
<text class="tk" transform="translate(469.40,1109.50) scale(1,1.015)" text-anchor="middle">1.2</text>
<text class="tk" transform="translate(621.20,1109.50) scale(1,1.015)" text-anchor="middle">1.4</text>
<text class="tk" transform="translate(773.00,1109.50) scale(1,1.015)" text-anchor="middle">1.6</text>
<text class="tk" transform="translate(390.60,1061.20) scale(1,1.015)" text-anchor="end">0</text>
<text class="tk" transform="translate(390.60,924.58) scale(1,1.015)" text-anchor="end">0.06</text>
<text class="mi" fill="#262626" fill-opacity="0.90" x="1103.60" y="1641.00" font-size="59.50" textLength="18.53" lengthAdjust="spacingAndGlyphs">t</text>
<text transform="translate(48.50,802.30) rotate(-90)" fill="#262626" fill-opacity="0.85"><tspan class="mi" x="0" y="0" font-size="51.50">e</tspan><tspan class="mr" x="23.50" y="7.70" font-size="38.40">1</tspan></text>
</svg></body></html>
